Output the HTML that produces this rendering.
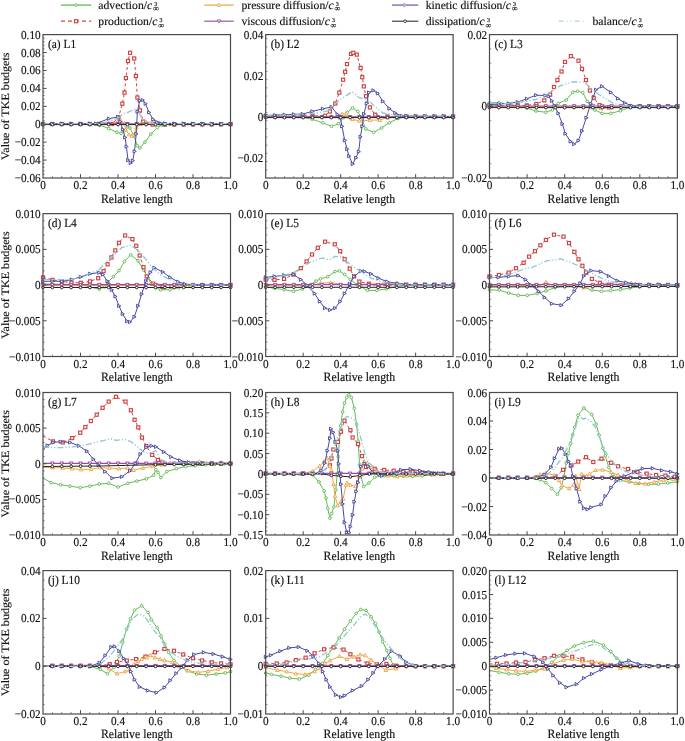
<!DOCTYPE html>
<html><head><meta charset="utf-8"><style>
html,body{margin:0;padding:0;background:#fff;overflow:hidden;width:685px;height:741px;}
svg{-webkit-font-smoothing:antialiased;text-rendering:geometricPrecision;will-change:transform;}
svg{display:block;}
text{font-family:"Liberation Serif", serif;fill:#111;stroke:#111;stroke-width:0.15px;}
</style></head><body>
<svg width="685" height="741" viewBox="0 0 685 741">
<path d="M61 5.1H91.2" stroke="#6cc060" stroke-width="1.4"/>
<circle cx="76.10" cy="5.10" r="1.35" fill="#fff" stroke="#6cc060" stroke-width="0.95"/>
<text transform="translate(98.30 8.80) scale(1 1.0)" font-size="11.7">advection/<tspan font-style="italic">c</tspan><tspan font-size="6" dx="2.1" dy="-2.8">3</tspan><tspan font-size="8.2" dx="-4.3" dy="5.4">∞</tspan></text>
<path d="M204.2 5.1H233.7" stroke="#f2b060" stroke-width="1.4"/>
<path d="M218.95 3.26L220.70 6.41H217.20Z" fill="#fff" stroke="#f2b060" stroke-width="0.95"/>
<text transform="translate(241.40 8.80) scale(1 1.0)" font-size="11.7">pressure diffusion/<tspan font-style="italic">c</tspan><tspan font-size="6" dx="2.1" dy="-2.8">3</tspan><tspan font-size="8.2" dx="-4.3" dy="5.4">∞</tspan></text>
<path d="M392 5.1H418.3" stroke="#8e8cc8" stroke-width="1.7"/>
<path d="M406.90 5.10L403.75 3.44V6.76Z" fill="#fff" stroke="#8e8cc8" stroke-width="0.95"/>
<text transform="translate(425.70 8.80) scale(1 1.0)" font-size="11.7">kinetic diffusion/<tspan font-style="italic">c</tspan><tspan font-size="6" dx="2.1" dy="-2.8">3</tspan><tspan font-size="8.2" dx="-4.3" dy="5.4">∞</tspan></text>
<path d="M61 21.2H91.2" stroke="#d04848" stroke-width="1.2" stroke-dasharray="4 3"/>
<rect x="74.55" y="19.65" width="3.1" height="3.1" fill="#fff" stroke="#d04848" stroke-width="1.15"/>
<text transform="translate(98.30 24.90) scale(1 1.0)" font-size="11.7">production/<tspan font-style="italic">c</tspan><tspan font-size="6" dx="2.1" dy="-2.8">3</tspan><tspan font-size="8.2" dx="-4.3" dy="5.4">∞</tspan></text>
<path d="M204.2 21.2H233.7" stroke="#a060a8" stroke-width="1.3"/>
<path d="M218.95 23.04L220.70 19.89H217.20Z" fill="#fff" stroke="#a060a8" stroke-width="0.95"/>
<text transform="translate(241.40 24.90) scale(1 1.0)" font-size="11.7">viscous diffusion/<tspan font-style="italic">c</tspan><tspan font-size="6" dx="2.1" dy="-2.8">3</tspan><tspan font-size="8.2" dx="-4.3" dy="5.4">∞</tspan></text>
<path d="M392 21.2H418.3" stroke="#333" stroke-width="1.1"/>
<circle cx="405.15" cy="21.20" r="1.35" fill="#fff" stroke="#333" stroke-width="0.95"/>
<text transform="translate(425.70 24.90) scale(1 1.0)" font-size="11.7">dissipation/<tspan font-style="italic">c</tspan><tspan font-size="6" dx="2.1" dy="-2.8">3</tspan><tspan font-size="8.2" dx="-4.3" dy="5.4">∞</tspan></text>
<path d="M558.6 21.2H584.7" stroke="#a8d8dc" stroke-width="1.3" stroke-dasharray="5 3 1 3 1 3"/>
<text transform="translate(592.50 24.90) scale(1 1.0)" font-size="11.7">balance/<tspan font-style="italic">c</tspan><tspan font-size="6" dx="2.1" dy="-2.8">3</tspan><tspan font-size="8.2" dx="-4.3" dy="5.4">∞</tspan></text>
<path d="M43.0 124.2 L96.0 124.2 L100.0 125.1 L108.8 128.6 L116.9 132.3 L121.0 133.4 L124.0 131.0 L127.2 126.8 L130.0 128.0 L134.1 136.3 L137.4 145.8 L139.9 148.0 L145.0 142.1 L150.9 134.1 L157.4 127.5 L162.0 125.0 L170.0 124.4 L230.5 124.2" stroke="#62bb55" stroke-width="1.0" fill="none" stroke-linejoin="round"/>
<circle cx="96.00" cy="124.20" r="1.35" fill="#fff" stroke="#62bb55" stroke-width="0.95"/>
<circle cx="100.00" cy="125.10" r="1.35" fill="#fff" stroke="#62bb55" stroke-width="0.95"/>
<circle cx="108.80" cy="128.60" r="1.35" fill="#fff" stroke="#62bb55" stroke-width="0.95"/>
<circle cx="116.90" cy="132.30" r="1.35" fill="#fff" stroke="#62bb55" stroke-width="0.95"/>
<circle cx="121.00" cy="133.40" r="1.35" fill="#fff" stroke="#62bb55" stroke-width="0.95"/>
<circle cx="124.00" cy="131.00" r="1.35" fill="#fff" stroke="#62bb55" stroke-width="0.95"/>
<circle cx="127.20" cy="126.80" r="1.35" fill="#fff" stroke="#62bb55" stroke-width="0.95"/>
<circle cx="130.00" cy="128.00" r="1.35" fill="#fff" stroke="#62bb55" stroke-width="0.95"/>
<circle cx="134.10" cy="136.30" r="1.35" fill="#fff" stroke="#62bb55" stroke-width="0.95"/>
<circle cx="137.40" cy="145.80" r="1.35" fill="#fff" stroke="#62bb55" stroke-width="0.95"/>
<circle cx="139.90" cy="148.00" r="1.35" fill="#fff" stroke="#62bb55" stroke-width="0.95"/>
<circle cx="145.00" cy="142.10" r="1.35" fill="#fff" stroke="#62bb55" stroke-width="0.95"/>
<circle cx="150.90" cy="134.10" r="1.35" fill="#fff" stroke="#62bb55" stroke-width="0.95"/>
<circle cx="157.40" cy="127.50" r="1.35" fill="#fff" stroke="#62bb55" stroke-width="0.95"/>
<circle cx="162.00" cy="125.00" r="1.35" fill="#fff" stroke="#62bb55" stroke-width="0.95"/>
<circle cx="170.00" cy="124.40" r="1.35" fill="#fff" stroke="#62bb55" stroke-width="0.95"/>
<circle cx="43.00" cy="124.20" r="1.35" fill="#fff" stroke="#62bb55" stroke-width="0.95"/>
<circle cx="52.38" cy="124.20" r="1.35" fill="#fff" stroke="#62bb55" stroke-width="0.95"/>
<circle cx="61.75" cy="124.20" r="1.35" fill="#fff" stroke="#62bb55" stroke-width="0.95"/>
<circle cx="71.12" cy="124.20" r="1.35" fill="#fff" stroke="#62bb55" stroke-width="0.95"/>
<circle cx="80.50" cy="124.20" r="1.35" fill="#fff" stroke="#62bb55" stroke-width="0.95"/>
<circle cx="89.88" cy="124.20" r="1.35" fill="#fff" stroke="#62bb55" stroke-width="0.95"/>
<circle cx="174.25" cy="124.39" r="1.35" fill="#fff" stroke="#62bb55" stroke-width="0.95"/>
<circle cx="183.62" cy="124.35" r="1.35" fill="#fff" stroke="#62bb55" stroke-width="0.95"/>
<circle cx="193.00" cy="124.32" r="1.35" fill="#fff" stroke="#62bb55" stroke-width="0.95"/>
<circle cx="202.38" cy="124.29" r="1.35" fill="#fff" stroke="#62bb55" stroke-width="0.95"/>
<circle cx="211.75" cy="124.26" r="1.35" fill="#fff" stroke="#62bb55" stroke-width="0.95"/>
<circle cx="221.12" cy="124.23" r="1.35" fill="#fff" stroke="#62bb55" stroke-width="0.95"/>
<circle cx="230.50" cy="124.20" r="1.35" fill="#fff" stroke="#62bb55" stroke-width="0.95"/>
<path d="M43.0 124.0 L112.0 124.0 L118.5 117.3 L122.4 103.7 L124.5 92.6 L125.9 78.0 L128.0 61.0 L130.1 52.8 L134.2 58.5 L135.9 76.0 L137.4 97.5 L140.0 110.4 L143.2 121.6 L152.6 124.6 L230.5 124.2" stroke="#cf4242" stroke-width="1.0" fill="none" stroke-linejoin="round" stroke-dasharray="3 2.5"/>
<rect x="110.45" y="122.45" width="3.1" height="3.1" fill="#fff" stroke="#cf4242" stroke-width="1.15"/>
<rect x="116.95" y="115.75" width="3.1" height="3.1" fill="#fff" stroke="#cf4242" stroke-width="1.15"/>
<rect x="120.85" y="102.15" width="3.1" height="3.1" fill="#fff" stroke="#cf4242" stroke-width="1.15"/>
<rect x="122.95" y="91.05" width="3.1" height="3.1" fill="#fff" stroke="#cf4242" stroke-width="1.15"/>
<rect x="124.35" y="76.45" width="3.1" height="3.1" fill="#fff" stroke="#cf4242" stroke-width="1.15"/>
<rect x="126.45" y="59.45" width="3.1" height="3.1" fill="#fff" stroke="#cf4242" stroke-width="1.15"/>
<rect x="128.55" y="51.25" width="3.1" height="3.1" fill="#fff" stroke="#cf4242" stroke-width="1.15"/>
<rect x="132.65" y="56.95" width="3.1" height="3.1" fill="#fff" stroke="#cf4242" stroke-width="1.15"/>
<rect x="134.35" y="74.45" width="3.1" height="3.1" fill="#fff" stroke="#cf4242" stroke-width="1.15"/>
<rect x="135.85" y="95.95" width="3.1" height="3.1" fill="#fff" stroke="#cf4242" stroke-width="1.15"/>
<rect x="138.45" y="108.85" width="3.1" height="3.1" fill="#fff" stroke="#cf4242" stroke-width="1.15"/>
<rect x="141.65" y="120.05" width="3.1" height="3.1" fill="#fff" stroke="#cf4242" stroke-width="1.15"/>
<rect x="151.05" y="123.05" width="3.1" height="3.1" fill="#fff" stroke="#cf4242" stroke-width="1.15"/>
<rect x="41.45" y="122.45" width="3.1" height="3.1" fill="#fff" stroke="#cf4242" stroke-width="1.15"/>
<rect x="50.83" y="122.45" width="3.1" height="3.1" fill="#fff" stroke="#cf4242" stroke-width="1.15"/>
<rect x="60.20" y="122.45" width="3.1" height="3.1" fill="#fff" stroke="#cf4242" stroke-width="1.15"/>
<rect x="69.58" y="122.45" width="3.1" height="3.1" fill="#fff" stroke="#cf4242" stroke-width="1.15"/>
<rect x="78.95" y="122.45" width="3.1" height="3.1" fill="#fff" stroke="#cf4242" stroke-width="1.15"/>
<rect x="88.33" y="122.45" width="3.1" height="3.1" fill="#fff" stroke="#cf4242" stroke-width="1.15"/>
<rect x="97.70" y="122.45" width="3.1" height="3.1" fill="#fff" stroke="#cf4242" stroke-width="1.15"/>
<rect x="163.32" y="122.99" width="3.1" height="3.1" fill="#fff" stroke="#cf4242" stroke-width="1.15"/>
<rect x="172.70" y="122.94" width="3.1" height="3.1" fill="#fff" stroke="#cf4242" stroke-width="1.15"/>
<rect x="182.07" y="122.89" width="3.1" height="3.1" fill="#fff" stroke="#cf4242" stroke-width="1.15"/>
<rect x="191.45" y="122.84" width="3.1" height="3.1" fill="#fff" stroke="#cf4242" stroke-width="1.15"/>
<rect x="200.83" y="122.79" width="3.1" height="3.1" fill="#fff" stroke="#cf4242" stroke-width="1.15"/>
<rect x="210.20" y="122.75" width="3.1" height="3.1" fill="#fff" stroke="#cf4242" stroke-width="1.15"/>
<rect x="219.57" y="122.70" width="3.1" height="3.1" fill="#fff" stroke="#cf4242" stroke-width="1.15"/>
<rect x="228.95" y="122.65" width="3.1" height="3.1" fill="#fff" stroke="#cf4242" stroke-width="1.15"/>
<path d="M43.0 124.0 L100.0 124.0 L110.0 123.9 L117.3 122.0 L121.0 121.0 L124.6 123.1 L125.7 129.7 L129.0 134.5 L131.9 135.9 L134.1 134.8 L136.3 127.5 L140.7 124.2 L146.5 122.4 L153.8 121.7 L157.4 122.8 L165.0 124.0 L230.5 124.0" stroke="#f0a445" stroke-width="1.0" fill="none" stroke-linejoin="round"/>
<path d="M100.00 122.16L101.75 125.31H98.25Z" fill="#fff" stroke="#f0a445" stroke-width="0.95"/>
<path d="M110.00 122.06L111.75 125.21H108.25Z" fill="#fff" stroke="#f0a445" stroke-width="0.95"/>
<path d="M117.30 120.16L119.05 123.31H115.55Z" fill="#fff" stroke="#f0a445" stroke-width="0.95"/>
<path d="M121.00 119.16L122.75 122.31H119.25Z" fill="#fff" stroke="#f0a445" stroke-width="0.95"/>
<path d="M124.60 121.26L126.35 124.41H122.85Z" fill="#fff" stroke="#f0a445" stroke-width="0.95"/>
<path d="M125.70 127.86L127.45 131.01H123.95Z" fill="#fff" stroke="#f0a445" stroke-width="0.95"/>
<path d="M129.00 132.66L130.75 135.81H127.25Z" fill="#fff" stroke="#f0a445" stroke-width="0.95"/>
<path d="M131.90 134.06L133.65 137.21H130.15Z" fill="#fff" stroke="#f0a445" stroke-width="0.95"/>
<path d="M134.10 132.96L135.85 136.11H132.35Z" fill="#fff" stroke="#f0a445" stroke-width="0.95"/>
<path d="M136.30 125.66L138.05 128.81H134.55Z" fill="#fff" stroke="#f0a445" stroke-width="0.95"/>
<path d="M140.70 122.36L142.45 125.51H138.95Z" fill="#fff" stroke="#f0a445" stroke-width="0.95"/>
<path d="M146.50 120.56L148.25 123.71H144.75Z" fill="#fff" stroke="#f0a445" stroke-width="0.95"/>
<path d="M153.80 119.86L155.55 123.01H152.05Z" fill="#fff" stroke="#f0a445" stroke-width="0.95"/>
<path d="M157.40 120.96L159.15 124.11H155.65Z" fill="#fff" stroke="#f0a445" stroke-width="0.95"/>
<path d="M165.00 122.16L166.75 125.31H163.25Z" fill="#fff" stroke="#f0a445" stroke-width="0.95"/>
<path d="M43.00 122.16L44.75 125.31H41.25Z" fill="#fff" stroke="#f0a445" stroke-width="0.95"/>
<path d="M52.38 122.16L54.12 125.31H50.62Z" fill="#fff" stroke="#f0a445" stroke-width="0.95"/>
<path d="M61.75 122.16L63.50 125.31H60.00Z" fill="#fff" stroke="#f0a445" stroke-width="0.95"/>
<path d="M71.12 122.16L72.88 125.31H69.38Z" fill="#fff" stroke="#f0a445" stroke-width="0.95"/>
<path d="M80.50 122.16L82.25 125.31H78.75Z" fill="#fff" stroke="#f0a445" stroke-width="0.95"/>
<path d="M89.88 122.16L91.62 125.31H88.12Z" fill="#fff" stroke="#f0a445" stroke-width="0.95"/>
<path d="M174.25 122.16L176.00 125.31H172.50Z" fill="#fff" stroke="#f0a445" stroke-width="0.95"/>
<path d="M183.62 122.16L185.38 125.31H181.88Z" fill="#fff" stroke="#f0a445" stroke-width="0.95"/>
<path d="M193.00 122.16L194.75 125.31H191.25Z" fill="#fff" stroke="#f0a445" stroke-width="0.95"/>
<path d="M202.38 122.16L204.13 125.31H200.63Z" fill="#fff" stroke="#f0a445" stroke-width="0.95"/>
<path d="M211.75 122.16L213.50 125.31H210.00Z" fill="#fff" stroke="#f0a445" stroke-width="0.95"/>
<path d="M221.12 122.16L222.88 125.31H219.38Z" fill="#fff" stroke="#f0a445" stroke-width="0.95"/>
<path d="M230.50 122.16L232.25 125.31H228.75Z" fill="#fff" stroke="#f0a445" stroke-width="0.95"/>
<path d="M43.0 123.8 L230.5 123.8" stroke="#9a4aa5" stroke-width="1.2" fill="none" stroke-linejoin="round"/>
<path d="M43.00 125.64L44.75 122.49H41.25Z" fill="#fff" stroke="#9a4aa5" stroke-width="0.95"/>
<path d="M52.38 125.64L54.12 122.49H50.62Z" fill="#fff" stroke="#9a4aa5" stroke-width="0.95"/>
<path d="M61.75 125.64L63.50 122.49H60.00Z" fill="#fff" stroke="#9a4aa5" stroke-width="0.95"/>
<path d="M71.12 125.64L72.88 122.49H69.38Z" fill="#fff" stroke="#9a4aa5" stroke-width="0.95"/>
<path d="M80.50 125.64L82.25 122.49H78.75Z" fill="#fff" stroke="#9a4aa5" stroke-width="0.95"/>
<path d="M89.88 125.64L91.62 122.49H88.12Z" fill="#fff" stroke="#9a4aa5" stroke-width="0.95"/>
<path d="M99.25 125.64L101.00 122.49H97.50Z" fill="#fff" stroke="#9a4aa5" stroke-width="0.95"/>
<path d="M108.62 125.64L110.38 122.49H106.88Z" fill="#fff" stroke="#9a4aa5" stroke-width="0.95"/>
<path d="M118.00 125.64L119.75 122.49H116.25Z" fill="#fff" stroke="#9a4aa5" stroke-width="0.95"/>
<path d="M127.38 125.64L129.12 122.49H125.62Z" fill="#fff" stroke="#9a4aa5" stroke-width="0.95"/>
<path d="M136.75 125.64L138.50 122.49H135.00Z" fill="#fff" stroke="#9a4aa5" stroke-width="0.95"/>
<path d="M146.12 125.64L147.88 122.49H144.38Z" fill="#fff" stroke="#9a4aa5" stroke-width="0.95"/>
<path d="M155.50 125.64L157.25 122.49H153.75Z" fill="#fff" stroke="#9a4aa5" stroke-width="0.95"/>
<path d="M164.88 125.64L166.62 122.49H163.12Z" fill="#fff" stroke="#9a4aa5" stroke-width="0.95"/>
<path d="M174.25 125.64L176.00 122.49H172.50Z" fill="#fff" stroke="#9a4aa5" stroke-width="0.95"/>
<path d="M183.62 125.64L185.38 122.49H181.88Z" fill="#fff" stroke="#9a4aa5" stroke-width="0.95"/>
<path d="M193.00 125.64L194.75 122.49H191.25Z" fill="#fff" stroke="#9a4aa5" stroke-width="0.95"/>
<path d="M202.38 125.64L204.13 122.49H200.63Z" fill="#fff" stroke="#9a4aa5" stroke-width="0.95"/>
<path d="M211.75 125.64L213.50 122.49H210.00Z" fill="#fff" stroke="#9a4aa5" stroke-width="0.95"/>
<path d="M221.12 125.64L222.88 122.49H219.38Z" fill="#fff" stroke="#9a4aa5" stroke-width="0.95"/>
<path d="M230.50 125.64L232.25 122.49H228.75Z" fill="#fff" stroke="#9a4aa5" stroke-width="0.95"/>
<path d="M43.0 123.9 L96.0 123.6 L108.8 118.7 L118.0 116.9 L120.2 121.7 L122.8 129.3 L125.0 137.4 L126.4 146.5 L128.0 160.1 L130.6 163.0 L132.7 160.7 L134.5 151.4 L136.2 133.9 L137.4 111.7 L139.7 100.7 L142.6 100.1 L145.5 103.7 L149.0 112.4 L153.1 119.4 L157.2 122.2 L160.7 123.4 L230.5 124.0" stroke="#4848a2" stroke-width="1.0" fill="none" stroke-linejoin="round"/>
<path d="M97.75 123.60L94.60 121.94V125.26Z" fill="#fff" stroke="#4848a2" stroke-width="0.95"/>
<path d="M110.55 118.70L107.40 117.04V120.36Z" fill="#fff" stroke="#4848a2" stroke-width="0.95"/>
<path d="M119.75 116.90L116.60 115.24V118.56Z" fill="#fff" stroke="#4848a2" stroke-width="0.95"/>
<path d="M121.95 121.70L118.80 120.04V123.36Z" fill="#fff" stroke="#4848a2" stroke-width="0.95"/>
<path d="M124.55 129.30L121.40 127.64V130.96Z" fill="#fff" stroke="#4848a2" stroke-width="0.95"/>
<path d="M126.75 137.40L123.60 135.74V139.06Z" fill="#fff" stroke="#4848a2" stroke-width="0.95"/>
<path d="M128.15 146.50L125.00 144.84V148.16Z" fill="#fff" stroke="#4848a2" stroke-width="0.95"/>
<path d="M129.75 160.10L126.60 158.44V161.76Z" fill="#fff" stroke="#4848a2" stroke-width="0.95"/>
<path d="M132.35 163.00L129.20 161.34V164.66Z" fill="#fff" stroke="#4848a2" stroke-width="0.95"/>
<path d="M134.45 160.70L131.30 159.04V162.36Z" fill="#fff" stroke="#4848a2" stroke-width="0.95"/>
<path d="M136.25 151.40L133.10 149.74V153.06Z" fill="#fff" stroke="#4848a2" stroke-width="0.95"/>
<path d="M137.95 133.90L134.80 132.24V135.56Z" fill="#fff" stroke="#4848a2" stroke-width="0.95"/>
<path d="M139.15 111.70L136.00 110.04V113.36Z" fill="#fff" stroke="#4848a2" stroke-width="0.95"/>
<path d="M141.45 100.70L138.30 99.04V102.36Z" fill="#fff" stroke="#4848a2" stroke-width="0.95"/>
<path d="M144.35 100.10L141.20 98.44V101.76Z" fill="#fff" stroke="#4848a2" stroke-width="0.95"/>
<path d="M147.25 103.70L144.10 102.04V105.36Z" fill="#fff" stroke="#4848a2" stroke-width="0.95"/>
<path d="M150.75 112.40L147.60 110.74V114.06Z" fill="#fff" stroke="#4848a2" stroke-width="0.95"/>
<path d="M154.85 119.40L151.70 117.74V121.06Z" fill="#fff" stroke="#4848a2" stroke-width="0.95"/>
<path d="M158.95 122.20L155.80 120.54V123.86Z" fill="#fff" stroke="#4848a2" stroke-width="0.95"/>
<path d="M162.45 123.40L159.30 121.74V125.06Z" fill="#fff" stroke="#4848a2" stroke-width="0.95"/>
<path d="M44.75 123.90L41.60 122.24V125.56Z" fill="#fff" stroke="#4848a2" stroke-width="0.95"/>
<path d="M54.12 123.85L50.98 122.18V125.51Z" fill="#fff" stroke="#4848a2" stroke-width="0.95"/>
<path d="M63.50 123.79L60.35 122.13V125.46Z" fill="#fff" stroke="#4848a2" stroke-width="0.95"/>
<path d="M72.88 123.74L69.72 122.08V125.40Z" fill="#fff" stroke="#4848a2" stroke-width="0.95"/>
<path d="M82.25 123.69L79.10 122.03V125.35Z" fill="#fff" stroke="#4848a2" stroke-width="0.95"/>
<path d="M91.62 123.63L88.47 121.97V125.30Z" fill="#fff" stroke="#4848a2" stroke-width="0.95"/>
<path d="M166.62 123.44L163.47 121.77V125.10Z" fill="#fff" stroke="#4848a2" stroke-width="0.95"/>
<path d="M176.00 123.52L172.85 121.85V125.18Z" fill="#fff" stroke="#4848a2" stroke-width="0.95"/>
<path d="M185.38 123.60L182.22 121.93V125.26Z" fill="#fff" stroke="#4848a2" stroke-width="0.95"/>
<path d="M194.75 123.68L191.60 122.02V125.34Z" fill="#fff" stroke="#4848a2" stroke-width="0.95"/>
<path d="M204.13 123.76L200.98 122.10V125.42Z" fill="#fff" stroke="#4848a2" stroke-width="0.95"/>
<path d="M213.50 123.84L210.35 122.18V125.50Z" fill="#fff" stroke="#4848a2" stroke-width="0.95"/>
<path d="M222.88 123.92L219.72 122.26V125.58Z" fill="#fff" stroke="#4848a2" stroke-width="0.95"/>
<path d="M232.25 124.00L229.10 122.34V125.66Z" fill="#fff" stroke="#4848a2" stroke-width="0.95"/>
<path d="M43.0 124.6 L230.5 124.6" stroke="#222" stroke-width="1.0" fill="none" stroke-linejoin="round"/>
<circle cx="43.00" cy="124.60" r="1.35" fill="#fff" stroke="#222" stroke-width="0.95"/>
<circle cx="52.38" cy="124.60" r="1.35" fill="#fff" stroke="#222" stroke-width="0.95"/>
<circle cx="61.75" cy="124.60" r="1.35" fill="#fff" stroke="#222" stroke-width="0.95"/>
<circle cx="71.12" cy="124.60" r="1.35" fill="#fff" stroke="#222" stroke-width="0.95"/>
<circle cx="80.50" cy="124.60" r="1.35" fill="#fff" stroke="#222" stroke-width="0.95"/>
<circle cx="89.88" cy="124.60" r="1.35" fill="#fff" stroke="#222" stroke-width="0.95"/>
<circle cx="99.25" cy="124.60" r="1.35" fill="#fff" stroke="#222" stroke-width="0.95"/>
<circle cx="108.62" cy="124.60" r="1.35" fill="#fff" stroke="#222" stroke-width="0.95"/>
<circle cx="118.00" cy="124.60" r="1.35" fill="#fff" stroke="#222" stroke-width="0.95"/>
<circle cx="127.38" cy="124.60" r="1.35" fill="#fff" stroke="#222" stroke-width="0.95"/>
<circle cx="136.75" cy="124.60" r="1.35" fill="#fff" stroke="#222" stroke-width="0.95"/>
<circle cx="146.12" cy="124.60" r="1.35" fill="#fff" stroke="#222" stroke-width="0.95"/>
<circle cx="155.50" cy="124.60" r="1.35" fill="#fff" stroke="#222" stroke-width="0.95"/>
<circle cx="164.88" cy="124.60" r="1.35" fill="#fff" stroke="#222" stroke-width="0.95"/>
<circle cx="174.25" cy="124.60" r="1.35" fill="#fff" stroke="#222" stroke-width="0.95"/>
<circle cx="183.62" cy="124.60" r="1.35" fill="#fff" stroke="#222" stroke-width="0.95"/>
<circle cx="193.00" cy="124.60" r="1.35" fill="#fff" stroke="#222" stroke-width="0.95"/>
<circle cx="202.38" cy="124.60" r="1.35" fill="#fff" stroke="#222" stroke-width="0.95"/>
<circle cx="211.75" cy="124.60" r="1.35" fill="#fff" stroke="#222" stroke-width="0.95"/>
<circle cx="221.12" cy="124.60" r="1.35" fill="#fff" stroke="#222" stroke-width="0.95"/>
<circle cx="230.50" cy="124.60" r="1.35" fill="#fff" stroke="#222" stroke-width="0.95"/>
<path d="M43.0 123.6 L100.0 123.6 L110.0 121.0 L119.5 117.3 L123.4 113.6 L128.0 112.4 L132.7 110.0 L135.0 109.5 L138.5 112.4 L142.0 118.2 L145.8 122.4 L150.0 123.6 L230.5 123.6" stroke="#8cc8cf" stroke-width="1.3" fill="none" stroke-linejoin="round" stroke-dasharray="6 2 1.2 2 1.2 2"/>
<path d="M43.00 160.07h3.6M43.00 142.15h3.6M43.00 124.22h3.6M43.00 106.30h3.6M43.00 88.38h3.6M43.00 70.45h3.6M43.00 52.52h3.6M80.50 178.00v-3.8M118.00 178.00v-3.8M155.50 178.00v-3.8M193.00 178.00v-3.8" stroke="#4a4a4a" stroke-width="1" fill="none"/>
<path d="M43.00 174.41h1.8M43.00 170.83h1.8M43.00 167.25h1.8M43.00 163.66h1.8M43.00 156.49h1.8M43.00 152.91h1.8M43.00 149.32h1.8M43.00 145.73h1.8M43.00 138.56h1.8M43.00 134.98h1.8M43.00 131.39h1.8M43.00 127.81h1.8M43.00 120.64h1.8M43.00 117.05h1.8M43.00 113.47h1.8M43.00 109.89h1.8M43.00 102.71h1.8M43.00 99.13h1.8M43.00 95.55h1.8M43.00 91.96h1.8M43.00 84.79h1.8M43.00 81.21h1.8M43.00 77.62h1.8M43.00 74.03h1.8M43.00 66.86h1.8M43.00 63.28h1.8M43.00 59.69h1.8M43.00 56.11h1.8M43.00 48.94h1.8M43.00 45.36h1.8M43.00 41.77h1.8M43.00 38.19h1.8M52.38 178.00v-2.0M61.75 178.00v-2.0M71.12 178.00v-2.0M89.88 178.00v-2.0M99.25 178.00v-2.0M108.62 178.00v-2.0M127.38 178.00v-2.0M136.75 178.00v-2.0M146.12 178.00v-2.0M164.88 178.00v-2.0M174.25 178.00v-2.0M183.62 178.00v-2.0M202.38 178.00v-2.0M211.75 178.00v-2.0M221.12 178.00v-2.0" stroke="#7a7a7a" stroke-width="0.8" fill="none"/>
<rect x="43.00" y="34.60" width="187.50" height="143.40" stroke="#4a4a4a" stroke-width="1.2" fill="none"/>
<text transform="translate(40.60 182.00) scale(1 1.08)" text-anchor="end" font-size="11.2">−0.06</text>
<text transform="translate(40.60 164.07) scale(1 1.08)" text-anchor="end" font-size="11.2">−0.04</text>
<text transform="translate(40.60 146.15) scale(1 1.08)" text-anchor="end" font-size="11.2">−0.02</text>
<text transform="translate(40.60 128.22) scale(1 1.08)" text-anchor="end" font-size="11.2">0</text>
<text transform="translate(40.60 110.30) scale(1 1.08)" text-anchor="end" font-size="11.2">0.02</text>
<text transform="translate(40.60 92.38) scale(1 1.08)" text-anchor="end" font-size="11.2">0.04</text>
<text transform="translate(40.60 74.45) scale(1 1.08)" text-anchor="end" font-size="11.2">0.06</text>
<text transform="translate(40.60 56.52) scale(1 1.08)" text-anchor="end" font-size="11.2">0.08</text>
<text transform="translate(40.60 38.60) scale(1 1.08)" text-anchor="end" font-size="11.2">0.10</text>
<text transform="translate(43.00 189.00) scale(1 1.08)" text-anchor="middle" font-size="11.2">0</text>
<text transform="translate(80.50 189.00) scale(1 1.08)" text-anchor="middle" font-size="11.2">0.2</text>
<text transform="translate(118.00 189.00) scale(1 1.08)" text-anchor="middle" font-size="11.2">0.4</text>
<text transform="translate(155.50 189.00) scale(1 1.08)" text-anchor="middle" font-size="11.2">0.6</text>
<text transform="translate(193.00 189.00) scale(1 1.08)" text-anchor="middle" font-size="11.2">0.8</text>
<text transform="translate(230.50 189.00) scale(1 1.08)" text-anchor="middle" font-size="11.2">1.0</text>
<text transform="translate(136.75 202.80) scale(1 1.08)" text-anchor="middle" font-size="11.8">Relative length</text>
<text transform="translate(8.5 106.30) rotate(-90) scale(1.08 1)" text-anchor="middle" font-size="11.2">Value of TKE budgets</text>
<text transform="translate(48.00 48.00) scale(1 1.08)" font-size="11.4">(a) L1</text>
<path d="M265.7 116.5 L300.0 116.6 L312.3 119.3 L322.8 122.8 L331.5 126.3 L338.5 123.7 L343.8 117.5 L347.3 112.3 L352.6 107.9 L357.8 111.4 L361.3 117.5 L365.7 128.9 L373.6 132.4 L381.5 128.0 L389.3 122.8 L398.1 118.4 L405.0 116.8 L453.1 116.6" stroke="#62bb55" stroke-width="1.0" fill="none" stroke-linejoin="round"/>
<circle cx="300.00" cy="116.60" r="1.35" fill="#fff" stroke="#62bb55" stroke-width="0.95"/>
<circle cx="312.30" cy="119.30" r="1.35" fill="#fff" stroke="#62bb55" stroke-width="0.95"/>
<circle cx="322.80" cy="122.80" r="1.35" fill="#fff" stroke="#62bb55" stroke-width="0.95"/>
<circle cx="331.50" cy="126.30" r="1.35" fill="#fff" stroke="#62bb55" stroke-width="0.95"/>
<circle cx="338.50" cy="123.70" r="1.35" fill="#fff" stroke="#62bb55" stroke-width="0.95"/>
<circle cx="343.80" cy="117.50" r="1.35" fill="#fff" stroke="#62bb55" stroke-width="0.95"/>
<circle cx="347.30" cy="112.30" r="1.35" fill="#fff" stroke="#62bb55" stroke-width="0.95"/>
<circle cx="352.60" cy="107.90" r="1.35" fill="#fff" stroke="#62bb55" stroke-width="0.95"/>
<circle cx="357.80" cy="111.40" r="1.35" fill="#fff" stroke="#62bb55" stroke-width="0.95"/>
<circle cx="361.30" cy="117.50" r="1.35" fill="#fff" stroke="#62bb55" stroke-width="0.95"/>
<circle cx="365.70" cy="128.90" r="1.35" fill="#fff" stroke="#62bb55" stroke-width="0.95"/>
<circle cx="373.60" cy="132.40" r="1.35" fill="#fff" stroke="#62bb55" stroke-width="0.95"/>
<circle cx="381.50" cy="128.00" r="1.35" fill="#fff" stroke="#62bb55" stroke-width="0.95"/>
<circle cx="389.30" cy="122.80" r="1.35" fill="#fff" stroke="#62bb55" stroke-width="0.95"/>
<circle cx="398.10" cy="118.40" r="1.35" fill="#fff" stroke="#62bb55" stroke-width="0.95"/>
<circle cx="265.70" cy="116.50" r="1.35" fill="#fff" stroke="#62bb55" stroke-width="0.95"/>
<circle cx="275.07" cy="116.53" r="1.35" fill="#fff" stroke="#62bb55" stroke-width="0.95"/>
<circle cx="284.44" cy="116.55" r="1.35" fill="#fff" stroke="#62bb55" stroke-width="0.95"/>
<circle cx="293.81" cy="116.58" r="1.35" fill="#fff" stroke="#62bb55" stroke-width="0.95"/>
<circle cx="415.62" cy="116.76" r="1.35" fill="#fff" stroke="#62bb55" stroke-width="0.95"/>
<circle cx="424.99" cy="116.72" r="1.35" fill="#fff" stroke="#62bb55" stroke-width="0.95"/>
<circle cx="434.36" cy="116.68" r="1.35" fill="#fff" stroke="#62bb55" stroke-width="0.95"/>
<circle cx="443.73" cy="116.64" r="1.35" fill="#fff" stroke="#62bb55" stroke-width="0.95"/>
<circle cx="453.10" cy="116.60" r="1.35" fill="#fff" stroke="#62bb55" stroke-width="0.95"/>
<path d="M265.7 116.2 L325.0 115.8 L329.9 111.5 L335.3 103.5 L339.3 92.6 L343.1 79.7 L345.1 71.8 L347.0 64.1 L351.0 53.9 L353.3 52.8 L356.8 54.6 L360.6 68.0 L362.3 77.2 L363.8 86.4 L366.0 96.2 L369.9 107.4 L375.2 114.7 L382.0 116.5 L453.1 116.5" stroke="#cf4242" stroke-width="1.0" fill="none" stroke-linejoin="round" stroke-dasharray="3 2.5"/>
<rect x="323.45" y="114.25" width="3.1" height="3.1" fill="#fff" stroke="#cf4242" stroke-width="1.15"/>
<rect x="328.35" y="109.95" width="3.1" height="3.1" fill="#fff" stroke="#cf4242" stroke-width="1.15"/>
<rect x="333.75" y="101.95" width="3.1" height="3.1" fill="#fff" stroke="#cf4242" stroke-width="1.15"/>
<rect x="337.75" y="91.05" width="3.1" height="3.1" fill="#fff" stroke="#cf4242" stroke-width="1.15"/>
<rect x="341.55" y="78.15" width="3.1" height="3.1" fill="#fff" stroke="#cf4242" stroke-width="1.15"/>
<rect x="343.55" y="70.25" width="3.1" height="3.1" fill="#fff" stroke="#cf4242" stroke-width="1.15"/>
<rect x="345.45" y="62.55" width="3.1" height="3.1" fill="#fff" stroke="#cf4242" stroke-width="1.15"/>
<rect x="349.45" y="52.35" width="3.1" height="3.1" fill="#fff" stroke="#cf4242" stroke-width="1.15"/>
<rect x="351.75" y="51.25" width="3.1" height="3.1" fill="#fff" stroke="#cf4242" stroke-width="1.15"/>
<rect x="355.25" y="53.05" width="3.1" height="3.1" fill="#fff" stroke="#cf4242" stroke-width="1.15"/>
<rect x="359.05" y="66.45" width="3.1" height="3.1" fill="#fff" stroke="#cf4242" stroke-width="1.15"/>
<rect x="360.75" y="75.65" width="3.1" height="3.1" fill="#fff" stroke="#cf4242" stroke-width="1.15"/>
<rect x="362.25" y="84.85" width="3.1" height="3.1" fill="#fff" stroke="#cf4242" stroke-width="1.15"/>
<rect x="364.45" y="94.65" width="3.1" height="3.1" fill="#fff" stroke="#cf4242" stroke-width="1.15"/>
<rect x="368.35" y="105.85" width="3.1" height="3.1" fill="#fff" stroke="#cf4242" stroke-width="1.15"/>
<rect x="373.65" y="113.15" width="3.1" height="3.1" fill="#fff" stroke="#cf4242" stroke-width="1.15"/>
<rect x="264.15" y="114.65" width="3.1" height="3.1" fill="#fff" stroke="#cf4242" stroke-width="1.15"/>
<rect x="273.52" y="114.59" width="3.1" height="3.1" fill="#fff" stroke="#cf4242" stroke-width="1.15"/>
<rect x="282.89" y="114.52" width="3.1" height="3.1" fill="#fff" stroke="#cf4242" stroke-width="1.15"/>
<rect x="292.26" y="114.46" width="3.1" height="3.1" fill="#fff" stroke="#cf4242" stroke-width="1.15"/>
<rect x="301.63" y="114.40" width="3.1" height="3.1" fill="#fff" stroke="#cf4242" stroke-width="1.15"/>
<rect x="311.00" y="114.33" width="3.1" height="3.1" fill="#fff" stroke="#cf4242" stroke-width="1.15"/>
<rect x="385.96" y="114.95" width="3.1" height="3.1" fill="#fff" stroke="#cf4242" stroke-width="1.15"/>
<rect x="395.33" y="114.95" width="3.1" height="3.1" fill="#fff" stroke="#cf4242" stroke-width="1.15"/>
<rect x="404.70" y="114.95" width="3.1" height="3.1" fill="#fff" stroke="#cf4242" stroke-width="1.15"/>
<rect x="414.07" y="114.95" width="3.1" height="3.1" fill="#fff" stroke="#cf4242" stroke-width="1.15"/>
<rect x="423.44" y="114.95" width="3.1" height="3.1" fill="#fff" stroke="#cf4242" stroke-width="1.15"/>
<rect x="432.81" y="114.95" width="3.1" height="3.1" fill="#fff" stroke="#cf4242" stroke-width="1.15"/>
<rect x="442.18" y="114.95" width="3.1" height="3.1" fill="#fff" stroke="#cf4242" stroke-width="1.15"/>
<rect x="451.55" y="114.95" width="3.1" height="3.1" fill="#fff" stroke="#cf4242" stroke-width="1.15"/>
<path d="M265.7 116.6 L336.0 116.6 L342.0 114.0 L346.4 114.0 L352.6 119.3 L359.6 121.0 L370.0 120.1 L379.7 120.1 L387.6 117.5 L395.0 116.7 L453.1 116.6" stroke="#f0a445" stroke-width="1.0" fill="none" stroke-linejoin="round"/>
<path d="M342.00 112.16L343.75 115.31H340.25Z" fill="#fff" stroke="#f0a445" stroke-width="0.95"/>
<path d="M346.40 112.16L348.15 115.31H344.65Z" fill="#fff" stroke="#f0a445" stroke-width="0.95"/>
<path d="M352.60 117.46L354.35 120.61H350.85Z" fill="#fff" stroke="#f0a445" stroke-width="0.95"/>
<path d="M359.60 119.16L361.35 122.31H357.85Z" fill="#fff" stroke="#f0a445" stroke-width="0.95"/>
<path d="M370.00 118.26L371.75 121.41H368.25Z" fill="#fff" stroke="#f0a445" stroke-width="0.95"/>
<path d="M379.70 118.26L381.45 121.41H377.95Z" fill="#fff" stroke="#f0a445" stroke-width="0.95"/>
<path d="M387.60 115.66L389.35 118.81H385.85Z" fill="#fff" stroke="#f0a445" stroke-width="0.95"/>
<path d="M265.70 114.76L267.45 117.91H263.95Z" fill="#fff" stroke="#f0a445" stroke-width="0.95"/>
<path d="M275.07 114.76L276.82 117.91H273.32Z" fill="#fff" stroke="#f0a445" stroke-width="0.95"/>
<path d="M284.44 114.76L286.19 117.91H282.69Z" fill="#fff" stroke="#f0a445" stroke-width="0.95"/>
<path d="M293.81 114.76L295.56 117.91H292.06Z" fill="#fff" stroke="#f0a445" stroke-width="0.95"/>
<path d="M303.18 114.76L304.93 117.91H301.43Z" fill="#fff" stroke="#f0a445" stroke-width="0.95"/>
<path d="M312.55 114.76L314.30 117.91H310.80Z" fill="#fff" stroke="#f0a445" stroke-width="0.95"/>
<path d="M321.92 114.76L323.67 117.91H320.17Z" fill="#fff" stroke="#f0a445" stroke-width="0.95"/>
<path d="M331.29 114.76L333.04 117.91H329.54Z" fill="#fff" stroke="#f0a445" stroke-width="0.95"/>
<path d="M406.25 114.84L408.00 117.99H404.50Z" fill="#fff" stroke="#f0a445" stroke-width="0.95"/>
<path d="M415.62 114.83L417.37 117.98H413.87Z" fill="#fff" stroke="#f0a445" stroke-width="0.95"/>
<path d="M424.99 114.81L426.74 117.96H423.24Z" fill="#fff" stroke="#f0a445" stroke-width="0.95"/>
<path d="M434.36 114.79L436.11 117.94H432.61Z" fill="#fff" stroke="#f0a445" stroke-width="0.95"/>
<path d="M443.73 114.78L445.48 117.93H441.98Z" fill="#fff" stroke="#f0a445" stroke-width="0.95"/>
<path d="M453.10 114.76L454.85 117.91H451.35Z" fill="#fff" stroke="#f0a445" stroke-width="0.95"/>
<path d="M265.7 116.9 L453.1 116.9" stroke="#9a4aa5" stroke-width="1.2" fill="none" stroke-linejoin="round"/>
<path d="M265.70 118.74L267.45 115.59H263.95Z" fill="#fff" stroke="#9a4aa5" stroke-width="0.95"/>
<path d="M275.07 118.74L276.82 115.59H273.32Z" fill="#fff" stroke="#9a4aa5" stroke-width="0.95"/>
<path d="M284.44 118.74L286.19 115.59H282.69Z" fill="#fff" stroke="#9a4aa5" stroke-width="0.95"/>
<path d="M293.81 118.74L295.56 115.59H292.06Z" fill="#fff" stroke="#9a4aa5" stroke-width="0.95"/>
<path d="M303.18 118.74L304.93 115.59H301.43Z" fill="#fff" stroke="#9a4aa5" stroke-width="0.95"/>
<path d="M312.55 118.74L314.30 115.59H310.80Z" fill="#fff" stroke="#9a4aa5" stroke-width="0.95"/>
<path d="M321.92 118.74L323.67 115.59H320.17Z" fill="#fff" stroke="#9a4aa5" stroke-width="0.95"/>
<path d="M331.29 118.74L333.04 115.59H329.54Z" fill="#fff" stroke="#9a4aa5" stroke-width="0.95"/>
<path d="M340.66 118.74L342.41 115.59H338.91Z" fill="#fff" stroke="#9a4aa5" stroke-width="0.95"/>
<path d="M350.03 118.74L351.78 115.59H348.28Z" fill="#fff" stroke="#9a4aa5" stroke-width="0.95"/>
<path d="M359.40 118.74L361.15 115.59H357.65Z" fill="#fff" stroke="#9a4aa5" stroke-width="0.95"/>
<path d="M368.77 118.74L370.52 115.59H367.02Z" fill="#fff" stroke="#9a4aa5" stroke-width="0.95"/>
<path d="M378.14 118.74L379.89 115.59H376.39Z" fill="#fff" stroke="#9a4aa5" stroke-width="0.95"/>
<path d="M387.51 118.74L389.26 115.59H385.76Z" fill="#fff" stroke="#9a4aa5" stroke-width="0.95"/>
<path d="M396.88 118.74L398.63 115.59H395.13Z" fill="#fff" stroke="#9a4aa5" stroke-width="0.95"/>
<path d="M406.25 118.74L408.00 115.59H404.50Z" fill="#fff" stroke="#9a4aa5" stroke-width="0.95"/>
<path d="M415.62 118.74L417.37 115.59H413.87Z" fill="#fff" stroke="#9a4aa5" stroke-width="0.95"/>
<path d="M424.99 118.74L426.74 115.59H423.24Z" fill="#fff" stroke="#9a4aa5" stroke-width="0.95"/>
<path d="M434.36 118.74L436.11 115.59H432.61Z" fill="#fff" stroke="#9a4aa5" stroke-width="0.95"/>
<path d="M443.73 118.74L445.48 115.59H441.98Z" fill="#fff" stroke="#9a4aa5" stroke-width="0.95"/>
<path d="M453.10 118.74L454.85 115.59H451.35Z" fill="#fff" stroke="#9a4aa5" stroke-width="0.95"/>
<path d="M265.7 115.5 L302.6 114.0 L312.3 111.4 L322.8 108.8 L331.5 107.0 L337.5 114.5 L340.3 117.5 L342.0 126.3 L344.7 140.3 L347.0 149.0 L349.0 156.0 L352.6 164.0 L356.0 157.8 L358.7 151.7 L360.4 136.8 L362.2 126.3 L363.9 114.0 L366.6 103.5 L368.9 92.6 L373.3 90.4 L377.7 93.3 L382.8 101.3 L389.3 108.6 L395.2 113.0 L401.8 115.9 L453.1 116.5" stroke="#4848a2" stroke-width="1.0" fill="none" stroke-linejoin="round"/>
<path d="M304.35 114.00L301.20 112.34V115.66Z" fill="#fff" stroke="#4848a2" stroke-width="0.95"/>
<path d="M314.05 111.40L310.90 109.74V113.06Z" fill="#fff" stroke="#4848a2" stroke-width="0.95"/>
<path d="M324.55 108.80L321.40 107.14V110.46Z" fill="#fff" stroke="#4848a2" stroke-width="0.95"/>
<path d="M333.25 107.00L330.10 105.34V108.66Z" fill="#fff" stroke="#4848a2" stroke-width="0.95"/>
<path d="M339.25 114.50L336.10 112.84V116.16Z" fill="#fff" stroke="#4848a2" stroke-width="0.95"/>
<path d="M342.05 117.50L338.90 115.84V119.16Z" fill="#fff" stroke="#4848a2" stroke-width="0.95"/>
<path d="M343.75 126.30L340.60 124.64V127.96Z" fill="#fff" stroke="#4848a2" stroke-width="0.95"/>
<path d="M346.45 140.30L343.30 138.64V141.96Z" fill="#fff" stroke="#4848a2" stroke-width="0.95"/>
<path d="M348.75 149.00L345.60 147.34V150.66Z" fill="#fff" stroke="#4848a2" stroke-width="0.95"/>
<path d="M350.75 156.00L347.60 154.34V157.66Z" fill="#fff" stroke="#4848a2" stroke-width="0.95"/>
<path d="M354.35 164.00L351.20 162.34V165.66Z" fill="#fff" stroke="#4848a2" stroke-width="0.95"/>
<path d="M357.75 157.80L354.60 156.14V159.46Z" fill="#fff" stroke="#4848a2" stroke-width="0.95"/>
<path d="M360.45 151.70L357.30 150.04V153.36Z" fill="#fff" stroke="#4848a2" stroke-width="0.95"/>
<path d="M362.15 136.80L359.00 135.14V138.46Z" fill="#fff" stroke="#4848a2" stroke-width="0.95"/>
<path d="M363.95 126.30L360.80 124.64V127.96Z" fill="#fff" stroke="#4848a2" stroke-width="0.95"/>
<path d="M365.65 114.00L362.50 112.34V115.66Z" fill="#fff" stroke="#4848a2" stroke-width="0.95"/>
<path d="M368.35 103.50L365.20 101.84V105.16Z" fill="#fff" stroke="#4848a2" stroke-width="0.95"/>
<path d="M370.65 92.60L367.50 90.94V94.26Z" fill="#fff" stroke="#4848a2" stroke-width="0.95"/>
<path d="M375.05 90.40L371.90 88.74V92.06Z" fill="#fff" stroke="#4848a2" stroke-width="0.95"/>
<path d="M379.45 93.30L376.30 91.64V94.96Z" fill="#fff" stroke="#4848a2" stroke-width="0.95"/>
<path d="M384.55 101.30L381.40 99.64V102.96Z" fill="#fff" stroke="#4848a2" stroke-width="0.95"/>
<path d="M391.05 108.60L387.90 106.94V110.26Z" fill="#fff" stroke="#4848a2" stroke-width="0.95"/>
<path d="M396.95 113.00L393.80 111.34V114.66Z" fill="#fff" stroke="#4848a2" stroke-width="0.95"/>
<path d="M403.55 115.90L400.40 114.24V117.56Z" fill="#fff" stroke="#4848a2" stroke-width="0.95"/>
<path d="M267.45 115.50L264.30 113.84V117.16Z" fill="#fff" stroke="#4848a2" stroke-width="0.95"/>
<path d="M276.82 115.12L273.67 113.46V116.78Z" fill="#fff" stroke="#4848a2" stroke-width="0.95"/>
<path d="M286.19 114.74L283.04 113.08V116.40Z" fill="#fff" stroke="#4848a2" stroke-width="0.95"/>
<path d="M295.56 114.36L292.41 112.69V116.02Z" fill="#fff" stroke="#4848a2" stroke-width="0.95"/>
<path d="M408.00 115.95L404.85 114.29V117.61Z" fill="#fff" stroke="#4848a2" stroke-width="0.95"/>
<path d="M417.37 116.06L414.22 114.40V117.72Z" fill="#fff" stroke="#4848a2" stroke-width="0.95"/>
<path d="M426.74 116.17L423.59 114.51V117.83Z" fill="#fff" stroke="#4848a2" stroke-width="0.95"/>
<path d="M436.11 116.28L432.96 114.62V117.94Z" fill="#fff" stroke="#4848a2" stroke-width="0.95"/>
<path d="M445.48 116.39L442.33 114.73V118.05Z" fill="#fff" stroke="#4848a2" stroke-width="0.95"/>
<path d="M454.85 116.50L451.70 114.84V118.16Z" fill="#fff" stroke="#4848a2" stroke-width="0.95"/>
<path d="M265.7 117.6 L453.1 117.6" stroke="#222" stroke-width="1.0" fill="none" stroke-linejoin="round"/>
<circle cx="265.70" cy="117.60" r="1.35" fill="#fff" stroke="#222" stroke-width="0.95"/>
<circle cx="275.07" cy="117.60" r="1.35" fill="#fff" stroke="#222" stroke-width="0.95"/>
<circle cx="284.44" cy="117.60" r="1.35" fill="#fff" stroke="#222" stroke-width="0.95"/>
<circle cx="293.81" cy="117.60" r="1.35" fill="#fff" stroke="#222" stroke-width="0.95"/>
<circle cx="303.18" cy="117.60" r="1.35" fill="#fff" stroke="#222" stroke-width="0.95"/>
<circle cx="312.55" cy="117.60" r="1.35" fill="#fff" stroke="#222" stroke-width="0.95"/>
<circle cx="321.92" cy="117.60" r="1.35" fill="#fff" stroke="#222" stroke-width="0.95"/>
<circle cx="331.29" cy="117.60" r="1.35" fill="#fff" stroke="#222" stroke-width="0.95"/>
<circle cx="340.66" cy="117.60" r="1.35" fill="#fff" stroke="#222" stroke-width="0.95"/>
<circle cx="350.03" cy="117.60" r="1.35" fill="#fff" stroke="#222" stroke-width="0.95"/>
<circle cx="359.40" cy="117.60" r="1.35" fill="#fff" stroke="#222" stroke-width="0.95"/>
<circle cx="368.77" cy="117.60" r="1.35" fill="#fff" stroke="#222" stroke-width="0.95"/>
<circle cx="378.14" cy="117.60" r="1.35" fill="#fff" stroke="#222" stroke-width="0.95"/>
<circle cx="387.51" cy="117.60" r="1.35" fill="#fff" stroke="#222" stroke-width="0.95"/>
<circle cx="396.88" cy="117.60" r="1.35" fill="#fff" stroke="#222" stroke-width="0.95"/>
<circle cx="406.25" cy="117.60" r="1.35" fill="#fff" stroke="#222" stroke-width="0.95"/>
<circle cx="415.62" cy="117.60" r="1.35" fill="#fff" stroke="#222" stroke-width="0.95"/>
<circle cx="424.99" cy="117.60" r="1.35" fill="#fff" stroke="#222" stroke-width="0.95"/>
<circle cx="434.36" cy="117.60" r="1.35" fill="#fff" stroke="#222" stroke-width="0.95"/>
<circle cx="443.73" cy="117.60" r="1.35" fill="#fff" stroke="#222" stroke-width="0.95"/>
<circle cx="453.10" cy="117.60" r="1.35" fill="#fff" stroke="#222" stroke-width="0.95"/>
<path d="M265.7 115.5 L300.0 114.9 L321.0 112.3 L329.8 110.5 L335.0 103.5 L341.9 98.4 L352.1 91.8 L359.4 97.7 L368.2 99.9 L375.5 107.2 L382.8 113.0 L398.0 115.8 L453.1 116.2" stroke="#8cc8cf" stroke-width="1.3" fill="none" stroke-linejoin="round" stroke-dasharray="6 2 1.2 2 1.2 2"/>
<path d="M303.18 178.00v-3.8M340.66 178.00v-3.8M378.14 178.00v-3.8M415.62 178.00v-3.8" stroke="#4a4a4a" stroke-width="1" fill="none"/>
<path d="M265.70 169.81h1.8M265.70 161.61h1.8M265.70 153.42h1.8M265.70 145.22h1.8M265.70 137.03h1.8M265.70 128.83h1.8M265.70 120.64h1.8M265.70 112.45h1.8M265.70 104.25h1.8M265.70 96.06h1.8M265.70 87.86h1.8M265.70 79.67h1.8M265.70 71.47h1.8M265.70 63.28h1.8M265.70 55.09h1.8M265.70 46.89h1.8M265.70 38.70h1.8M275.07 178.00v-2.0M284.44 178.00v-2.0M293.81 178.00v-2.0M312.55 178.00v-2.0M321.92 178.00v-2.0M331.29 178.00v-2.0M350.03 178.00v-2.0M359.40 178.00v-2.0M368.77 178.00v-2.0M387.51 178.00v-2.0M396.88 178.00v-2.0M406.25 178.00v-2.0M424.99 178.00v-2.0M434.36 178.00v-2.0M443.73 178.00v-2.0" stroke="#7a7a7a" stroke-width="0.8" fill="none"/>
<rect x="265.70" y="34.60" width="187.40" height="143.40" stroke="#4a4a4a" stroke-width="1.2" fill="none"/>
<text transform="translate(263.30 161.51) scale(1 1.08)" text-anchor="end" font-size="11.2">−0.02</text>
<text transform="translate(263.30 120.54) scale(1 1.08)" text-anchor="end" font-size="11.2">0</text>
<text transform="translate(263.30 79.57) scale(1 1.08)" text-anchor="end" font-size="11.2">0.02</text>
<text transform="translate(263.30 38.60) scale(1 1.08)" text-anchor="end" font-size="11.2">0.04</text>
<text transform="translate(265.70 189.00) scale(1 1.08)" text-anchor="middle" font-size="11.2">0</text>
<text transform="translate(303.18 189.00) scale(1 1.08)" text-anchor="middle" font-size="11.2">0.2</text>
<text transform="translate(340.66 189.00) scale(1 1.08)" text-anchor="middle" font-size="11.2">0.4</text>
<text transform="translate(378.14 189.00) scale(1 1.08)" text-anchor="middle" font-size="11.2">0.6</text>
<text transform="translate(415.62 189.00) scale(1 1.08)" text-anchor="middle" font-size="11.2">0.8</text>
<text transform="translate(453.10 189.00) scale(1 1.08)" text-anchor="middle" font-size="11.2">1.0</text>
<text transform="translate(359.40 202.80) scale(1 1.08)" text-anchor="middle" font-size="11.8">Relative length</text>
<text transform="translate(270.70 48.00) scale(1 1.08)" font-size="11.4">(b) L2</text>
<path d="M489.5 102.7 L499.2 102.7 L508.4 104.0 L517.6 106.0 L526.8 108.0 L536.0 111.0 L545.8 112.3 L552.4 110.0 L558.3 103.4 L566.2 100.1 L572.8 92.2 L577.6 91.2 L582.8 92.6 L587.2 101.3 L591.6 107.4 L595.0 110.0 L602.0 113.4 L610.8 113.4 L620.4 110.8 L630.1 107.3 L637.0 106.4 L677.4 106.3" stroke="#62bb55" stroke-width="1.0" fill="none" stroke-linejoin="round"/>
<circle cx="499.20" cy="102.70" r="1.35" fill="#fff" stroke="#62bb55" stroke-width="0.95"/>
<circle cx="508.40" cy="104.00" r="1.35" fill="#fff" stroke="#62bb55" stroke-width="0.95"/>
<circle cx="517.60" cy="106.00" r="1.35" fill="#fff" stroke="#62bb55" stroke-width="0.95"/>
<circle cx="526.80" cy="108.00" r="1.35" fill="#fff" stroke="#62bb55" stroke-width="0.95"/>
<circle cx="536.00" cy="111.00" r="1.35" fill="#fff" stroke="#62bb55" stroke-width="0.95"/>
<circle cx="545.80" cy="112.30" r="1.35" fill="#fff" stroke="#62bb55" stroke-width="0.95"/>
<circle cx="552.40" cy="110.00" r="1.35" fill="#fff" stroke="#62bb55" stroke-width="0.95"/>
<circle cx="558.30" cy="103.40" r="1.35" fill="#fff" stroke="#62bb55" stroke-width="0.95"/>
<circle cx="566.20" cy="100.10" r="1.35" fill="#fff" stroke="#62bb55" stroke-width="0.95"/>
<circle cx="572.80" cy="92.20" r="1.35" fill="#fff" stroke="#62bb55" stroke-width="0.95"/>
<circle cx="577.60" cy="91.20" r="1.35" fill="#fff" stroke="#62bb55" stroke-width="0.95"/>
<circle cx="582.80" cy="92.60" r="1.35" fill="#fff" stroke="#62bb55" stroke-width="0.95"/>
<circle cx="587.20" cy="101.30" r="1.35" fill="#fff" stroke="#62bb55" stroke-width="0.95"/>
<circle cx="591.60" cy="107.40" r="1.35" fill="#fff" stroke="#62bb55" stroke-width="0.95"/>
<circle cx="595.00" cy="110.00" r="1.35" fill="#fff" stroke="#62bb55" stroke-width="0.95"/>
<circle cx="602.00" cy="113.40" r="1.35" fill="#fff" stroke="#62bb55" stroke-width="0.95"/>
<circle cx="610.80" cy="113.40" r="1.35" fill="#fff" stroke="#62bb55" stroke-width="0.95"/>
<circle cx="620.40" cy="110.80" r="1.35" fill="#fff" stroke="#62bb55" stroke-width="0.95"/>
<circle cx="630.10" cy="107.30" r="1.35" fill="#fff" stroke="#62bb55" stroke-width="0.95"/>
<circle cx="637.00" cy="106.40" r="1.35" fill="#fff" stroke="#62bb55" stroke-width="0.95"/>
<circle cx="489.50" cy="102.70" r="1.35" fill="#fff" stroke="#62bb55" stroke-width="0.95"/>
<circle cx="649.22" cy="106.37" r="1.35" fill="#fff" stroke="#62bb55" stroke-width="0.95"/>
<circle cx="658.61" cy="106.35" r="1.35" fill="#fff" stroke="#62bb55" stroke-width="0.95"/>
<circle cx="668.00" cy="106.32" r="1.35" fill="#fff" stroke="#62bb55" stroke-width="0.95"/>
<circle cx="677.40" cy="106.30" r="1.35" fill="#fff" stroke="#62bb55" stroke-width="0.95"/>
<path d="M489.5 105.4 L526.8 105.4 L536.4 104.0 L544.3 100.4 L550.1 94.7 L554.0 87.0 L557.4 80.0 L561.5 71.5 L565.0 61.9 L570.9 56.1 L578.5 60.7 L582.0 68.9 L586.0 80.0 L589.9 90.5 L593.7 97.8 L599.5 105.2 L609.0 107.4 L630.0 106.4 L677.4 106.3" stroke="#cf4242" stroke-width="1.0" fill="none" stroke-linejoin="round" stroke-dasharray="3 2.5"/>
<rect x="525.25" y="103.85" width="3.1" height="3.1" fill="#fff" stroke="#cf4242" stroke-width="1.15"/>
<rect x="534.85" y="102.45" width="3.1" height="3.1" fill="#fff" stroke="#cf4242" stroke-width="1.15"/>
<rect x="542.75" y="98.85" width="3.1" height="3.1" fill="#fff" stroke="#cf4242" stroke-width="1.15"/>
<rect x="548.55" y="93.15" width="3.1" height="3.1" fill="#fff" stroke="#cf4242" stroke-width="1.15"/>
<rect x="552.45" y="85.45" width="3.1" height="3.1" fill="#fff" stroke="#cf4242" stroke-width="1.15"/>
<rect x="555.85" y="78.45" width="3.1" height="3.1" fill="#fff" stroke="#cf4242" stroke-width="1.15"/>
<rect x="559.95" y="69.95" width="3.1" height="3.1" fill="#fff" stroke="#cf4242" stroke-width="1.15"/>
<rect x="563.45" y="60.35" width="3.1" height="3.1" fill="#fff" stroke="#cf4242" stroke-width="1.15"/>
<rect x="569.35" y="54.55" width="3.1" height="3.1" fill="#fff" stroke="#cf4242" stroke-width="1.15"/>
<rect x="576.95" y="59.15" width="3.1" height="3.1" fill="#fff" stroke="#cf4242" stroke-width="1.15"/>
<rect x="580.45" y="67.35" width="3.1" height="3.1" fill="#fff" stroke="#cf4242" stroke-width="1.15"/>
<rect x="584.45" y="78.45" width="3.1" height="3.1" fill="#fff" stroke="#cf4242" stroke-width="1.15"/>
<rect x="588.35" y="88.95" width="3.1" height="3.1" fill="#fff" stroke="#cf4242" stroke-width="1.15"/>
<rect x="592.15" y="96.25" width="3.1" height="3.1" fill="#fff" stroke="#cf4242" stroke-width="1.15"/>
<rect x="597.95" y="103.65" width="3.1" height="3.1" fill="#fff" stroke="#cf4242" stroke-width="1.15"/>
<rect x="607.45" y="105.85" width="3.1" height="3.1" fill="#fff" stroke="#cf4242" stroke-width="1.15"/>
<rect x="487.95" y="103.85" width="3.1" height="3.1" fill="#fff" stroke="#cf4242" stroke-width="1.15"/>
<rect x="497.34" y="103.85" width="3.1" height="3.1" fill="#fff" stroke="#cf4242" stroke-width="1.15"/>
<rect x="506.74" y="103.85" width="3.1" height="3.1" fill="#fff" stroke="#cf4242" stroke-width="1.15"/>
<rect x="516.13" y="103.85" width="3.1" height="3.1" fill="#fff" stroke="#cf4242" stroke-width="1.15"/>
<rect x="638.27" y="104.83" width="3.1" height="3.1" fill="#fff" stroke="#cf4242" stroke-width="1.15"/>
<rect x="647.67" y="104.81" width="3.1" height="3.1" fill="#fff" stroke="#cf4242" stroke-width="1.15"/>
<rect x="657.06" y="104.79" width="3.1" height="3.1" fill="#fff" stroke="#cf4242" stroke-width="1.15"/>
<rect x="666.46" y="104.77" width="3.1" height="3.1" fill="#fff" stroke="#cf4242" stroke-width="1.15"/>
<rect x="675.85" y="104.75" width="3.1" height="3.1" fill="#fff" stroke="#cf4242" stroke-width="1.15"/>
<path d="M489.5 106.6 L590.0 106.6 L601.0 108.4 L612.0 107.4 L625.0 106.6 L677.4 106.5" stroke="#f0a445" stroke-width="1.0" fill="none" stroke-linejoin="round"/>
<path d="M601.00 106.56L602.75 109.71H599.25Z" fill="#fff" stroke="#f0a445" stroke-width="0.95"/>
<path d="M612.00 105.56L613.75 108.71H610.25Z" fill="#fff" stroke="#f0a445" stroke-width="0.95"/>
<path d="M489.50 104.76L491.25 107.91H487.75Z" fill="#fff" stroke="#f0a445" stroke-width="0.95"/>
<path d="M498.89 104.76L500.64 107.91H497.14Z" fill="#fff" stroke="#f0a445" stroke-width="0.95"/>
<path d="M508.29 104.76L510.04 107.91H506.54Z" fill="#fff" stroke="#f0a445" stroke-width="0.95"/>
<path d="M517.68 104.76L519.43 107.91H515.93Z" fill="#fff" stroke="#f0a445" stroke-width="0.95"/>
<path d="M527.08 104.76L528.83 107.91H525.33Z" fill="#fff" stroke="#f0a445" stroke-width="0.95"/>
<path d="M536.48 104.76L538.23 107.91H534.73Z" fill="#fff" stroke="#f0a445" stroke-width="0.95"/>
<path d="M545.87 104.76L547.62 107.91H544.12Z" fill="#fff" stroke="#f0a445" stroke-width="0.95"/>
<path d="M555.26 104.76L557.01 107.91H553.51Z" fill="#fff" stroke="#f0a445" stroke-width="0.95"/>
<path d="M564.66 104.76L566.41 107.91H562.91Z" fill="#fff" stroke="#f0a445" stroke-width="0.95"/>
<path d="M574.05 104.76L575.80 107.91H572.30Z" fill="#fff" stroke="#f0a445" stroke-width="0.95"/>
<path d="M583.45 104.76L585.20 107.91H581.70Z" fill="#fff" stroke="#f0a445" stroke-width="0.95"/>
<path d="M630.42 104.75L632.17 107.90H628.67Z" fill="#fff" stroke="#f0a445" stroke-width="0.95"/>
<path d="M639.82 104.73L641.57 107.88H638.07Z" fill="#fff" stroke="#f0a445" stroke-width="0.95"/>
<path d="M649.22 104.72L650.97 107.87H647.47Z" fill="#fff" stroke="#f0a445" stroke-width="0.95"/>
<path d="M658.61 104.70L660.36 107.85H656.86Z" fill="#fff" stroke="#f0a445" stroke-width="0.95"/>
<path d="M668.00 104.68L669.75 107.83H666.25Z" fill="#fff" stroke="#f0a445" stroke-width="0.95"/>
<path d="M677.40 104.66L679.15 107.81H675.65Z" fill="#fff" stroke="#f0a445" stroke-width="0.95"/>
<path d="M489.5 106.0 L677.4 106.0" stroke="#9a4aa5" stroke-width="1.2" fill="none" stroke-linejoin="round"/>
<path d="M489.50 107.84L491.25 104.69H487.75Z" fill="#fff" stroke="#9a4aa5" stroke-width="0.95"/>
<path d="M498.89 107.84L500.64 104.69H497.14Z" fill="#fff" stroke="#9a4aa5" stroke-width="0.95"/>
<path d="M508.29 107.84L510.04 104.69H506.54Z" fill="#fff" stroke="#9a4aa5" stroke-width="0.95"/>
<path d="M517.68 107.84L519.43 104.69H515.93Z" fill="#fff" stroke="#9a4aa5" stroke-width="0.95"/>
<path d="M527.08 107.84L528.83 104.69H525.33Z" fill="#fff" stroke="#9a4aa5" stroke-width="0.95"/>
<path d="M536.48 107.84L538.23 104.69H534.73Z" fill="#fff" stroke="#9a4aa5" stroke-width="0.95"/>
<path d="M545.87 107.84L547.62 104.69H544.12Z" fill="#fff" stroke="#9a4aa5" stroke-width="0.95"/>
<path d="M555.26 107.84L557.01 104.69H553.51Z" fill="#fff" stroke="#9a4aa5" stroke-width="0.95"/>
<path d="M564.66 107.84L566.41 104.69H562.91Z" fill="#fff" stroke="#9a4aa5" stroke-width="0.95"/>
<path d="M574.05 107.84L575.80 104.69H572.30Z" fill="#fff" stroke="#9a4aa5" stroke-width="0.95"/>
<path d="M583.45 107.84L585.20 104.69H581.70Z" fill="#fff" stroke="#9a4aa5" stroke-width="0.95"/>
<path d="M592.85 107.84L594.60 104.69H591.10Z" fill="#fff" stroke="#9a4aa5" stroke-width="0.95"/>
<path d="M602.24 107.84L603.99 104.69H600.49Z" fill="#fff" stroke="#9a4aa5" stroke-width="0.95"/>
<path d="M611.63 107.84L613.38 104.69H609.88Z" fill="#fff" stroke="#9a4aa5" stroke-width="0.95"/>
<path d="M621.03 107.84L622.78 104.69H619.28Z" fill="#fff" stroke="#9a4aa5" stroke-width="0.95"/>
<path d="M630.42 107.84L632.17 104.69H628.67Z" fill="#fff" stroke="#9a4aa5" stroke-width="0.95"/>
<path d="M639.82 107.84L641.57 104.69H638.07Z" fill="#fff" stroke="#9a4aa5" stroke-width="0.95"/>
<path d="M649.22 107.84L650.97 104.69H647.47Z" fill="#fff" stroke="#9a4aa5" stroke-width="0.95"/>
<path d="M658.61 107.84L660.36 104.69H656.86Z" fill="#fff" stroke="#9a4aa5" stroke-width="0.95"/>
<path d="M668.00 107.84L669.75 104.69H666.25Z" fill="#fff" stroke="#9a4aa5" stroke-width="0.95"/>
<path d="M677.40 107.84L679.15 104.69H675.65Z" fill="#fff" stroke="#9a4aa5" stroke-width="0.95"/>
<path d="M489.5 104.7 L508.4 103.4 L517.6 102.1 L526.8 98.8 L536.0 95.2 L545.2 95.5 L548.5 96.2 L551.8 100.8 L554.4 106.0 L558.3 113.3 L562.3 123.8 L565.3 133.6 L570.5 141.5 L574.0 144.1 L578.4 140.6 L581.9 131.0 L586.3 117.8 L590.7 103.8 L595.9 89.8 L602.0 86.3 L610.8 92.4 L617.8 98.5 L624.8 102.9 L631.8 105.9 L640.6 106.4 L677.4 106.4" stroke="#4848a2" stroke-width="1.0" fill="none" stroke-linejoin="round"/>
<path d="M510.15 103.40L507.00 101.74V105.06Z" fill="#fff" stroke="#4848a2" stroke-width="0.95"/>
<path d="M519.35 102.10L516.20 100.44V103.76Z" fill="#fff" stroke="#4848a2" stroke-width="0.95"/>
<path d="M528.55 98.80L525.40 97.14V100.46Z" fill="#fff" stroke="#4848a2" stroke-width="0.95"/>
<path d="M537.75 95.20L534.60 93.54V96.86Z" fill="#fff" stroke="#4848a2" stroke-width="0.95"/>
<path d="M546.95 95.50L543.80 93.84V97.16Z" fill="#fff" stroke="#4848a2" stroke-width="0.95"/>
<path d="M550.25 96.20L547.10 94.54V97.86Z" fill="#fff" stroke="#4848a2" stroke-width="0.95"/>
<path d="M553.55 100.80L550.40 99.14V102.46Z" fill="#fff" stroke="#4848a2" stroke-width="0.95"/>
<path d="M556.15 106.00L553.00 104.34V107.66Z" fill="#fff" stroke="#4848a2" stroke-width="0.95"/>
<path d="M560.05 113.30L556.90 111.64V114.96Z" fill="#fff" stroke="#4848a2" stroke-width="0.95"/>
<path d="M564.05 123.80L560.90 122.14V125.46Z" fill="#fff" stroke="#4848a2" stroke-width="0.95"/>
<path d="M567.05 133.60L563.90 131.94V135.26Z" fill="#fff" stroke="#4848a2" stroke-width="0.95"/>
<path d="M572.25 141.50L569.10 139.84V143.16Z" fill="#fff" stroke="#4848a2" stroke-width="0.95"/>
<path d="M575.75 144.10L572.60 142.44V145.76Z" fill="#fff" stroke="#4848a2" stroke-width="0.95"/>
<path d="M580.15 140.60L577.00 138.94V142.26Z" fill="#fff" stroke="#4848a2" stroke-width="0.95"/>
<path d="M583.65 131.00L580.50 129.34V132.66Z" fill="#fff" stroke="#4848a2" stroke-width="0.95"/>
<path d="M588.05 117.80L584.90 116.14V119.46Z" fill="#fff" stroke="#4848a2" stroke-width="0.95"/>
<path d="M592.45 103.80L589.30 102.14V105.46Z" fill="#fff" stroke="#4848a2" stroke-width="0.95"/>
<path d="M597.65 89.80L594.50 88.14V91.46Z" fill="#fff" stroke="#4848a2" stroke-width="0.95"/>
<path d="M603.75 86.30L600.60 84.64V87.96Z" fill="#fff" stroke="#4848a2" stroke-width="0.95"/>
<path d="M612.55 92.40L609.40 90.74V94.06Z" fill="#fff" stroke="#4848a2" stroke-width="0.95"/>
<path d="M619.55 98.50L616.40 96.84V100.16Z" fill="#fff" stroke="#4848a2" stroke-width="0.95"/>
<path d="M626.55 102.90L623.40 101.24V104.56Z" fill="#fff" stroke="#4848a2" stroke-width="0.95"/>
<path d="M633.55 105.90L630.40 104.24V107.56Z" fill="#fff" stroke="#4848a2" stroke-width="0.95"/>
<path d="M642.35 106.40L639.20 104.74V108.06Z" fill="#fff" stroke="#4848a2" stroke-width="0.95"/>
<path d="M491.25 104.70L488.10 103.04V106.36Z" fill="#fff" stroke="#4848a2" stroke-width="0.95"/>
<path d="M500.64 104.05L497.50 102.39V105.72Z" fill="#fff" stroke="#4848a2" stroke-width="0.95"/>
<path d="M650.97 106.40L647.82 104.74V108.06Z" fill="#fff" stroke="#4848a2" stroke-width="0.95"/>
<path d="M660.36 106.40L657.21 104.74V108.06Z" fill="#fff" stroke="#4848a2" stroke-width="0.95"/>
<path d="M669.75 106.40L666.61 104.74V108.06Z" fill="#fff" stroke="#4848a2" stroke-width="0.95"/>
<path d="M679.15 106.40L676.00 104.74V108.06Z" fill="#fff" stroke="#4848a2" stroke-width="0.95"/>
<path d="M489.5 107.6 L677.4 107.6" stroke="#222" stroke-width="1.0" fill="none" stroke-linejoin="round"/>
<circle cx="489.50" cy="107.60" r="1.35" fill="#fff" stroke="#222" stroke-width="0.95"/>
<circle cx="498.89" cy="107.60" r="1.35" fill="#fff" stroke="#222" stroke-width="0.95"/>
<circle cx="508.29" cy="107.60" r="1.35" fill="#fff" stroke="#222" stroke-width="0.95"/>
<circle cx="517.68" cy="107.60" r="1.35" fill="#fff" stroke="#222" stroke-width="0.95"/>
<circle cx="527.08" cy="107.60" r="1.35" fill="#fff" stroke="#222" stroke-width="0.95"/>
<circle cx="536.48" cy="107.60" r="1.35" fill="#fff" stroke="#222" stroke-width="0.95"/>
<circle cx="545.87" cy="107.60" r="1.35" fill="#fff" stroke="#222" stroke-width="0.95"/>
<circle cx="555.26" cy="107.60" r="1.35" fill="#fff" stroke="#222" stroke-width="0.95"/>
<circle cx="564.66" cy="107.60" r="1.35" fill="#fff" stroke="#222" stroke-width="0.95"/>
<circle cx="574.05" cy="107.60" r="1.35" fill="#fff" stroke="#222" stroke-width="0.95"/>
<circle cx="583.45" cy="107.60" r="1.35" fill="#fff" stroke="#222" stroke-width="0.95"/>
<circle cx="592.85" cy="107.60" r="1.35" fill="#fff" stroke="#222" stroke-width="0.95"/>
<circle cx="602.24" cy="107.60" r="1.35" fill="#fff" stroke="#222" stroke-width="0.95"/>
<circle cx="611.63" cy="107.60" r="1.35" fill="#fff" stroke="#222" stroke-width="0.95"/>
<circle cx="621.03" cy="107.60" r="1.35" fill="#fff" stroke="#222" stroke-width="0.95"/>
<circle cx="630.42" cy="107.60" r="1.35" fill="#fff" stroke="#222" stroke-width="0.95"/>
<circle cx="639.82" cy="107.60" r="1.35" fill="#fff" stroke="#222" stroke-width="0.95"/>
<circle cx="649.22" cy="107.60" r="1.35" fill="#fff" stroke="#222" stroke-width="0.95"/>
<circle cx="658.61" cy="107.60" r="1.35" fill="#fff" stroke="#222" stroke-width="0.95"/>
<circle cx="668.00" cy="107.60" r="1.35" fill="#fff" stroke="#222" stroke-width="0.95"/>
<circle cx="677.40" cy="107.60" r="1.35" fill="#fff" stroke="#222" stroke-width="0.95"/>
<path d="M489.5 103.4 L507.5 103.6 L526.8 101.4 L536.0 99.5 L545.2 95.5 L560.0 85.9 L572.3 81.9 L584.6 82.2 L590.7 88.0 L598.5 94.2 L605.5 98.5 L612.6 102.9 L621.3 105.5 L630.0 106.4 L677.4 106.4" stroke="#8cc8cf" stroke-width="1.3" fill="none" stroke-linejoin="round" stroke-dasharray="6 2 1.2 2 1.2 2"/>
<path d="M489.50 106.30h3.6M527.08 178.00v-3.8M564.66 178.00v-3.8M602.24 178.00v-3.8M639.82 178.00v-3.8" stroke="#4a4a4a" stroke-width="1" fill="none"/>
<path d="M489.50 163.66h1.8M489.50 149.32h1.8M489.50 134.98h1.8M489.50 120.64h1.8M489.50 91.96h1.8M489.50 77.62h1.8M489.50 63.28h1.8M489.50 48.94h1.8M498.89 178.00v-2.0M508.29 178.00v-2.0M517.68 178.00v-2.0M536.48 178.00v-2.0M545.87 178.00v-2.0M555.26 178.00v-2.0M574.05 178.00v-2.0M583.45 178.00v-2.0M592.85 178.00v-2.0M611.63 178.00v-2.0M621.03 178.00v-2.0M630.42 178.00v-2.0M649.22 178.00v-2.0M658.61 178.00v-2.0M668.00 178.00v-2.0" stroke="#7a7a7a" stroke-width="0.8" fill="none"/>
<rect x="489.50" y="34.60" width="187.90" height="143.40" stroke="#4a4a4a" stroke-width="1.2" fill="none"/>
<text transform="translate(487.10 182.00) scale(1 1.08)" text-anchor="end" font-size="11.2">−0.02</text>
<text transform="translate(487.10 110.30) scale(1 1.08)" text-anchor="end" font-size="11.2">0</text>
<text transform="translate(487.10 38.60) scale(1 1.08)" text-anchor="end" font-size="11.2">0.02</text>
<text transform="translate(489.50 189.00) scale(1 1.08)" text-anchor="middle" font-size="11.2">0</text>
<text transform="translate(527.08 189.00) scale(1 1.08)" text-anchor="middle" font-size="11.2">0.2</text>
<text transform="translate(564.66 189.00) scale(1 1.08)" text-anchor="middle" font-size="11.2">0.4</text>
<text transform="translate(602.24 189.00) scale(1 1.08)" text-anchor="middle" font-size="11.2">0.6</text>
<text transform="translate(639.82 189.00) scale(1 1.08)" text-anchor="middle" font-size="11.2">0.8</text>
<text transform="translate(677.40 189.00) scale(1 1.08)" text-anchor="middle" font-size="11.2">1.0</text>
<text transform="translate(583.45 202.80) scale(1 1.08)" text-anchor="middle" font-size="11.8">Relative length</text>
<text transform="translate(494.50 48.00) scale(1 1.08)" font-size="11.4">(c) L3</text>
<path d="M43.0 284.0 L81.0 284.7 L90.4 287.2 L99.2 289.1 L104.3 286.9 L108.0 281.8 L113.4 276.7 L119.0 270.6 L124.5 261.4 L130.7 254.8 L138.0 260.7 L143.8 270.1 L148.2 278.2 L151.1 284.0 L156.2 287.7 L160.6 289.9 L170.0 289.6 L178.8 287.7 L187.6 286.2 L195.0 285.3 L230.5 285.2" stroke="#62bb55" stroke-width="1.0" fill="none" stroke-linejoin="round"/>
<circle cx="81.00" cy="284.70" r="1.35" fill="#fff" stroke="#62bb55" stroke-width="0.95"/>
<circle cx="90.40" cy="287.20" r="1.35" fill="#fff" stroke="#62bb55" stroke-width="0.95"/>
<circle cx="99.20" cy="289.10" r="1.35" fill="#fff" stroke="#62bb55" stroke-width="0.95"/>
<circle cx="104.30" cy="286.90" r="1.35" fill="#fff" stroke="#62bb55" stroke-width="0.95"/>
<circle cx="108.00" cy="281.80" r="1.35" fill="#fff" stroke="#62bb55" stroke-width="0.95"/>
<circle cx="113.40" cy="276.70" r="1.35" fill="#fff" stroke="#62bb55" stroke-width="0.95"/>
<circle cx="119.00" cy="270.60" r="1.35" fill="#fff" stroke="#62bb55" stroke-width="0.95"/>
<circle cx="124.50" cy="261.40" r="1.35" fill="#fff" stroke="#62bb55" stroke-width="0.95"/>
<circle cx="130.70" cy="254.80" r="1.35" fill="#fff" stroke="#62bb55" stroke-width="0.95"/>
<circle cx="138.00" cy="260.70" r="1.35" fill="#fff" stroke="#62bb55" stroke-width="0.95"/>
<circle cx="143.80" cy="270.10" r="1.35" fill="#fff" stroke="#62bb55" stroke-width="0.95"/>
<circle cx="148.20" cy="278.20" r="1.35" fill="#fff" stroke="#62bb55" stroke-width="0.95"/>
<circle cx="151.10" cy="284.00" r="1.35" fill="#fff" stroke="#62bb55" stroke-width="0.95"/>
<circle cx="156.20" cy="287.70" r="1.35" fill="#fff" stroke="#62bb55" stroke-width="0.95"/>
<circle cx="160.60" cy="289.90" r="1.35" fill="#fff" stroke="#62bb55" stroke-width="0.95"/>
<circle cx="170.00" cy="289.60" r="1.35" fill="#fff" stroke="#62bb55" stroke-width="0.95"/>
<circle cx="178.80" cy="287.70" r="1.35" fill="#fff" stroke="#62bb55" stroke-width="0.95"/>
<circle cx="187.60" cy="286.20" r="1.35" fill="#fff" stroke="#62bb55" stroke-width="0.95"/>
<circle cx="43.00" cy="284.00" r="1.35" fill="#fff" stroke="#62bb55" stroke-width="0.95"/>
<circle cx="52.38" cy="284.17" r="1.35" fill="#fff" stroke="#62bb55" stroke-width="0.95"/>
<circle cx="61.75" cy="284.35" r="1.35" fill="#fff" stroke="#62bb55" stroke-width="0.95"/>
<circle cx="71.12" cy="284.52" r="1.35" fill="#fff" stroke="#62bb55" stroke-width="0.95"/>
<circle cx="202.38" cy="285.28" r="1.35" fill="#fff" stroke="#62bb55" stroke-width="0.95"/>
<circle cx="211.75" cy="285.25" r="1.35" fill="#fff" stroke="#62bb55" stroke-width="0.95"/>
<circle cx="221.12" cy="285.23" r="1.35" fill="#fff" stroke="#62bb55" stroke-width="0.95"/>
<circle cx="230.50" cy="285.20" r="1.35" fill="#fff" stroke="#62bb55" stroke-width="0.95"/>
<path d="M43.0 277.4 L52.5 279.9 L62.0 281.4 L71.5 282.6 L80.7 282.8 L90.0 281.4 L98.2 278.2 L103.6 271.2 L107.6 264.3 L111.4 257.4 L115.3 250.4 L119.0 242.8 L125.1 235.5 L132.4 239.1 L136.2 245.8 L139.7 255.5 L143.5 267.2 L146.7 276.4 L153.3 283.7 L162.5 286.9 L171.5 286.2 L185.0 285.4 L230.5 285.2" stroke="#cf4242" stroke-width="1.0" fill="none" stroke-linejoin="round" stroke-dasharray="3 2.5"/>
<rect x="50.95" y="278.35" width="3.1" height="3.1" fill="#fff" stroke="#cf4242" stroke-width="1.15"/>
<rect x="60.45" y="279.85" width="3.1" height="3.1" fill="#fff" stroke="#cf4242" stroke-width="1.15"/>
<rect x="69.95" y="281.05" width="3.1" height="3.1" fill="#fff" stroke="#cf4242" stroke-width="1.15"/>
<rect x="79.15" y="281.25" width="3.1" height="3.1" fill="#fff" stroke="#cf4242" stroke-width="1.15"/>
<rect x="88.45" y="279.85" width="3.1" height="3.1" fill="#fff" stroke="#cf4242" stroke-width="1.15"/>
<rect x="96.65" y="276.65" width="3.1" height="3.1" fill="#fff" stroke="#cf4242" stroke-width="1.15"/>
<rect x="102.05" y="269.65" width="3.1" height="3.1" fill="#fff" stroke="#cf4242" stroke-width="1.15"/>
<rect x="106.05" y="262.75" width="3.1" height="3.1" fill="#fff" stroke="#cf4242" stroke-width="1.15"/>
<rect x="109.85" y="255.85" width="3.1" height="3.1" fill="#fff" stroke="#cf4242" stroke-width="1.15"/>
<rect x="113.75" y="248.85" width="3.1" height="3.1" fill="#fff" stroke="#cf4242" stroke-width="1.15"/>
<rect x="117.45" y="241.25" width="3.1" height="3.1" fill="#fff" stroke="#cf4242" stroke-width="1.15"/>
<rect x="123.55" y="233.95" width="3.1" height="3.1" fill="#fff" stroke="#cf4242" stroke-width="1.15"/>
<rect x="130.85" y="237.55" width="3.1" height="3.1" fill="#fff" stroke="#cf4242" stroke-width="1.15"/>
<rect x="134.65" y="244.25" width="3.1" height="3.1" fill="#fff" stroke="#cf4242" stroke-width="1.15"/>
<rect x="138.15" y="253.95" width="3.1" height="3.1" fill="#fff" stroke="#cf4242" stroke-width="1.15"/>
<rect x="141.95" y="265.65" width="3.1" height="3.1" fill="#fff" stroke="#cf4242" stroke-width="1.15"/>
<rect x="145.15" y="274.85" width="3.1" height="3.1" fill="#fff" stroke="#cf4242" stroke-width="1.15"/>
<rect x="151.75" y="282.15" width="3.1" height="3.1" fill="#fff" stroke="#cf4242" stroke-width="1.15"/>
<rect x="160.95" y="285.35" width="3.1" height="3.1" fill="#fff" stroke="#cf4242" stroke-width="1.15"/>
<rect x="169.95" y="284.65" width="3.1" height="3.1" fill="#fff" stroke="#cf4242" stroke-width="1.15"/>
<rect x="41.45" y="275.85" width="3.1" height="3.1" fill="#fff" stroke="#cf4242" stroke-width="1.15"/>
<rect x="191.45" y="283.81" width="3.1" height="3.1" fill="#fff" stroke="#cf4242" stroke-width="1.15"/>
<rect x="200.83" y="283.77" width="3.1" height="3.1" fill="#fff" stroke="#cf4242" stroke-width="1.15"/>
<rect x="210.20" y="283.73" width="3.1" height="3.1" fill="#fff" stroke="#cf4242" stroke-width="1.15"/>
<rect x="219.57" y="283.69" width="3.1" height="3.1" fill="#fff" stroke="#cf4242" stroke-width="1.15"/>
<rect x="228.95" y="283.65" width="3.1" height="3.1" fill="#fff" stroke="#cf4242" stroke-width="1.15"/>
<path d="M43.0 285.6 L140.0 285.6 L153.3 283.6 L165.0 285.0 L230.5 285.2" stroke="#f0a445" stroke-width="1.0" fill="none" stroke-linejoin="round"/>
<path d="M153.30 281.76L155.05 284.91H151.55Z" fill="#fff" stroke="#f0a445" stroke-width="0.95"/>
<path d="M43.00 283.76L44.75 286.91H41.25Z" fill="#fff" stroke="#f0a445" stroke-width="0.95"/>
<path d="M52.38 283.76L54.12 286.91H50.62Z" fill="#fff" stroke="#f0a445" stroke-width="0.95"/>
<path d="M61.75 283.76L63.50 286.91H60.00Z" fill="#fff" stroke="#f0a445" stroke-width="0.95"/>
<path d="M71.12 283.76L72.88 286.91H69.38Z" fill="#fff" stroke="#f0a445" stroke-width="0.95"/>
<path d="M80.50 283.76L82.25 286.91H78.75Z" fill="#fff" stroke="#f0a445" stroke-width="0.95"/>
<path d="M89.88 283.76L91.62 286.91H88.12Z" fill="#fff" stroke="#f0a445" stroke-width="0.95"/>
<path d="M99.25 283.76L101.00 286.91H97.50Z" fill="#fff" stroke="#f0a445" stroke-width="0.95"/>
<path d="M108.62 283.76L110.38 286.91H106.88Z" fill="#fff" stroke="#f0a445" stroke-width="0.95"/>
<path d="M118.00 283.76L119.75 286.91H116.25Z" fill="#fff" stroke="#f0a445" stroke-width="0.95"/>
<path d="M127.38 283.76L129.12 286.91H125.62Z" fill="#fff" stroke="#f0a445" stroke-width="0.95"/>
<path d="M174.25 283.19L176.00 286.34H172.50Z" fill="#fff" stroke="#f0a445" stroke-width="0.95"/>
<path d="M183.62 283.22L185.38 286.37H181.88Z" fill="#fff" stroke="#f0a445" stroke-width="0.95"/>
<path d="M193.00 283.25L194.75 286.40H191.25Z" fill="#fff" stroke="#f0a445" stroke-width="0.95"/>
<path d="M202.38 283.28L204.13 286.43H200.63Z" fill="#fff" stroke="#f0a445" stroke-width="0.95"/>
<path d="M211.75 283.31L213.50 286.46H210.00Z" fill="#fff" stroke="#f0a445" stroke-width="0.95"/>
<path d="M221.12 283.33L222.88 286.48H219.38Z" fill="#fff" stroke="#f0a445" stroke-width="0.95"/>
<path d="M230.50 283.36L232.25 286.51H228.75Z" fill="#fff" stroke="#f0a445" stroke-width="0.95"/>
<path d="M43.0 284.7 L230.5 284.7" stroke="#9a4aa5" stroke-width="1.2" fill="none" stroke-linejoin="round"/>
<path d="M43.00 286.54L44.75 283.39H41.25Z" fill="#fff" stroke="#9a4aa5" stroke-width="0.95"/>
<path d="M52.38 286.54L54.12 283.39H50.62Z" fill="#fff" stroke="#9a4aa5" stroke-width="0.95"/>
<path d="M61.75 286.54L63.50 283.39H60.00Z" fill="#fff" stroke="#9a4aa5" stroke-width="0.95"/>
<path d="M71.12 286.54L72.88 283.39H69.38Z" fill="#fff" stroke="#9a4aa5" stroke-width="0.95"/>
<path d="M80.50 286.54L82.25 283.39H78.75Z" fill="#fff" stroke="#9a4aa5" stroke-width="0.95"/>
<path d="M89.88 286.54L91.62 283.39H88.12Z" fill="#fff" stroke="#9a4aa5" stroke-width="0.95"/>
<path d="M99.25 286.54L101.00 283.39H97.50Z" fill="#fff" stroke="#9a4aa5" stroke-width="0.95"/>
<path d="M108.62 286.54L110.38 283.39H106.88Z" fill="#fff" stroke="#9a4aa5" stroke-width="0.95"/>
<path d="M118.00 286.54L119.75 283.39H116.25Z" fill="#fff" stroke="#9a4aa5" stroke-width="0.95"/>
<path d="M127.38 286.54L129.12 283.39H125.62Z" fill="#fff" stroke="#9a4aa5" stroke-width="0.95"/>
<path d="M136.75 286.54L138.50 283.39H135.00Z" fill="#fff" stroke="#9a4aa5" stroke-width="0.95"/>
<path d="M146.12 286.54L147.88 283.39H144.38Z" fill="#fff" stroke="#9a4aa5" stroke-width="0.95"/>
<path d="M155.50 286.54L157.25 283.39H153.75Z" fill="#fff" stroke="#9a4aa5" stroke-width="0.95"/>
<path d="M164.88 286.54L166.62 283.39H163.12Z" fill="#fff" stroke="#9a4aa5" stroke-width="0.95"/>
<path d="M174.25 286.54L176.00 283.39H172.50Z" fill="#fff" stroke="#9a4aa5" stroke-width="0.95"/>
<path d="M183.62 286.54L185.38 283.39H181.88Z" fill="#fff" stroke="#9a4aa5" stroke-width="0.95"/>
<path d="M193.00 286.54L194.75 283.39H191.25Z" fill="#fff" stroke="#9a4aa5" stroke-width="0.95"/>
<path d="M202.38 286.54L204.13 283.39H200.63Z" fill="#fff" stroke="#9a4aa5" stroke-width="0.95"/>
<path d="M211.75 286.54L213.50 283.39H210.00Z" fill="#fff" stroke="#9a4aa5" stroke-width="0.95"/>
<path d="M221.12 286.54L222.88 283.39H219.38Z" fill="#fff" stroke="#9a4aa5" stroke-width="0.95"/>
<path d="M230.50 286.54L232.25 283.39H228.75Z" fill="#fff" stroke="#9a4aa5" stroke-width="0.95"/>
<path d="M43.0 281.4 L52.5 281.1 L62.0 281.4 L71.5 279.6 L80.7 277.0 L90.0 273.8 L99.2 272.6 L102.9 274.5 L107.3 281.1 L111.7 289.9 L115.3 296.4 L119.0 305.9 L122.6 313.9 L127.0 321.2 L129.9 322.0 L134.3 316.9 L138.0 305.9 L141.6 294.2 L146.0 281.1 L150.4 272.3 L154.3 267.7 L162.8 272.0 L170.1 277.4 L178.1 281.8 L184.7 284.0 L195.0 285.0 L230.5 285.2" stroke="#4848a2" stroke-width="1.0" fill="none" stroke-linejoin="round"/>
<path d="M54.25 281.10L51.10 279.44V282.76Z" fill="#fff" stroke="#4848a2" stroke-width="0.95"/>
<path d="M63.75 281.40L60.60 279.74V283.06Z" fill="#fff" stroke="#4848a2" stroke-width="0.95"/>
<path d="M73.25 279.60L70.10 277.94V281.26Z" fill="#fff" stroke="#4848a2" stroke-width="0.95"/>
<path d="M82.45 277.00L79.30 275.34V278.66Z" fill="#fff" stroke="#4848a2" stroke-width="0.95"/>
<path d="M91.75 273.80L88.60 272.14V275.46Z" fill="#fff" stroke="#4848a2" stroke-width="0.95"/>
<path d="M100.95 272.60L97.80 270.94V274.26Z" fill="#fff" stroke="#4848a2" stroke-width="0.95"/>
<path d="M104.65 274.50L101.50 272.84V276.16Z" fill="#fff" stroke="#4848a2" stroke-width="0.95"/>
<path d="M109.05 281.10L105.90 279.44V282.76Z" fill="#fff" stroke="#4848a2" stroke-width="0.95"/>
<path d="M113.45 289.90L110.30 288.24V291.56Z" fill="#fff" stroke="#4848a2" stroke-width="0.95"/>
<path d="M117.05 296.40L113.90 294.74V298.06Z" fill="#fff" stroke="#4848a2" stroke-width="0.95"/>
<path d="M120.75 305.90L117.60 304.24V307.56Z" fill="#fff" stroke="#4848a2" stroke-width="0.95"/>
<path d="M124.35 313.90L121.20 312.24V315.56Z" fill="#fff" stroke="#4848a2" stroke-width="0.95"/>
<path d="M128.75 321.20L125.60 319.54V322.86Z" fill="#fff" stroke="#4848a2" stroke-width="0.95"/>
<path d="M131.65 322.00L128.50 320.34V323.66Z" fill="#fff" stroke="#4848a2" stroke-width="0.95"/>
<path d="M136.05 316.90L132.90 315.24V318.56Z" fill="#fff" stroke="#4848a2" stroke-width="0.95"/>
<path d="M139.75 305.90L136.60 304.24V307.56Z" fill="#fff" stroke="#4848a2" stroke-width="0.95"/>
<path d="M143.35 294.20L140.20 292.54V295.86Z" fill="#fff" stroke="#4848a2" stroke-width="0.95"/>
<path d="M147.75 281.10L144.60 279.44V282.76Z" fill="#fff" stroke="#4848a2" stroke-width="0.95"/>
<path d="M152.15 272.30L149.00 270.64V273.96Z" fill="#fff" stroke="#4848a2" stroke-width="0.95"/>
<path d="M156.05 267.70L152.90 266.04V269.36Z" fill="#fff" stroke="#4848a2" stroke-width="0.95"/>
<path d="M164.55 272.00L161.40 270.34V273.66Z" fill="#fff" stroke="#4848a2" stroke-width="0.95"/>
<path d="M171.85 277.40L168.70 275.74V279.06Z" fill="#fff" stroke="#4848a2" stroke-width="0.95"/>
<path d="M179.85 281.80L176.70 280.14V283.46Z" fill="#fff" stroke="#4848a2" stroke-width="0.95"/>
<path d="M186.45 284.00L183.30 282.34V285.66Z" fill="#fff" stroke="#4848a2" stroke-width="0.95"/>
<path d="M44.75 281.40L41.60 279.74V283.06Z" fill="#fff" stroke="#4848a2" stroke-width="0.95"/>
<path d="M204.13 285.04L200.98 283.38V286.70Z" fill="#fff" stroke="#4848a2" stroke-width="0.95"/>
<path d="M213.50 285.09L210.35 283.43V286.76Z" fill="#fff" stroke="#4848a2" stroke-width="0.95"/>
<path d="M222.88 285.15L219.72 283.48V286.81Z" fill="#fff" stroke="#4848a2" stroke-width="0.95"/>
<path d="M232.25 285.20L229.10 283.54V286.86Z" fill="#fff" stroke="#4848a2" stroke-width="0.95"/>
<path d="M43.0 287.5 L230.5 287.5" stroke="#222" stroke-width="1.0" fill="none" stroke-linejoin="round"/>
<circle cx="43.00" cy="287.50" r="1.35" fill="#fff" stroke="#222" stroke-width="0.95"/>
<circle cx="52.38" cy="287.50" r="1.35" fill="#fff" stroke="#222" stroke-width="0.95"/>
<circle cx="61.75" cy="287.50" r="1.35" fill="#fff" stroke="#222" stroke-width="0.95"/>
<circle cx="71.12" cy="287.50" r="1.35" fill="#fff" stroke="#222" stroke-width="0.95"/>
<circle cx="80.50" cy="287.50" r="1.35" fill="#fff" stroke="#222" stroke-width="0.95"/>
<circle cx="89.88" cy="287.50" r="1.35" fill="#fff" stroke="#222" stroke-width="0.95"/>
<circle cx="99.25" cy="287.50" r="1.35" fill="#fff" stroke="#222" stroke-width="0.95"/>
<circle cx="108.62" cy="287.50" r="1.35" fill="#fff" stroke="#222" stroke-width="0.95"/>
<circle cx="118.00" cy="287.50" r="1.35" fill="#fff" stroke="#222" stroke-width="0.95"/>
<circle cx="127.38" cy="287.50" r="1.35" fill="#fff" stroke="#222" stroke-width="0.95"/>
<circle cx="136.75" cy="287.50" r="1.35" fill="#fff" stroke="#222" stroke-width="0.95"/>
<circle cx="146.12" cy="287.50" r="1.35" fill="#fff" stroke="#222" stroke-width="0.95"/>
<circle cx="155.50" cy="287.50" r="1.35" fill="#fff" stroke="#222" stroke-width="0.95"/>
<circle cx="164.88" cy="287.50" r="1.35" fill="#fff" stroke="#222" stroke-width="0.95"/>
<circle cx="174.25" cy="287.50" r="1.35" fill="#fff" stroke="#222" stroke-width="0.95"/>
<circle cx="183.62" cy="287.50" r="1.35" fill="#fff" stroke="#222" stroke-width="0.95"/>
<circle cx="193.00" cy="287.50" r="1.35" fill="#fff" stroke="#222" stroke-width="0.95"/>
<circle cx="202.38" cy="287.50" r="1.35" fill="#fff" stroke="#222" stroke-width="0.95"/>
<circle cx="211.75" cy="287.50" r="1.35" fill="#fff" stroke="#222" stroke-width="0.95"/>
<circle cx="221.12" cy="287.50" r="1.35" fill="#fff" stroke="#222" stroke-width="0.95"/>
<circle cx="230.50" cy="287.50" r="1.35" fill="#fff" stroke="#222" stroke-width="0.95"/>
<path d="M43.0 279.6 L71.5 279.6 L86.8 274.5 L98.5 270.1 L108.7 259.9 L116.0 253.4 L121.9 247.5 L130.7 245.3 L138.0 250.4 L145.3 258.5 L152.6 268.0 L161.3 275.3 L170.1 279.6 L178.8 283.3 L187.6 284.7 L230.5 285.2" stroke="#8cc8cf" stroke-width="1.3" fill="none" stroke-linejoin="round" stroke-dasharray="6 2 1.2 2 1.2 2"/>
<path d="M43.00 320.79h3.6M43.00 285.07h3.6M43.00 249.36h3.6M80.50 356.50v-3.8M118.00 356.50v-3.8M155.50 356.50v-3.8M193.00 356.50v-3.8" stroke="#4a4a4a" stroke-width="1" fill="none"/>
<path d="M43.00 349.36h1.8M43.00 342.21h1.8M43.00 335.07h1.8M43.00 327.93h1.8M43.00 313.64h1.8M43.00 306.50h1.8M43.00 299.36h1.8M43.00 292.22h1.8M43.00 277.93h1.8M43.00 270.79h1.8M43.00 263.65h1.8M43.00 256.50h1.8M43.00 242.22h1.8M43.00 235.08h1.8M43.00 227.93h1.8M43.00 220.79h1.8M52.38 356.50v-2.0M61.75 356.50v-2.0M71.12 356.50v-2.0M89.88 356.50v-2.0M99.25 356.50v-2.0M108.62 356.50v-2.0M127.38 356.50v-2.0M136.75 356.50v-2.0M146.12 356.50v-2.0M164.88 356.50v-2.0M174.25 356.50v-2.0M183.62 356.50v-2.0M202.38 356.50v-2.0M211.75 356.50v-2.0M221.12 356.50v-2.0" stroke="#7a7a7a" stroke-width="0.8" fill="none"/>
<rect x="43.00" y="213.65" width="187.50" height="142.85" stroke="#4a4a4a" stroke-width="1.2" fill="none"/>
<text transform="translate(40.60 360.50) scale(1 1.08)" text-anchor="end" font-size="11.2">−0.010</text>
<text transform="translate(40.60 324.79) scale(1 1.08)" text-anchor="end" font-size="11.2">−0.005</text>
<text transform="translate(40.60 289.07) scale(1 1.08)" text-anchor="end" font-size="11.2">0</text>
<text transform="translate(40.60 253.36) scale(1 1.08)" text-anchor="end" font-size="11.2">0.005</text>
<text transform="translate(40.60 217.65) scale(1 1.08)" text-anchor="end" font-size="11.2">0.010</text>
<text transform="translate(43.00 367.50) scale(1 1.08)" text-anchor="middle" font-size="11.2">0</text>
<text transform="translate(80.50 367.50) scale(1 1.08)" text-anchor="middle" font-size="11.2">0.2</text>
<text transform="translate(118.00 367.50) scale(1 1.08)" text-anchor="middle" font-size="11.2">0.4</text>
<text transform="translate(155.50 367.50) scale(1 1.08)" text-anchor="middle" font-size="11.2">0.6</text>
<text transform="translate(193.00 367.50) scale(1 1.08)" text-anchor="middle" font-size="11.2">0.8</text>
<text transform="translate(230.50 367.50) scale(1 1.08)" text-anchor="middle" font-size="11.2">1.0</text>
<text transform="translate(136.75 381.30) scale(1 1.08)" text-anchor="middle" font-size="11.8">Relative length</text>
<text transform="translate(8.5 285.07) rotate(-90) scale(1.08 1)" text-anchor="middle" font-size="11.2">Value of TKE budgets</text>
<text transform="translate(48.00 227.05) scale(1 1.08)" font-size="11.4">(d) L4</text>
<path d="M265.7 286.9 L274.5 288.4 L284.0 289.6 L293.5 291.3 L302.2 289.1 L310.3 284.7 L316.1 281.1 L320.5 278.9 L327.8 276.7 L335.0 271.6 L339.5 270.9 L344.6 274.5 L350.4 279.6 L357.0 284.7 L360.8 286.7 L367.4 290.4 L376.9 290.4 L386.4 288.9 L395.9 286.7 L406.0 285.3 L453.1 285.2" stroke="#62bb55" stroke-width="1.0" fill="none" stroke-linejoin="round"/>
<circle cx="274.50" cy="288.40" r="1.35" fill="#fff" stroke="#62bb55" stroke-width="0.95"/>
<circle cx="284.00" cy="289.60" r="1.35" fill="#fff" stroke="#62bb55" stroke-width="0.95"/>
<circle cx="293.50" cy="291.30" r="1.35" fill="#fff" stroke="#62bb55" stroke-width="0.95"/>
<circle cx="302.20" cy="289.10" r="1.35" fill="#fff" stroke="#62bb55" stroke-width="0.95"/>
<circle cx="310.30" cy="284.70" r="1.35" fill="#fff" stroke="#62bb55" stroke-width="0.95"/>
<circle cx="316.10" cy="281.10" r="1.35" fill="#fff" stroke="#62bb55" stroke-width="0.95"/>
<circle cx="320.50" cy="278.90" r="1.35" fill="#fff" stroke="#62bb55" stroke-width="0.95"/>
<circle cx="327.80" cy="276.70" r="1.35" fill="#fff" stroke="#62bb55" stroke-width="0.95"/>
<circle cx="335.00" cy="271.60" r="1.35" fill="#fff" stroke="#62bb55" stroke-width="0.95"/>
<circle cx="339.50" cy="270.90" r="1.35" fill="#fff" stroke="#62bb55" stroke-width="0.95"/>
<circle cx="344.60" cy="274.50" r="1.35" fill="#fff" stroke="#62bb55" stroke-width="0.95"/>
<circle cx="350.40" cy="279.60" r="1.35" fill="#fff" stroke="#62bb55" stroke-width="0.95"/>
<circle cx="357.00" cy="284.70" r="1.35" fill="#fff" stroke="#62bb55" stroke-width="0.95"/>
<circle cx="360.80" cy="286.70" r="1.35" fill="#fff" stroke="#62bb55" stroke-width="0.95"/>
<circle cx="367.40" cy="290.40" r="1.35" fill="#fff" stroke="#62bb55" stroke-width="0.95"/>
<circle cx="376.90" cy="290.40" r="1.35" fill="#fff" stroke="#62bb55" stroke-width="0.95"/>
<circle cx="386.40" cy="288.90" r="1.35" fill="#fff" stroke="#62bb55" stroke-width="0.95"/>
<circle cx="395.90" cy="286.70" r="1.35" fill="#fff" stroke="#62bb55" stroke-width="0.95"/>
<circle cx="406.00" cy="285.30" r="1.35" fill="#fff" stroke="#62bb55" stroke-width="0.95"/>
<circle cx="265.70" cy="286.90" r="1.35" fill="#fff" stroke="#62bb55" stroke-width="0.95"/>
<circle cx="415.62" cy="285.28" r="1.35" fill="#fff" stroke="#62bb55" stroke-width="0.95"/>
<circle cx="424.99" cy="285.26" r="1.35" fill="#fff" stroke="#62bb55" stroke-width="0.95"/>
<circle cx="434.36" cy="285.24" r="1.35" fill="#fff" stroke="#62bb55" stroke-width="0.95"/>
<circle cx="443.73" cy="285.22" r="1.35" fill="#fff" stroke="#62bb55" stroke-width="0.95"/>
<circle cx="453.10" cy="285.20" r="1.35" fill="#fff" stroke="#62bb55" stroke-width="0.95"/>
<path d="M265.7 279.6 L274.5 279.9 L284.0 278.9 L293.5 274.5 L300.8 268.2 L306.6 261.4 L312.0 254.5 L317.8 247.8 L325.1 241.7 L334.8 244.3 L340.2 251.2 L344.6 259.2 L349.7 268.7 L354.1 276.4 L359.4 281.6 L368.9 283.8 L378.4 286.0 L387.8 285.3 L400.0 284.8 L453.1 284.8" stroke="#cf4242" stroke-width="1.0" fill="none" stroke-linejoin="round" stroke-dasharray="3 2.5"/>
<rect x="272.95" y="278.35" width="3.1" height="3.1" fill="#fff" stroke="#cf4242" stroke-width="1.15"/>
<rect x="282.45" y="277.35" width="3.1" height="3.1" fill="#fff" stroke="#cf4242" stroke-width="1.15"/>
<rect x="291.95" y="272.95" width="3.1" height="3.1" fill="#fff" stroke="#cf4242" stroke-width="1.15"/>
<rect x="299.25" y="266.65" width="3.1" height="3.1" fill="#fff" stroke="#cf4242" stroke-width="1.15"/>
<rect x="305.05" y="259.85" width="3.1" height="3.1" fill="#fff" stroke="#cf4242" stroke-width="1.15"/>
<rect x="310.45" y="252.95" width="3.1" height="3.1" fill="#fff" stroke="#cf4242" stroke-width="1.15"/>
<rect x="316.25" y="246.25" width="3.1" height="3.1" fill="#fff" stroke="#cf4242" stroke-width="1.15"/>
<rect x="323.55" y="240.15" width="3.1" height="3.1" fill="#fff" stroke="#cf4242" stroke-width="1.15"/>
<rect x="333.25" y="242.75" width="3.1" height="3.1" fill="#fff" stroke="#cf4242" stroke-width="1.15"/>
<rect x="338.65" y="249.65" width="3.1" height="3.1" fill="#fff" stroke="#cf4242" stroke-width="1.15"/>
<rect x="343.05" y="257.65" width="3.1" height="3.1" fill="#fff" stroke="#cf4242" stroke-width="1.15"/>
<rect x="348.15" y="267.15" width="3.1" height="3.1" fill="#fff" stroke="#cf4242" stroke-width="1.15"/>
<rect x="352.55" y="274.85" width="3.1" height="3.1" fill="#fff" stroke="#cf4242" stroke-width="1.15"/>
<rect x="357.85" y="280.05" width="3.1" height="3.1" fill="#fff" stroke="#cf4242" stroke-width="1.15"/>
<rect x="367.35" y="282.25" width="3.1" height="3.1" fill="#fff" stroke="#cf4242" stroke-width="1.15"/>
<rect x="376.85" y="284.45" width="3.1" height="3.1" fill="#fff" stroke="#cf4242" stroke-width="1.15"/>
<rect x="386.25" y="283.75" width="3.1" height="3.1" fill="#fff" stroke="#cf4242" stroke-width="1.15"/>
<rect x="264.15" y="278.05" width="3.1" height="3.1" fill="#fff" stroke="#cf4242" stroke-width="1.15"/>
<rect x="404.70" y="283.25" width="3.1" height="3.1" fill="#fff" stroke="#cf4242" stroke-width="1.15"/>
<rect x="414.07" y="283.25" width="3.1" height="3.1" fill="#fff" stroke="#cf4242" stroke-width="1.15"/>
<rect x="423.44" y="283.25" width="3.1" height="3.1" fill="#fff" stroke="#cf4242" stroke-width="1.15"/>
<rect x="432.81" y="283.25" width="3.1" height="3.1" fill="#fff" stroke="#cf4242" stroke-width="1.15"/>
<rect x="442.18" y="283.25" width="3.1" height="3.1" fill="#fff" stroke="#cf4242" stroke-width="1.15"/>
<rect x="451.55" y="283.25" width="3.1" height="3.1" fill="#fff" stroke="#cf4242" stroke-width="1.15"/>
<path d="M265.7 285.8 L310.0 285.6 L320.5 283.3 L330.7 282.6 L345.0 284.8 L397.3 283.0 L410.0 284.5 L453.1 284.8" stroke="#f0a445" stroke-width="1.0" fill="none" stroke-linejoin="round"/>
<path d="M320.50 281.46L322.25 284.61H318.75Z" fill="#fff" stroke="#f0a445" stroke-width="0.95"/>
<path d="M330.70 280.76L332.45 283.91H328.95Z" fill="#fff" stroke="#f0a445" stroke-width="0.95"/>
<path d="M397.30 281.16L399.05 284.31H395.55Z" fill="#fff" stroke="#f0a445" stroke-width="0.95"/>
<path d="M265.70 283.96L267.45 287.11H263.95Z" fill="#fff" stroke="#f0a445" stroke-width="0.95"/>
<path d="M275.07 283.92L276.82 287.07H273.32Z" fill="#fff" stroke="#f0a445" stroke-width="0.95"/>
<path d="M284.44 283.88L286.19 287.03H282.69Z" fill="#fff" stroke="#f0a445" stroke-width="0.95"/>
<path d="M293.81 283.84L295.56 286.99H292.06Z" fill="#fff" stroke="#f0a445" stroke-width="0.95"/>
<path d="M303.18 283.79L304.93 286.94H301.43Z" fill="#fff" stroke="#f0a445" stroke-width="0.95"/>
<path d="M415.62 282.70L417.37 285.85H413.87Z" fill="#fff" stroke="#f0a445" stroke-width="0.95"/>
<path d="M424.99 282.77L426.74 285.92H423.24Z" fill="#fff" stroke="#f0a445" stroke-width="0.95"/>
<path d="M434.36 282.83L436.11 285.98H432.61Z" fill="#fff" stroke="#f0a445" stroke-width="0.95"/>
<path d="M443.73 282.90L445.48 286.05H441.98Z" fill="#fff" stroke="#f0a445" stroke-width="0.95"/>
<path d="M453.10 282.96L454.85 286.11H451.35Z" fill="#fff" stroke="#f0a445" stroke-width="0.95"/>
<path d="M265.7 284.7 L453.1 284.7" stroke="#9a4aa5" stroke-width="1.2" fill="none" stroke-linejoin="round"/>
<path d="M265.70 286.54L267.45 283.39H263.95Z" fill="#fff" stroke="#9a4aa5" stroke-width="0.95"/>
<path d="M275.07 286.54L276.82 283.39H273.32Z" fill="#fff" stroke="#9a4aa5" stroke-width="0.95"/>
<path d="M284.44 286.54L286.19 283.39H282.69Z" fill="#fff" stroke="#9a4aa5" stroke-width="0.95"/>
<path d="M293.81 286.54L295.56 283.39H292.06Z" fill="#fff" stroke="#9a4aa5" stroke-width="0.95"/>
<path d="M303.18 286.54L304.93 283.39H301.43Z" fill="#fff" stroke="#9a4aa5" stroke-width="0.95"/>
<path d="M312.55 286.54L314.30 283.39H310.80Z" fill="#fff" stroke="#9a4aa5" stroke-width="0.95"/>
<path d="M321.92 286.54L323.67 283.39H320.17Z" fill="#fff" stroke="#9a4aa5" stroke-width="0.95"/>
<path d="M331.29 286.54L333.04 283.39H329.54Z" fill="#fff" stroke="#9a4aa5" stroke-width="0.95"/>
<path d="M340.66 286.54L342.41 283.39H338.91Z" fill="#fff" stroke="#9a4aa5" stroke-width="0.95"/>
<path d="M350.03 286.54L351.78 283.39H348.28Z" fill="#fff" stroke="#9a4aa5" stroke-width="0.95"/>
<path d="M359.40 286.54L361.15 283.39H357.65Z" fill="#fff" stroke="#9a4aa5" stroke-width="0.95"/>
<path d="M368.77 286.54L370.52 283.39H367.02Z" fill="#fff" stroke="#9a4aa5" stroke-width="0.95"/>
<path d="M378.14 286.54L379.89 283.39H376.39Z" fill="#fff" stroke="#9a4aa5" stroke-width="0.95"/>
<path d="M387.51 286.54L389.26 283.39H385.76Z" fill="#fff" stroke="#9a4aa5" stroke-width="0.95"/>
<path d="M396.88 286.54L398.63 283.39H395.13Z" fill="#fff" stroke="#9a4aa5" stroke-width="0.95"/>
<path d="M406.25 286.54L408.00 283.39H404.50Z" fill="#fff" stroke="#9a4aa5" stroke-width="0.95"/>
<path d="M415.62 286.54L417.37 283.39H413.87Z" fill="#fff" stroke="#9a4aa5" stroke-width="0.95"/>
<path d="M424.99 286.54L426.74 283.39H423.24Z" fill="#fff" stroke="#9a4aa5" stroke-width="0.95"/>
<path d="M434.36 286.54L436.11 283.39H432.61Z" fill="#fff" stroke="#9a4aa5" stroke-width="0.95"/>
<path d="M443.73 286.54L445.48 283.39H441.98Z" fill="#fff" stroke="#9a4aa5" stroke-width="0.95"/>
<path d="M453.10 286.54L454.85 283.39H451.35Z" fill="#fff" stroke="#9a4aa5" stroke-width="0.95"/>
<path d="M265.7 277.4 L274.5 276.4 L284.0 275.3 L293.5 274.5 L300.8 279.6 L307.3 285.5 L314.6 293.5 L319.7 301.5 L324.9 308.1 L330.0 310.0 L335.0 308.1 L340.2 301.5 L344.6 293.5 L349.7 284.0 L354.1 276.4 L360.8 271.0 L364.5 271.4 L371.0 273.9 L378.4 278.2 L387.1 281.6 L397.3 283.5 L406.0 284.5 L453.1 285.0" stroke="#4848a2" stroke-width="1.0" fill="none" stroke-linejoin="round"/>
<path d="M276.25 276.40L273.10 274.74V278.06Z" fill="#fff" stroke="#4848a2" stroke-width="0.95"/>
<path d="M285.75 275.30L282.60 273.64V276.96Z" fill="#fff" stroke="#4848a2" stroke-width="0.95"/>
<path d="M295.25 274.50L292.10 272.84V276.16Z" fill="#fff" stroke="#4848a2" stroke-width="0.95"/>
<path d="M302.55 279.60L299.40 277.94V281.26Z" fill="#fff" stroke="#4848a2" stroke-width="0.95"/>
<path d="M309.05 285.50L305.90 283.84V287.16Z" fill="#fff" stroke="#4848a2" stroke-width="0.95"/>
<path d="M316.35 293.50L313.20 291.84V295.16Z" fill="#fff" stroke="#4848a2" stroke-width="0.95"/>
<path d="M321.45 301.50L318.30 299.84V303.16Z" fill="#fff" stroke="#4848a2" stroke-width="0.95"/>
<path d="M326.65 308.10L323.50 306.44V309.76Z" fill="#fff" stroke="#4848a2" stroke-width="0.95"/>
<path d="M331.75 310.00L328.60 308.34V311.66Z" fill="#fff" stroke="#4848a2" stroke-width="0.95"/>
<path d="M336.75 308.10L333.60 306.44V309.76Z" fill="#fff" stroke="#4848a2" stroke-width="0.95"/>
<path d="M341.95 301.50L338.80 299.84V303.16Z" fill="#fff" stroke="#4848a2" stroke-width="0.95"/>
<path d="M346.35 293.50L343.20 291.84V295.16Z" fill="#fff" stroke="#4848a2" stroke-width="0.95"/>
<path d="M351.45 284.00L348.30 282.34V285.66Z" fill="#fff" stroke="#4848a2" stroke-width="0.95"/>
<path d="M355.85 276.40L352.70 274.74V278.06Z" fill="#fff" stroke="#4848a2" stroke-width="0.95"/>
<path d="M362.55 271.00L359.40 269.34V272.66Z" fill="#fff" stroke="#4848a2" stroke-width="0.95"/>
<path d="M366.25 271.40L363.10 269.74V273.06Z" fill="#fff" stroke="#4848a2" stroke-width="0.95"/>
<path d="M372.75 273.90L369.60 272.24V275.56Z" fill="#fff" stroke="#4848a2" stroke-width="0.95"/>
<path d="M380.15 278.20L377.00 276.54V279.86Z" fill="#fff" stroke="#4848a2" stroke-width="0.95"/>
<path d="M388.85 281.60L385.70 279.94V283.26Z" fill="#fff" stroke="#4848a2" stroke-width="0.95"/>
<path d="M399.05 283.50L395.90 281.84V285.16Z" fill="#fff" stroke="#4848a2" stroke-width="0.95"/>
<path d="M407.75 284.50L404.60 282.84V286.16Z" fill="#fff" stroke="#4848a2" stroke-width="0.95"/>
<path d="M267.45 277.40L264.30 275.74V279.06Z" fill="#fff" stroke="#4848a2" stroke-width="0.95"/>
<path d="M417.37 284.60L414.22 282.94V286.26Z" fill="#fff" stroke="#4848a2" stroke-width="0.95"/>
<path d="M426.74 284.70L423.59 283.04V286.36Z" fill="#fff" stroke="#4848a2" stroke-width="0.95"/>
<path d="M436.11 284.80L432.96 283.14V286.46Z" fill="#fff" stroke="#4848a2" stroke-width="0.95"/>
<path d="M445.48 284.90L442.33 283.24V286.56Z" fill="#fff" stroke="#4848a2" stroke-width="0.95"/>
<path d="M454.85 285.00L451.70 283.34V286.66Z" fill="#fff" stroke="#4848a2" stroke-width="0.95"/>
<path d="M265.7 287.3 L453.1 287.3" stroke="#222" stroke-width="1.0" fill="none" stroke-linejoin="round"/>
<circle cx="265.70" cy="287.30" r="1.35" fill="#fff" stroke="#222" stroke-width="0.95"/>
<circle cx="275.07" cy="287.30" r="1.35" fill="#fff" stroke="#222" stroke-width="0.95"/>
<circle cx="284.44" cy="287.30" r="1.35" fill="#fff" stroke="#222" stroke-width="0.95"/>
<circle cx="293.81" cy="287.30" r="1.35" fill="#fff" stroke="#222" stroke-width="0.95"/>
<circle cx="303.18" cy="287.30" r="1.35" fill="#fff" stroke="#222" stroke-width="0.95"/>
<circle cx="312.55" cy="287.30" r="1.35" fill="#fff" stroke="#222" stroke-width="0.95"/>
<circle cx="321.92" cy="287.30" r="1.35" fill="#fff" stroke="#222" stroke-width="0.95"/>
<circle cx="331.29" cy="287.30" r="1.35" fill="#fff" stroke="#222" stroke-width="0.95"/>
<circle cx="340.66" cy="287.30" r="1.35" fill="#fff" stroke="#222" stroke-width="0.95"/>
<circle cx="350.03" cy="287.30" r="1.35" fill="#fff" stroke="#222" stroke-width="0.95"/>
<circle cx="359.40" cy="287.30" r="1.35" fill="#fff" stroke="#222" stroke-width="0.95"/>
<circle cx="368.77" cy="287.30" r="1.35" fill="#fff" stroke="#222" stroke-width="0.95"/>
<circle cx="378.14" cy="287.30" r="1.35" fill="#fff" stroke="#222" stroke-width="0.95"/>
<circle cx="387.51" cy="287.30" r="1.35" fill="#fff" stroke="#222" stroke-width="0.95"/>
<circle cx="396.88" cy="287.30" r="1.35" fill="#fff" stroke="#222" stroke-width="0.95"/>
<circle cx="406.25" cy="287.30" r="1.35" fill="#fff" stroke="#222" stroke-width="0.95"/>
<circle cx="415.62" cy="287.30" r="1.35" fill="#fff" stroke="#222" stroke-width="0.95"/>
<circle cx="424.99" cy="287.30" r="1.35" fill="#fff" stroke="#222" stroke-width="0.95"/>
<circle cx="434.36" cy="287.30" r="1.35" fill="#fff" stroke="#222" stroke-width="0.95"/>
<circle cx="443.73" cy="287.30" r="1.35" fill="#fff" stroke="#222" stroke-width="0.95"/>
<circle cx="453.10" cy="287.30" r="1.35" fill="#fff" stroke="#222" stroke-width="0.95"/>
<path d="M265.7 278.9 L284.0 275.3 L294.2 272.3 L303.0 266.5 L311.7 261.4 L322.0 258.0 L329.2 259.9 L335.0 256.3 L340.9 257.0 L348.2 262.8 L355.0 267.7 L363.8 273.6 L372.5 278.7 L381.3 281.6 L391.5 283.8 L405.0 284.8 L453.1 285.0" stroke="#8cc8cf" stroke-width="1.3" fill="none" stroke-linejoin="round" stroke-dasharray="6 2 1.2 2 1.2 2"/>
<path d="M265.70 320.79h3.6M265.70 285.07h3.6M265.70 249.36h3.6M303.18 356.50v-3.8M340.66 356.50v-3.8M378.14 356.50v-3.8M415.62 356.50v-3.8" stroke="#4a4a4a" stroke-width="1" fill="none"/>
<path d="M265.70 349.36h1.8M265.70 342.21h1.8M265.70 335.07h1.8M265.70 327.93h1.8M265.70 313.64h1.8M265.70 306.50h1.8M265.70 299.36h1.8M265.70 292.22h1.8M265.70 277.93h1.8M265.70 270.79h1.8M265.70 263.65h1.8M265.70 256.50h1.8M265.70 242.22h1.8M265.70 235.08h1.8M265.70 227.93h1.8M265.70 220.79h1.8M275.07 356.50v-2.0M284.44 356.50v-2.0M293.81 356.50v-2.0M312.55 356.50v-2.0M321.92 356.50v-2.0M331.29 356.50v-2.0M350.03 356.50v-2.0M359.40 356.50v-2.0M368.77 356.50v-2.0M387.51 356.50v-2.0M396.88 356.50v-2.0M406.25 356.50v-2.0M424.99 356.50v-2.0M434.36 356.50v-2.0M443.73 356.50v-2.0" stroke="#7a7a7a" stroke-width="0.8" fill="none"/>
<rect x="265.70" y="213.65" width="187.40" height="142.85" stroke="#4a4a4a" stroke-width="1.2" fill="none"/>
<text transform="translate(263.30 360.50) scale(1 1.08)" text-anchor="end" font-size="11.2">−0.010</text>
<text transform="translate(263.30 324.79) scale(1 1.08)" text-anchor="end" font-size="11.2">−0.005</text>
<text transform="translate(263.30 289.07) scale(1 1.08)" text-anchor="end" font-size="11.2">0</text>
<text transform="translate(263.30 253.36) scale(1 1.08)" text-anchor="end" font-size="11.2">0.005</text>
<text transform="translate(263.30 217.65) scale(1 1.08)" text-anchor="end" font-size="11.2">0.010</text>
<text transform="translate(265.70 367.50) scale(1 1.08)" text-anchor="middle" font-size="11.2">0</text>
<text transform="translate(303.18 367.50) scale(1 1.08)" text-anchor="middle" font-size="11.2">0.2</text>
<text transform="translate(340.66 367.50) scale(1 1.08)" text-anchor="middle" font-size="11.2">0.4</text>
<text transform="translate(378.14 367.50) scale(1 1.08)" text-anchor="middle" font-size="11.2">0.6</text>
<text transform="translate(415.62 367.50) scale(1 1.08)" text-anchor="middle" font-size="11.2">0.8</text>
<text transform="translate(453.10 367.50) scale(1 1.08)" text-anchor="middle" font-size="11.2">1.0</text>
<text transform="translate(359.40 381.30) scale(1 1.08)" text-anchor="middle" font-size="11.8">Relative length</text>
<text transform="translate(270.70 227.05) scale(1 1.08)" font-size="11.4">(e) L5</text>
<path d="M489.5 289.9 L499.2 290.1 L508.7 293.1 L518.2 295.4 L527.2 295.4 L537.2 293.5 L545.9 291.0 L554.7 287.7 L564.9 286.2 L574.4 286.2 L583.8 287.2 L591.9 290.1 L601.4 291.3 L610.8 290.6 L620.3 289.6 L629.8 288.1 L639.3 286.9 L649.5 286.2 L660.0 285.6 L677.4 285.4" stroke="#62bb55" stroke-width="1.0" fill="none" stroke-linejoin="round"/>
<circle cx="499.20" cy="290.10" r="1.35" fill="#fff" stroke="#62bb55" stroke-width="0.95"/>
<circle cx="508.70" cy="293.10" r="1.35" fill="#fff" stroke="#62bb55" stroke-width="0.95"/>
<circle cx="518.20" cy="295.40" r="1.35" fill="#fff" stroke="#62bb55" stroke-width="0.95"/>
<circle cx="527.20" cy="295.40" r="1.35" fill="#fff" stroke="#62bb55" stroke-width="0.95"/>
<circle cx="537.20" cy="293.50" r="1.35" fill="#fff" stroke="#62bb55" stroke-width="0.95"/>
<circle cx="545.90" cy="291.00" r="1.35" fill="#fff" stroke="#62bb55" stroke-width="0.95"/>
<circle cx="554.70" cy="287.70" r="1.35" fill="#fff" stroke="#62bb55" stroke-width="0.95"/>
<circle cx="564.90" cy="286.20" r="1.35" fill="#fff" stroke="#62bb55" stroke-width="0.95"/>
<circle cx="574.40" cy="286.20" r="1.35" fill="#fff" stroke="#62bb55" stroke-width="0.95"/>
<circle cx="583.80" cy="287.20" r="1.35" fill="#fff" stroke="#62bb55" stroke-width="0.95"/>
<circle cx="591.90" cy="290.10" r="1.35" fill="#fff" stroke="#62bb55" stroke-width="0.95"/>
<circle cx="601.40" cy="291.30" r="1.35" fill="#fff" stroke="#62bb55" stroke-width="0.95"/>
<circle cx="610.80" cy="290.60" r="1.35" fill="#fff" stroke="#62bb55" stroke-width="0.95"/>
<circle cx="620.30" cy="289.60" r="1.35" fill="#fff" stroke="#62bb55" stroke-width="0.95"/>
<circle cx="629.80" cy="288.10" r="1.35" fill="#fff" stroke="#62bb55" stroke-width="0.95"/>
<circle cx="639.30" cy="286.90" r="1.35" fill="#fff" stroke="#62bb55" stroke-width="0.95"/>
<circle cx="649.50" cy="286.20" r="1.35" fill="#fff" stroke="#62bb55" stroke-width="0.95"/>
<circle cx="489.50" cy="289.90" r="1.35" fill="#fff" stroke="#62bb55" stroke-width="0.95"/>
<circle cx="668.00" cy="285.51" r="1.35" fill="#fff" stroke="#62bb55" stroke-width="0.95"/>
<circle cx="677.40" cy="285.40" r="1.35" fill="#fff" stroke="#62bb55" stroke-width="0.95"/>
<path d="M489.5 276.4 L498.9 275.0 L508.7 272.6 L516.0 268.2 L523.6 262.8 L529.1 256.6 L535.0 251.2 L540.4 245.3 L545.9 239.9 L554.0 234.7 L563.5 236.6 L569.0 243.1 L574.4 251.9 L578.5 259.3 L582.4 265.8 L586.0 272.4 L591.9 278.9 L599.9 282.8 L608.7 284.7 L620.0 285.2 L677.4 285.2" stroke="#cf4242" stroke-width="1.0" fill="none" stroke-linejoin="round" stroke-dasharray="3 2.5"/>
<rect x="497.35" y="273.45" width="3.1" height="3.1" fill="#fff" stroke="#cf4242" stroke-width="1.15"/>
<rect x="507.15" y="271.05" width="3.1" height="3.1" fill="#fff" stroke="#cf4242" stroke-width="1.15"/>
<rect x="514.45" y="266.65" width="3.1" height="3.1" fill="#fff" stroke="#cf4242" stroke-width="1.15"/>
<rect x="522.05" y="261.25" width="3.1" height="3.1" fill="#fff" stroke="#cf4242" stroke-width="1.15"/>
<rect x="527.55" y="255.05" width="3.1" height="3.1" fill="#fff" stroke="#cf4242" stroke-width="1.15"/>
<rect x="533.45" y="249.65" width="3.1" height="3.1" fill="#fff" stroke="#cf4242" stroke-width="1.15"/>
<rect x="538.85" y="243.75" width="3.1" height="3.1" fill="#fff" stroke="#cf4242" stroke-width="1.15"/>
<rect x="544.35" y="238.35" width="3.1" height="3.1" fill="#fff" stroke="#cf4242" stroke-width="1.15"/>
<rect x="552.45" y="233.15" width="3.1" height="3.1" fill="#fff" stroke="#cf4242" stroke-width="1.15"/>
<rect x="561.95" y="235.05" width="3.1" height="3.1" fill="#fff" stroke="#cf4242" stroke-width="1.15"/>
<rect x="567.45" y="241.55" width="3.1" height="3.1" fill="#fff" stroke="#cf4242" stroke-width="1.15"/>
<rect x="572.85" y="250.35" width="3.1" height="3.1" fill="#fff" stroke="#cf4242" stroke-width="1.15"/>
<rect x="576.95" y="257.75" width="3.1" height="3.1" fill="#fff" stroke="#cf4242" stroke-width="1.15"/>
<rect x="580.85" y="264.25" width="3.1" height="3.1" fill="#fff" stroke="#cf4242" stroke-width="1.15"/>
<rect x="584.45" y="270.85" width="3.1" height="3.1" fill="#fff" stroke="#cf4242" stroke-width="1.15"/>
<rect x="590.35" y="277.35" width="3.1" height="3.1" fill="#fff" stroke="#cf4242" stroke-width="1.15"/>
<rect x="598.35" y="281.25" width="3.1" height="3.1" fill="#fff" stroke="#cf4242" stroke-width="1.15"/>
<rect x="607.15" y="283.15" width="3.1" height="3.1" fill="#fff" stroke="#cf4242" stroke-width="1.15"/>
<rect x="487.95" y="274.85" width="3.1" height="3.1" fill="#fff" stroke="#cf4242" stroke-width="1.15"/>
<rect x="628.88" y="283.65" width="3.1" height="3.1" fill="#fff" stroke="#cf4242" stroke-width="1.15"/>
<rect x="638.27" y="283.65" width="3.1" height="3.1" fill="#fff" stroke="#cf4242" stroke-width="1.15"/>
<rect x="647.67" y="283.65" width="3.1" height="3.1" fill="#fff" stroke="#cf4242" stroke-width="1.15"/>
<rect x="657.06" y="283.65" width="3.1" height="3.1" fill="#fff" stroke="#cf4242" stroke-width="1.15"/>
<rect x="666.46" y="283.65" width="3.1" height="3.1" fill="#fff" stroke="#cf4242" stroke-width="1.15"/>
<rect x="675.85" y="283.65" width="3.1" height="3.1" fill="#fff" stroke="#cf4242" stroke-width="1.15"/>
<path d="M489.5 285.8 L540.0 285.4 L545.9 282.2 L552.0 285.0 L575.0 285.4 L583.8 287.6 L592.0 286.0 L631.3 283.0 L640.0 284.6 L677.4 284.8" stroke="#f0a445" stroke-width="1.0" fill="none" stroke-linejoin="round"/>
<path d="M545.90 280.36L547.65 283.51H544.15Z" fill="#fff" stroke="#f0a445" stroke-width="0.95"/>
<path d="M583.80 285.76L585.55 288.91H582.05Z" fill="#fff" stroke="#f0a445" stroke-width="0.95"/>
<path d="M631.30 281.16L633.05 284.31H629.55Z" fill="#fff" stroke="#f0a445" stroke-width="0.95"/>
<path d="M489.50 283.96L491.25 287.11H487.75Z" fill="#fff" stroke="#f0a445" stroke-width="0.95"/>
<path d="M498.89 283.89L500.64 287.04H497.14Z" fill="#fff" stroke="#f0a445" stroke-width="0.95"/>
<path d="M508.29 283.81L510.04 286.96H506.54Z" fill="#fff" stroke="#f0a445" stroke-width="0.95"/>
<path d="M517.68 283.74L519.43 286.89H515.93Z" fill="#fff" stroke="#f0a445" stroke-width="0.95"/>
<path d="M527.08 283.66L528.83 286.81H525.33Z" fill="#fff" stroke="#f0a445" stroke-width="0.95"/>
<path d="M649.22 282.81L650.97 285.96H647.47Z" fill="#fff" stroke="#f0a445" stroke-width="0.95"/>
<path d="M658.61 282.86L660.36 286.01H656.86Z" fill="#fff" stroke="#f0a445" stroke-width="0.95"/>
<path d="M668.00 282.91L669.75 286.06H666.25Z" fill="#fff" stroke="#f0a445" stroke-width="0.95"/>
<path d="M677.40 282.96L679.15 286.11H675.65Z" fill="#fff" stroke="#f0a445" stroke-width="0.95"/>
<path d="M489.5 284.7 L677.4 284.7" stroke="#9a4aa5" stroke-width="1.2" fill="none" stroke-linejoin="round"/>
<path d="M489.50 286.54L491.25 283.39H487.75Z" fill="#fff" stroke="#9a4aa5" stroke-width="0.95"/>
<path d="M498.89 286.54L500.64 283.39H497.14Z" fill="#fff" stroke="#9a4aa5" stroke-width="0.95"/>
<path d="M508.29 286.54L510.04 283.39H506.54Z" fill="#fff" stroke="#9a4aa5" stroke-width="0.95"/>
<path d="M517.68 286.54L519.43 283.39H515.93Z" fill="#fff" stroke="#9a4aa5" stroke-width="0.95"/>
<path d="M527.08 286.54L528.83 283.39H525.33Z" fill="#fff" stroke="#9a4aa5" stroke-width="0.95"/>
<path d="M536.48 286.54L538.23 283.39H534.73Z" fill="#fff" stroke="#9a4aa5" stroke-width="0.95"/>
<path d="M545.87 286.54L547.62 283.39H544.12Z" fill="#fff" stroke="#9a4aa5" stroke-width="0.95"/>
<path d="M555.26 286.54L557.01 283.39H553.51Z" fill="#fff" stroke="#9a4aa5" stroke-width="0.95"/>
<path d="M564.66 286.54L566.41 283.39H562.91Z" fill="#fff" stroke="#9a4aa5" stroke-width="0.95"/>
<path d="M574.05 286.54L575.80 283.39H572.30Z" fill="#fff" stroke="#9a4aa5" stroke-width="0.95"/>
<path d="M583.45 286.54L585.20 283.39H581.70Z" fill="#fff" stroke="#9a4aa5" stroke-width="0.95"/>
<path d="M592.85 286.54L594.60 283.39H591.10Z" fill="#fff" stroke="#9a4aa5" stroke-width="0.95"/>
<path d="M602.24 286.54L603.99 283.39H600.49Z" fill="#fff" stroke="#9a4aa5" stroke-width="0.95"/>
<path d="M611.63 286.54L613.38 283.39H609.88Z" fill="#fff" stroke="#9a4aa5" stroke-width="0.95"/>
<path d="M621.03 286.54L622.78 283.39H619.28Z" fill="#fff" stroke="#9a4aa5" stroke-width="0.95"/>
<path d="M630.42 286.54L632.17 283.39H628.67Z" fill="#fff" stroke="#9a4aa5" stroke-width="0.95"/>
<path d="M639.82 286.54L641.57 283.39H638.07Z" fill="#fff" stroke="#9a4aa5" stroke-width="0.95"/>
<path d="M649.22 286.54L650.97 283.39H647.47Z" fill="#fff" stroke="#9a4aa5" stroke-width="0.95"/>
<path d="M658.61 286.54L660.36 283.39H656.86Z" fill="#fff" stroke="#9a4aa5" stroke-width="0.95"/>
<path d="M668.00 286.54L669.75 283.39H666.25Z" fill="#fff" stroke="#9a4aa5" stroke-width="0.95"/>
<path d="M677.40 286.54L679.15 283.39H675.65Z" fill="#fff" stroke="#9a4aa5" stroke-width="0.95"/>
<path d="M489.5 277.4 L498.5 277.4 L508.7 276.4 L518.2 275.5 L525.5 279.6 L531.3 285.2 L538.6 291.3 L544.5 297.4 L551.8 303.7 L561.3 305.2 L568.6 298.6 L574.4 291.3 L580.2 283.3 L583.8 276.0 L591.1 270.6 L600.6 271.6 L608.7 276.0 L617.4 280.8 L626.2 282.6 L636.4 284.3 L677.4 285.0" stroke="#4848a2" stroke-width="1.0" fill="none" stroke-linejoin="round"/>
<path d="M500.25 277.40L497.10 275.74V279.06Z" fill="#fff" stroke="#4848a2" stroke-width="0.95"/>
<path d="M510.45 276.40L507.30 274.74V278.06Z" fill="#fff" stroke="#4848a2" stroke-width="0.95"/>
<path d="M519.95 275.50L516.80 273.84V277.16Z" fill="#fff" stroke="#4848a2" stroke-width="0.95"/>
<path d="M527.25 279.60L524.10 277.94V281.26Z" fill="#fff" stroke="#4848a2" stroke-width="0.95"/>
<path d="M533.05 285.20L529.90 283.54V286.86Z" fill="#fff" stroke="#4848a2" stroke-width="0.95"/>
<path d="M540.35 291.30L537.20 289.64V292.96Z" fill="#fff" stroke="#4848a2" stroke-width="0.95"/>
<path d="M546.25 297.40L543.10 295.74V299.06Z" fill="#fff" stroke="#4848a2" stroke-width="0.95"/>
<path d="M553.55 303.70L550.40 302.04V305.36Z" fill="#fff" stroke="#4848a2" stroke-width="0.95"/>
<path d="M563.05 305.20L559.90 303.54V306.86Z" fill="#fff" stroke="#4848a2" stroke-width="0.95"/>
<path d="M570.35 298.60L567.20 296.94V300.26Z" fill="#fff" stroke="#4848a2" stroke-width="0.95"/>
<path d="M576.15 291.30L573.00 289.64V292.96Z" fill="#fff" stroke="#4848a2" stroke-width="0.95"/>
<path d="M581.95 283.30L578.80 281.64V284.96Z" fill="#fff" stroke="#4848a2" stroke-width="0.95"/>
<path d="M585.55 276.00L582.40 274.34V277.66Z" fill="#fff" stroke="#4848a2" stroke-width="0.95"/>
<path d="M592.85 270.60L589.70 268.94V272.26Z" fill="#fff" stroke="#4848a2" stroke-width="0.95"/>
<path d="M602.35 271.60L599.20 269.94V273.26Z" fill="#fff" stroke="#4848a2" stroke-width="0.95"/>
<path d="M610.45 276.00L607.30 274.34V277.66Z" fill="#fff" stroke="#4848a2" stroke-width="0.95"/>
<path d="M619.15 280.80L616.00 279.14V282.46Z" fill="#fff" stroke="#4848a2" stroke-width="0.95"/>
<path d="M627.95 282.60L624.80 280.94V284.26Z" fill="#fff" stroke="#4848a2" stroke-width="0.95"/>
<path d="M638.15 284.30L635.00 282.64V285.96Z" fill="#fff" stroke="#4848a2" stroke-width="0.95"/>
<path d="M491.25 277.40L488.10 275.74V279.06Z" fill="#fff" stroke="#4848a2" stroke-width="0.95"/>
<path d="M650.97 284.52L647.82 282.86V286.18Z" fill="#fff" stroke="#4848a2" stroke-width="0.95"/>
<path d="M660.36 284.68L657.21 283.02V286.34Z" fill="#fff" stroke="#4848a2" stroke-width="0.95"/>
<path d="M669.75 284.84L666.61 283.18V286.50Z" fill="#fff" stroke="#4848a2" stroke-width="0.95"/>
<path d="M679.15 285.00L676.00 283.34V286.66Z" fill="#fff" stroke="#4848a2" stroke-width="0.95"/>
<path d="M489.5 286.9 L677.4 286.4" stroke="#222" stroke-width="1.0" fill="none" stroke-linejoin="round"/>
<circle cx="489.50" cy="286.90" r="1.35" fill="#fff" stroke="#222" stroke-width="0.95"/>
<circle cx="498.89" cy="286.88" r="1.35" fill="#fff" stroke="#222" stroke-width="0.95"/>
<circle cx="508.29" cy="286.85" r="1.35" fill="#fff" stroke="#222" stroke-width="0.95"/>
<circle cx="517.68" cy="286.82" r="1.35" fill="#fff" stroke="#222" stroke-width="0.95"/>
<circle cx="527.08" cy="286.80" r="1.35" fill="#fff" stroke="#222" stroke-width="0.95"/>
<circle cx="536.48" cy="286.77" r="1.35" fill="#fff" stroke="#222" stroke-width="0.95"/>
<circle cx="545.87" cy="286.75" r="1.35" fill="#fff" stroke="#222" stroke-width="0.95"/>
<circle cx="555.26" cy="286.72" r="1.35" fill="#fff" stroke="#222" stroke-width="0.95"/>
<circle cx="564.66" cy="286.70" r="1.35" fill="#fff" stroke="#222" stroke-width="0.95"/>
<circle cx="574.05" cy="286.67" r="1.35" fill="#fff" stroke="#222" stroke-width="0.95"/>
<circle cx="583.45" cy="286.65" r="1.35" fill="#fff" stroke="#222" stroke-width="0.95"/>
<circle cx="592.85" cy="286.62" r="1.35" fill="#fff" stroke="#222" stroke-width="0.95"/>
<circle cx="602.24" cy="286.60" r="1.35" fill="#fff" stroke="#222" stroke-width="0.95"/>
<circle cx="611.63" cy="286.57" r="1.35" fill="#fff" stroke="#222" stroke-width="0.95"/>
<circle cx="621.03" cy="286.55" r="1.35" fill="#fff" stroke="#222" stroke-width="0.95"/>
<circle cx="630.42" cy="286.52" r="1.35" fill="#fff" stroke="#222" stroke-width="0.95"/>
<circle cx="639.82" cy="286.50" r="1.35" fill="#fff" stroke="#222" stroke-width="0.95"/>
<circle cx="649.22" cy="286.47" r="1.35" fill="#fff" stroke="#222" stroke-width="0.95"/>
<circle cx="658.61" cy="286.45" r="1.35" fill="#fff" stroke="#222" stroke-width="0.95"/>
<circle cx="668.00" cy="286.42" r="1.35" fill="#fff" stroke="#222" stroke-width="0.95"/>
<circle cx="677.40" cy="286.40" r="1.35" fill="#fff" stroke="#222" stroke-width="0.95"/>
<path d="M489.5 278.2 L499.2 276.7 L508.7 274.5 L516.7 271.6 L525.5 268.7 L532.8 267.2 L540.1 263.6 L547.4 260.7 L554.7 259.9 L560.5 258.9 L567.8 261.4 L576.6 265.0 L583.8 268.7 L592.6 273.8 L601.4 278.2 L610.1 281.4 L620.3 283.3 L630.6 284.7 L677.4 285.0" stroke="#8cc8cf" stroke-width="1.3" fill="none" stroke-linejoin="round" stroke-dasharray="6 2 1.2 2 1.2 2"/>
<path d="M489.50 320.79h3.6M489.50 285.07h3.6M489.50 249.36h3.6M527.08 356.50v-3.8M564.66 356.50v-3.8M602.24 356.50v-3.8M639.82 356.50v-3.8" stroke="#4a4a4a" stroke-width="1" fill="none"/>
<path d="M489.50 349.36h1.8M489.50 342.21h1.8M489.50 335.07h1.8M489.50 327.93h1.8M489.50 313.64h1.8M489.50 306.50h1.8M489.50 299.36h1.8M489.50 292.22h1.8M489.50 277.93h1.8M489.50 270.79h1.8M489.50 263.65h1.8M489.50 256.50h1.8M489.50 242.22h1.8M489.50 235.08h1.8M489.50 227.93h1.8M489.50 220.79h1.8M498.89 356.50v-2.0M508.29 356.50v-2.0M517.68 356.50v-2.0M536.48 356.50v-2.0M545.87 356.50v-2.0M555.26 356.50v-2.0M574.05 356.50v-2.0M583.45 356.50v-2.0M592.85 356.50v-2.0M611.63 356.50v-2.0M621.03 356.50v-2.0M630.42 356.50v-2.0M649.22 356.50v-2.0M658.61 356.50v-2.0M668.00 356.50v-2.0" stroke="#7a7a7a" stroke-width="0.8" fill="none"/>
<rect x="489.50" y="213.65" width="187.90" height="142.85" stroke="#4a4a4a" stroke-width="1.2" fill="none"/>
<text transform="translate(487.10 360.50) scale(1 1.08)" text-anchor="end" font-size="11.2">−0.010</text>
<text transform="translate(487.10 324.79) scale(1 1.08)" text-anchor="end" font-size="11.2">−0.005</text>
<text transform="translate(487.10 289.07) scale(1 1.08)" text-anchor="end" font-size="11.2">0</text>
<text transform="translate(487.10 253.36) scale(1 1.08)" text-anchor="end" font-size="11.2">0.005</text>
<text transform="translate(487.10 217.65) scale(1 1.08)" text-anchor="end" font-size="11.2">0.010</text>
<text transform="translate(489.50 367.50) scale(1 1.08)" text-anchor="middle" font-size="11.2">0</text>
<text transform="translate(527.08 367.50) scale(1 1.08)" text-anchor="middle" font-size="11.2">0.2</text>
<text transform="translate(564.66 367.50) scale(1 1.08)" text-anchor="middle" font-size="11.2">0.4</text>
<text transform="translate(602.24 367.50) scale(1 1.08)" text-anchor="middle" font-size="11.2">0.6</text>
<text transform="translate(639.82 367.50) scale(1 1.08)" text-anchor="middle" font-size="11.2">0.8</text>
<text transform="translate(677.40 367.50) scale(1 1.08)" text-anchor="middle" font-size="11.2">1.0</text>
<text transform="translate(583.45 381.30) scale(1 1.08)" text-anchor="middle" font-size="11.8">Relative length</text>
<text transform="translate(494.50 227.05) scale(1 1.08)" font-size="11.4">(f) L6</text>
<path d="M43.0 478.2 L51.0 482.6 L60.5 484.8 L70.0 486.2 L80.2 487.7 L89.7 486.2 L99.2 484.1 L108.7 483.3 L118.2 487.0 L127.7 483.3 L136.8 481.1 L146.3 478.9 L153.6 475.3 L155.8 469.7 L158.0 472.4 L160.9 477.5 L166.8 471.6 L176.3 468.7 L185.7 466.5 L195.2 465.8 L205.5 464.8 L214.9 464.3 L224.4 463.9 L230.5 463.8" stroke="#62bb55" stroke-width="1.0" fill="none" stroke-linejoin="round"/>
<circle cx="51.00" cy="482.60" r="1.35" fill="#fff" stroke="#62bb55" stroke-width="0.95"/>
<circle cx="60.50" cy="484.80" r="1.35" fill="#fff" stroke="#62bb55" stroke-width="0.95"/>
<circle cx="70.00" cy="486.20" r="1.35" fill="#fff" stroke="#62bb55" stroke-width="0.95"/>
<circle cx="80.20" cy="487.70" r="1.35" fill="#fff" stroke="#62bb55" stroke-width="0.95"/>
<circle cx="89.70" cy="486.20" r="1.35" fill="#fff" stroke="#62bb55" stroke-width="0.95"/>
<circle cx="99.20" cy="484.10" r="1.35" fill="#fff" stroke="#62bb55" stroke-width="0.95"/>
<circle cx="108.70" cy="483.30" r="1.35" fill="#fff" stroke="#62bb55" stroke-width="0.95"/>
<circle cx="118.20" cy="487.00" r="1.35" fill="#fff" stroke="#62bb55" stroke-width="0.95"/>
<circle cx="127.70" cy="483.30" r="1.35" fill="#fff" stroke="#62bb55" stroke-width="0.95"/>
<circle cx="136.80" cy="481.10" r="1.35" fill="#fff" stroke="#62bb55" stroke-width="0.95"/>
<circle cx="146.30" cy="478.90" r="1.35" fill="#fff" stroke="#62bb55" stroke-width="0.95"/>
<circle cx="153.60" cy="475.30" r="1.35" fill="#fff" stroke="#62bb55" stroke-width="0.95"/>
<circle cx="155.80" cy="469.70" r="1.35" fill="#fff" stroke="#62bb55" stroke-width="0.95"/>
<circle cx="158.00" cy="472.40" r="1.35" fill="#fff" stroke="#62bb55" stroke-width="0.95"/>
<circle cx="160.90" cy="477.50" r="1.35" fill="#fff" stroke="#62bb55" stroke-width="0.95"/>
<circle cx="166.80" cy="471.60" r="1.35" fill="#fff" stroke="#62bb55" stroke-width="0.95"/>
<circle cx="176.30" cy="468.70" r="1.35" fill="#fff" stroke="#62bb55" stroke-width="0.95"/>
<circle cx="185.70" cy="466.50" r="1.35" fill="#fff" stroke="#62bb55" stroke-width="0.95"/>
<circle cx="195.20" cy="465.80" r="1.35" fill="#fff" stroke="#62bb55" stroke-width="0.95"/>
<circle cx="205.50" cy="464.80" r="1.35" fill="#fff" stroke="#62bb55" stroke-width="0.95"/>
<circle cx="214.90" cy="464.30" r="1.35" fill="#fff" stroke="#62bb55" stroke-width="0.95"/>
<circle cx="224.40" cy="463.90" r="1.35" fill="#fff" stroke="#62bb55" stroke-width="0.95"/>
<circle cx="230.50" cy="463.80" r="1.35" fill="#fff" stroke="#62bb55" stroke-width="0.95"/>
<path d="M43.0 436.0 L52.9 441.4 L62.7 442.4 L72.2 438.1 L80.2 432.7 L85.3 427.1 L90.9 421.0 L96.7 414.7 L102.6 407.8 L108.7 401.6 L116.0 396.8 L125.5 401.6 L130.9 410.3 L134.6 419.8 L138.3 427.4 L142.0 437.6 L146.3 446.1 L152.2 454.9 L158.0 460.0 L162.4 462.4 L172.0 463.6 L230.5 463.6" stroke="#cf4242" stroke-width="1.0" fill="none" stroke-linejoin="round" stroke-dasharray="3 2.5"/>
<rect x="51.35" y="439.85" width="3.1" height="3.1" fill="#fff" stroke="#cf4242" stroke-width="1.15"/>
<rect x="61.15" y="440.85" width="3.1" height="3.1" fill="#fff" stroke="#cf4242" stroke-width="1.15"/>
<rect x="70.65" y="436.55" width="3.1" height="3.1" fill="#fff" stroke="#cf4242" stroke-width="1.15"/>
<rect x="78.65" y="431.15" width="3.1" height="3.1" fill="#fff" stroke="#cf4242" stroke-width="1.15"/>
<rect x="83.75" y="425.55" width="3.1" height="3.1" fill="#fff" stroke="#cf4242" stroke-width="1.15"/>
<rect x="89.35" y="419.45" width="3.1" height="3.1" fill="#fff" stroke="#cf4242" stroke-width="1.15"/>
<rect x="95.15" y="413.15" width="3.1" height="3.1" fill="#fff" stroke="#cf4242" stroke-width="1.15"/>
<rect x="101.05" y="406.25" width="3.1" height="3.1" fill="#fff" stroke="#cf4242" stroke-width="1.15"/>
<rect x="107.15" y="400.05" width="3.1" height="3.1" fill="#fff" stroke="#cf4242" stroke-width="1.15"/>
<rect x="114.45" y="395.25" width="3.1" height="3.1" fill="#fff" stroke="#cf4242" stroke-width="1.15"/>
<rect x="123.95" y="400.05" width="3.1" height="3.1" fill="#fff" stroke="#cf4242" stroke-width="1.15"/>
<rect x="129.35" y="408.75" width="3.1" height="3.1" fill="#fff" stroke="#cf4242" stroke-width="1.15"/>
<rect x="133.05" y="418.25" width="3.1" height="3.1" fill="#fff" stroke="#cf4242" stroke-width="1.15"/>
<rect x="136.75" y="425.85" width="3.1" height="3.1" fill="#fff" stroke="#cf4242" stroke-width="1.15"/>
<rect x="140.45" y="436.05" width="3.1" height="3.1" fill="#fff" stroke="#cf4242" stroke-width="1.15"/>
<rect x="144.75" y="444.55" width="3.1" height="3.1" fill="#fff" stroke="#cf4242" stroke-width="1.15"/>
<rect x="150.65" y="453.35" width="3.1" height="3.1" fill="#fff" stroke="#cf4242" stroke-width="1.15"/>
<rect x="156.45" y="458.45" width="3.1" height="3.1" fill="#fff" stroke="#cf4242" stroke-width="1.15"/>
<rect x="160.85" y="460.85" width="3.1" height="3.1" fill="#fff" stroke="#cf4242" stroke-width="1.15"/>
<rect x="182.07" y="462.05" width="3.1" height="3.1" fill="#fff" stroke="#cf4242" stroke-width="1.15"/>
<rect x="191.45" y="462.05" width="3.1" height="3.1" fill="#fff" stroke="#cf4242" stroke-width="1.15"/>
<rect x="200.83" y="462.05" width="3.1" height="3.1" fill="#fff" stroke="#cf4242" stroke-width="1.15"/>
<rect x="210.20" y="462.05" width="3.1" height="3.1" fill="#fff" stroke="#cf4242" stroke-width="1.15"/>
<rect x="219.57" y="462.05" width="3.1" height="3.1" fill="#fff" stroke="#cf4242" stroke-width="1.15"/>
<rect x="228.95" y="462.05" width="3.1" height="3.1" fill="#fff" stroke="#cf4242" stroke-width="1.15"/>
<path d="M43.0 467.3 L52.5 467.6 L62.7 468.0 L72.2 468.7 L81.0 469.5 L91.2 469.2 L99.9 467.7 L109.4 468.0 L118.9 468.7 L127.7 468.0 L133.5 470.2 L142.7 468.0 L152.9 466.5 L161.7 464.8 L170.4 462.9 L189.4 462.4 L199.6 461.6 L210.0 462.4 L230.5 462.8" stroke="#f0a445" stroke-width="1.0" fill="none" stroke-linejoin="round"/>
<path d="M52.50 465.76L54.25 468.91H50.75Z" fill="#fff" stroke="#f0a445" stroke-width="0.95"/>
<path d="M62.70 466.16L64.45 469.31H60.95Z" fill="#fff" stroke="#f0a445" stroke-width="0.95"/>
<path d="M72.20 466.86L73.95 470.01H70.45Z" fill="#fff" stroke="#f0a445" stroke-width="0.95"/>
<path d="M81.00 467.66L82.75 470.81H79.25Z" fill="#fff" stroke="#f0a445" stroke-width="0.95"/>
<path d="M91.20 467.36L92.95 470.51H89.45Z" fill="#fff" stroke="#f0a445" stroke-width="0.95"/>
<path d="M99.90 465.86L101.65 469.01H98.15Z" fill="#fff" stroke="#f0a445" stroke-width="0.95"/>
<path d="M109.40 466.16L111.15 469.31H107.65Z" fill="#fff" stroke="#f0a445" stroke-width="0.95"/>
<path d="M118.90 466.86L120.65 470.01H117.15Z" fill="#fff" stroke="#f0a445" stroke-width="0.95"/>
<path d="M127.70 466.16L129.45 469.31H125.95Z" fill="#fff" stroke="#f0a445" stroke-width="0.95"/>
<path d="M133.50 468.36L135.25 471.51H131.75Z" fill="#fff" stroke="#f0a445" stroke-width="0.95"/>
<path d="M142.70 466.16L144.45 469.31H140.95Z" fill="#fff" stroke="#f0a445" stroke-width="0.95"/>
<path d="M152.90 464.66L154.65 467.81H151.15Z" fill="#fff" stroke="#f0a445" stroke-width="0.95"/>
<path d="M161.70 462.96L163.45 466.11H159.95Z" fill="#fff" stroke="#f0a445" stroke-width="0.95"/>
<path d="M170.40 461.06L172.15 464.21H168.65Z" fill="#fff" stroke="#f0a445" stroke-width="0.95"/>
<path d="M189.40 460.56L191.15 463.71H187.65Z" fill="#fff" stroke="#f0a445" stroke-width="0.95"/>
<path d="M199.60 459.76L201.35 462.91H197.85Z" fill="#fff" stroke="#f0a445" stroke-width="0.95"/>
<path d="M221.12 460.78L222.88 463.93H219.38Z" fill="#fff" stroke="#f0a445" stroke-width="0.95"/>
<path d="M230.50 460.96L232.25 464.11H228.75Z" fill="#fff" stroke="#f0a445" stroke-width="0.95"/>
<path d="M43.0 463.3 L230.5 463.3" stroke="#9a4aa5" stroke-width="1.2" fill="none" stroke-linejoin="round"/>
<path d="M52.38 465.14L54.12 461.99H50.62Z" fill="#fff" stroke="#9a4aa5" stroke-width="0.95"/>
<path d="M61.75 465.14L63.50 461.99H60.00Z" fill="#fff" stroke="#9a4aa5" stroke-width="0.95"/>
<path d="M71.12 465.14L72.88 461.99H69.38Z" fill="#fff" stroke="#9a4aa5" stroke-width="0.95"/>
<path d="M80.50 465.14L82.25 461.99H78.75Z" fill="#fff" stroke="#9a4aa5" stroke-width="0.95"/>
<path d="M89.88 465.14L91.62 461.99H88.12Z" fill="#fff" stroke="#9a4aa5" stroke-width="0.95"/>
<path d="M99.25 465.14L101.00 461.99H97.50Z" fill="#fff" stroke="#9a4aa5" stroke-width="0.95"/>
<path d="M108.62 465.14L110.38 461.99H106.88Z" fill="#fff" stroke="#9a4aa5" stroke-width="0.95"/>
<path d="M118.00 465.14L119.75 461.99H116.25Z" fill="#fff" stroke="#9a4aa5" stroke-width="0.95"/>
<path d="M127.38 465.14L129.12 461.99H125.62Z" fill="#fff" stroke="#9a4aa5" stroke-width="0.95"/>
<path d="M136.75 465.14L138.50 461.99H135.00Z" fill="#fff" stroke="#9a4aa5" stroke-width="0.95"/>
<path d="M146.12 465.14L147.88 461.99H144.38Z" fill="#fff" stroke="#9a4aa5" stroke-width="0.95"/>
<path d="M155.50 465.14L157.25 461.99H153.75Z" fill="#fff" stroke="#9a4aa5" stroke-width="0.95"/>
<path d="M164.88 465.14L166.62 461.99H163.12Z" fill="#fff" stroke="#9a4aa5" stroke-width="0.95"/>
<path d="M174.25 465.14L176.00 461.99H172.50Z" fill="#fff" stroke="#9a4aa5" stroke-width="0.95"/>
<path d="M183.62 465.14L185.38 461.99H181.88Z" fill="#fff" stroke="#9a4aa5" stroke-width="0.95"/>
<path d="M193.00 465.14L194.75 461.99H191.25Z" fill="#fff" stroke="#9a4aa5" stroke-width="0.95"/>
<path d="M202.38 465.14L204.13 461.99H200.63Z" fill="#fff" stroke="#9a4aa5" stroke-width="0.95"/>
<path d="M211.75 465.14L213.50 461.99H210.00Z" fill="#fff" stroke="#9a4aa5" stroke-width="0.95"/>
<path d="M221.12 465.14L222.88 461.99H219.38Z" fill="#fff" stroke="#9a4aa5" stroke-width="0.95"/>
<path d="M230.50 465.14L232.25 461.99H228.75Z" fill="#fff" stroke="#9a4aa5" stroke-width="0.95"/>
<path d="M43.0 449.7 L47.4 445.4 L53.2 442.4 L60.5 441.7 L70.0 442.4 L78.8 445.8 L86.8 451.2 L93.4 459.2 L98.5 465.1 L105.0 471.6 L112.3 478.2 L121.8 476.8 L129.9 470.9 L135.4 463.3 L140.3 454.1 L146.3 447.3 L151.4 445.8 L155.8 446.8 L163.8 451.9 L171.1 457.0 L179.9 460.4 L188.7 462.4 L198.2 463.3 L230.5 463.6" stroke="#4848a2" stroke-width="1.0" fill="none" stroke-linejoin="round"/>
<path d="M49.15 445.40L46.00 443.74V447.06Z" fill="#fff" stroke="#4848a2" stroke-width="0.95"/>
<path d="M54.95 442.40L51.80 440.74V444.06Z" fill="#fff" stroke="#4848a2" stroke-width="0.95"/>
<path d="M62.25 441.70L59.10 440.04V443.36Z" fill="#fff" stroke="#4848a2" stroke-width="0.95"/>
<path d="M71.75 442.40L68.60 440.74V444.06Z" fill="#fff" stroke="#4848a2" stroke-width="0.95"/>
<path d="M80.55 445.80L77.40 444.14V447.46Z" fill="#fff" stroke="#4848a2" stroke-width="0.95"/>
<path d="M88.55 451.20L85.40 449.54V452.86Z" fill="#fff" stroke="#4848a2" stroke-width="0.95"/>
<path d="M95.15 459.20L92.00 457.54V460.86Z" fill="#fff" stroke="#4848a2" stroke-width="0.95"/>
<path d="M100.25 465.10L97.10 463.44V466.76Z" fill="#fff" stroke="#4848a2" stroke-width="0.95"/>
<path d="M106.75 471.60L103.60 469.94V473.26Z" fill="#fff" stroke="#4848a2" stroke-width="0.95"/>
<path d="M114.05 478.20L110.90 476.54V479.86Z" fill="#fff" stroke="#4848a2" stroke-width="0.95"/>
<path d="M123.55 476.80L120.40 475.14V478.46Z" fill="#fff" stroke="#4848a2" stroke-width="0.95"/>
<path d="M131.65 470.90L128.50 469.24V472.56Z" fill="#fff" stroke="#4848a2" stroke-width="0.95"/>
<path d="M137.15 463.30L134.00 461.64V464.96Z" fill="#fff" stroke="#4848a2" stroke-width="0.95"/>
<path d="M142.05 454.10L138.90 452.44V455.76Z" fill="#fff" stroke="#4848a2" stroke-width="0.95"/>
<path d="M148.05 447.30L144.90 445.64V448.96Z" fill="#fff" stroke="#4848a2" stroke-width="0.95"/>
<path d="M153.15 445.80L150.00 444.14V447.46Z" fill="#fff" stroke="#4848a2" stroke-width="0.95"/>
<path d="M157.55 446.80L154.40 445.14V448.46Z" fill="#fff" stroke="#4848a2" stroke-width="0.95"/>
<path d="M165.55 451.90L162.40 450.24V453.56Z" fill="#fff" stroke="#4848a2" stroke-width="0.95"/>
<path d="M172.85 457.00L169.70 455.34V458.66Z" fill="#fff" stroke="#4848a2" stroke-width="0.95"/>
<path d="M181.65 460.40L178.50 458.74V462.06Z" fill="#fff" stroke="#4848a2" stroke-width="0.95"/>
<path d="M190.45 462.40L187.30 460.74V464.06Z" fill="#fff" stroke="#4848a2" stroke-width="0.95"/>
<path d="M199.95 463.30L196.80 461.64V464.96Z" fill="#fff" stroke="#4848a2" stroke-width="0.95"/>
<path d="M204.13 463.34L200.98 461.68V465.00Z" fill="#fff" stroke="#4848a2" stroke-width="0.95"/>
<path d="M213.50 463.43L210.35 461.76V465.09Z" fill="#fff" stroke="#4848a2" stroke-width="0.95"/>
<path d="M222.88 463.51L219.72 461.85V465.18Z" fill="#fff" stroke="#4848a2" stroke-width="0.95"/>
<path d="M232.25 463.60L229.10 461.94V465.26Z" fill="#fff" stroke="#4848a2" stroke-width="0.95"/>
<path d="M43.0 466.5 L100.0 466.0 L150.0 464.8 L230.5 463.8" stroke="#222" stroke-width="1.0" fill="none" stroke-linejoin="round"/>
<circle cx="52.38" cy="466.42" r="1.35" fill="#fff" stroke="#222" stroke-width="0.95"/>
<circle cx="61.75" cy="466.34" r="1.35" fill="#fff" stroke="#222" stroke-width="0.95"/>
<circle cx="71.12" cy="466.25" r="1.35" fill="#fff" stroke="#222" stroke-width="0.95"/>
<circle cx="80.50" cy="466.17" r="1.35" fill="#fff" stroke="#222" stroke-width="0.95"/>
<circle cx="89.88" cy="466.09" r="1.35" fill="#fff" stroke="#222" stroke-width="0.95"/>
<circle cx="155.50" cy="464.73" r="1.35" fill="#fff" stroke="#222" stroke-width="0.95"/>
<circle cx="164.88" cy="464.62" r="1.35" fill="#fff" stroke="#222" stroke-width="0.95"/>
<circle cx="174.25" cy="464.50" r="1.35" fill="#fff" stroke="#222" stroke-width="0.95"/>
<circle cx="183.62" cy="464.38" r="1.35" fill="#fff" stroke="#222" stroke-width="0.95"/>
<circle cx="193.00" cy="464.27" r="1.35" fill="#fff" stroke="#222" stroke-width="0.95"/>
<circle cx="202.38" cy="464.15" r="1.35" fill="#fff" stroke="#222" stroke-width="0.95"/>
<circle cx="211.75" cy="464.03" r="1.35" fill="#fff" stroke="#222" stroke-width="0.95"/>
<circle cx="221.12" cy="463.92" r="1.35" fill="#fff" stroke="#222" stroke-width="0.95"/>
<circle cx="230.50" cy="463.80" r="1.35" fill="#fff" stroke="#222" stroke-width="0.95"/>
<path d="M43.0 446.8 L51.8 447.6 L62.0 447.6 L72.2 446.8 L81.0 446.1 L86.8 444.6 L95.6 442.4 L104.3 440.3 L110.2 438.8 L116.0 440.3 L124.8 439.5 L131.0 441.7 L136.8 446.1 L142.7 451.2 L149.2 454.1 L155.8 450.5 L158.0 454.9 L160.2 459.2 L166.0 462.2 L174.8 462.9 L230.5 463.6" stroke="#8cc8cf" stroke-width="1.3" fill="none" stroke-linejoin="round" stroke-dasharray="6 2 1.2 2 1.2 2"/>
<path d="M43.00 499.38h3.6M43.00 463.75h3.6M43.00 428.12h3.6M80.50 535.00v-3.8M118.00 535.00v-3.8M155.50 535.00v-3.8M193.00 535.00v-3.8" stroke="#4a4a4a" stroke-width="1" fill="none"/>
<path d="M43.00 527.88h1.8M43.00 520.75h1.8M43.00 513.62h1.8M43.00 506.50h1.8M43.00 492.25h1.8M43.00 485.12h1.8M43.00 478.00h1.8M43.00 470.88h1.8M43.00 456.62h1.8M43.00 449.50h1.8M43.00 442.38h1.8M43.00 435.25h1.8M43.00 421.00h1.8M43.00 413.88h1.8M43.00 406.75h1.8M43.00 399.62h1.8M52.38 535.00v-2.0M61.75 535.00v-2.0M71.12 535.00v-2.0M89.88 535.00v-2.0M99.25 535.00v-2.0M108.62 535.00v-2.0M127.38 535.00v-2.0M136.75 535.00v-2.0M146.12 535.00v-2.0M164.88 535.00v-2.0M174.25 535.00v-2.0M183.62 535.00v-2.0M202.38 535.00v-2.0M211.75 535.00v-2.0M221.12 535.00v-2.0" stroke="#7a7a7a" stroke-width="0.8" fill="none"/>
<rect x="43.00" y="392.50" width="187.50" height="142.50" stroke="#4a4a4a" stroke-width="1.2" fill="none"/>
<text transform="translate(40.60 539.00) scale(1 1.08)" text-anchor="end" font-size="11.2">−0.010</text>
<text transform="translate(40.60 503.38) scale(1 1.08)" text-anchor="end" font-size="11.2">−0.005</text>
<text transform="translate(40.60 467.75) scale(1 1.08)" text-anchor="end" font-size="11.2">0</text>
<text transform="translate(40.60 432.12) scale(1 1.08)" text-anchor="end" font-size="11.2">0.005</text>
<text transform="translate(40.60 396.50) scale(1 1.08)" text-anchor="end" font-size="11.2">0.010</text>
<text transform="translate(43.00 546.00) scale(1 1.08)" text-anchor="middle" font-size="11.2">0</text>
<text transform="translate(80.50 546.00) scale(1 1.08)" text-anchor="middle" font-size="11.2">0.2</text>
<text transform="translate(118.00 546.00) scale(1 1.08)" text-anchor="middle" font-size="11.2">0.4</text>
<text transform="translate(155.50 546.00) scale(1 1.08)" text-anchor="middle" font-size="11.2">0.6</text>
<text transform="translate(193.00 546.00) scale(1 1.08)" text-anchor="middle" font-size="11.2">0.8</text>
<text transform="translate(230.50 546.00) scale(1 1.08)" text-anchor="middle" font-size="11.2">1.0</text>
<text transform="translate(136.75 559.80) scale(1 1.08)" text-anchor="middle" font-size="11.8">Relative length</text>
<text transform="translate(8.5 463.75) rotate(-90) scale(1.08 1)" text-anchor="middle" font-size="11.2">Value of TKE budgets</text>
<text transform="translate(48.00 405.90) scale(1 1.08)" font-size="11.4">(g) L7</text>
<path d="M265.7 473.9 L300.0 474.0 L312.4 474.7 L319.0 482.0 L324.1 490.8 L326.0 498.1 L327.7 508.3 L329.9 518.1 L331.8 513.4 L333.9 506.8 L335.8 490.0 L337.2 474.0 L338.2 456.5 L340.6 425.8 L342.6 412.0 L344.5 402.9 L346.7 397.4 L348.9 394.8 L351.4 397.4 L354.3 408.3 L356.6 424.4 L358.1 441.2 L359.6 464.5 L361.0 476.0 L363.6 486.5 L368.9 483.1 L374.7 477.2 L384.2 475.8 L393.7 475.9 L403.2 476.2 L412.7 476.5 L422.2 475.8 L431.6 475.0 L441.0 474.5 L453.1 474.2" stroke="#62bb55" stroke-width="1.0" fill="none" stroke-linejoin="round"/>
<circle cx="300.00" cy="474.00" r="1.35" fill="#fff" stroke="#62bb55" stroke-width="0.95"/>
<circle cx="312.40" cy="474.70" r="1.35" fill="#fff" stroke="#62bb55" stroke-width="0.95"/>
<circle cx="319.00" cy="482.00" r="1.35" fill="#fff" stroke="#62bb55" stroke-width="0.95"/>
<circle cx="324.10" cy="490.80" r="1.35" fill="#fff" stroke="#62bb55" stroke-width="0.95"/>
<circle cx="326.00" cy="498.10" r="1.35" fill="#fff" stroke="#62bb55" stroke-width="0.95"/>
<circle cx="327.70" cy="508.30" r="1.35" fill="#fff" stroke="#62bb55" stroke-width="0.95"/>
<circle cx="329.90" cy="518.10" r="1.35" fill="#fff" stroke="#62bb55" stroke-width="0.95"/>
<circle cx="331.80" cy="513.40" r="1.35" fill="#fff" stroke="#62bb55" stroke-width="0.95"/>
<circle cx="333.90" cy="506.80" r="1.35" fill="#fff" stroke="#62bb55" stroke-width="0.95"/>
<circle cx="335.80" cy="490.00" r="1.35" fill="#fff" stroke="#62bb55" stroke-width="0.95"/>
<circle cx="337.20" cy="474.00" r="1.35" fill="#fff" stroke="#62bb55" stroke-width="0.95"/>
<circle cx="338.20" cy="456.50" r="1.35" fill="#fff" stroke="#62bb55" stroke-width="0.95"/>
<circle cx="340.60" cy="425.80" r="1.35" fill="#fff" stroke="#62bb55" stroke-width="0.95"/>
<circle cx="342.60" cy="412.00" r="1.35" fill="#fff" stroke="#62bb55" stroke-width="0.95"/>
<circle cx="344.50" cy="402.90" r="1.35" fill="#fff" stroke="#62bb55" stroke-width="0.95"/>
<circle cx="346.70" cy="397.40" r="1.35" fill="#fff" stroke="#62bb55" stroke-width="0.95"/>
<circle cx="348.90" cy="394.80" r="1.35" fill="#fff" stroke="#62bb55" stroke-width="0.95"/>
<circle cx="351.40" cy="397.40" r="1.35" fill="#fff" stroke="#62bb55" stroke-width="0.95"/>
<circle cx="354.30" cy="408.30" r="1.35" fill="#fff" stroke="#62bb55" stroke-width="0.95"/>
<circle cx="356.60" cy="424.40" r="1.35" fill="#fff" stroke="#62bb55" stroke-width="0.95"/>
<circle cx="358.10" cy="441.20" r="1.35" fill="#fff" stroke="#62bb55" stroke-width="0.95"/>
<circle cx="359.60" cy="464.50" r="1.35" fill="#fff" stroke="#62bb55" stroke-width="0.95"/>
<circle cx="361.00" cy="476.00" r="1.35" fill="#fff" stroke="#62bb55" stroke-width="0.95"/>
<circle cx="363.60" cy="486.50" r="1.35" fill="#fff" stroke="#62bb55" stroke-width="0.95"/>
<circle cx="368.90" cy="483.10" r="1.35" fill="#fff" stroke="#62bb55" stroke-width="0.95"/>
<circle cx="374.70" cy="477.20" r="1.35" fill="#fff" stroke="#62bb55" stroke-width="0.95"/>
<circle cx="384.20" cy="475.80" r="1.35" fill="#fff" stroke="#62bb55" stroke-width="0.95"/>
<circle cx="393.70" cy="475.90" r="1.35" fill="#fff" stroke="#62bb55" stroke-width="0.95"/>
<circle cx="403.20" cy="476.20" r="1.35" fill="#fff" stroke="#62bb55" stroke-width="0.95"/>
<circle cx="412.70" cy="476.50" r="1.35" fill="#fff" stroke="#62bb55" stroke-width="0.95"/>
<circle cx="422.20" cy="475.80" r="1.35" fill="#fff" stroke="#62bb55" stroke-width="0.95"/>
<circle cx="431.60" cy="475.00" r="1.35" fill="#fff" stroke="#62bb55" stroke-width="0.95"/>
<circle cx="441.00" cy="474.50" r="1.35" fill="#fff" stroke="#62bb55" stroke-width="0.95"/>
<circle cx="265.70" cy="473.90" r="1.35" fill="#fff" stroke="#62bb55" stroke-width="0.95"/>
<circle cx="275.07" cy="473.93" r="1.35" fill="#fff" stroke="#62bb55" stroke-width="0.95"/>
<circle cx="284.44" cy="473.95" r="1.35" fill="#fff" stroke="#62bb55" stroke-width="0.95"/>
<circle cx="293.81" cy="473.98" r="1.35" fill="#fff" stroke="#62bb55" stroke-width="0.95"/>
<circle cx="453.10" cy="474.20" r="1.35" fill="#fff" stroke="#62bb55" stroke-width="0.95"/>
<path d="M265.7 473.5 L322.0 473.5 L329.9 465.3 L331.4 458.4 L333.3 449.6 L338.0 441.9 L340.9 431.7 L344.5 420.7 L350.4 430.2 L352.6 437.5 L358.1 444.1 L362.0 456.1 L366.0 467.0 L374.7 468.9 L384.2 469.9 L393.7 470.7 L403.2 471.4 L412.7 472.1 L422.2 472.8 L431.6 473.6 L441.1 473.9 L453.1 473.5" stroke="#cf4242" stroke-width="1.0" fill="none" stroke-linejoin="round" stroke-dasharray="3 2.5"/>
<rect x="328.35" y="463.75" width="3.1" height="3.1" fill="#fff" stroke="#cf4242" stroke-width="1.15"/>
<rect x="329.85" y="456.85" width="3.1" height="3.1" fill="#fff" stroke="#cf4242" stroke-width="1.15"/>
<rect x="331.75" y="448.05" width="3.1" height="3.1" fill="#fff" stroke="#cf4242" stroke-width="1.15"/>
<rect x="336.45" y="440.35" width="3.1" height="3.1" fill="#fff" stroke="#cf4242" stroke-width="1.15"/>
<rect x="339.35" y="430.15" width="3.1" height="3.1" fill="#fff" stroke="#cf4242" stroke-width="1.15"/>
<rect x="342.95" y="419.15" width="3.1" height="3.1" fill="#fff" stroke="#cf4242" stroke-width="1.15"/>
<rect x="348.85" y="428.65" width="3.1" height="3.1" fill="#fff" stroke="#cf4242" stroke-width="1.15"/>
<rect x="351.05" y="435.95" width="3.1" height="3.1" fill="#fff" stroke="#cf4242" stroke-width="1.15"/>
<rect x="356.55" y="442.55" width="3.1" height="3.1" fill="#fff" stroke="#cf4242" stroke-width="1.15"/>
<rect x="360.45" y="454.55" width="3.1" height="3.1" fill="#fff" stroke="#cf4242" stroke-width="1.15"/>
<rect x="364.45" y="465.45" width="3.1" height="3.1" fill="#fff" stroke="#cf4242" stroke-width="1.15"/>
<rect x="373.15" y="467.35" width="3.1" height="3.1" fill="#fff" stroke="#cf4242" stroke-width="1.15"/>
<rect x="382.65" y="468.35" width="3.1" height="3.1" fill="#fff" stroke="#cf4242" stroke-width="1.15"/>
<rect x="392.15" y="469.15" width="3.1" height="3.1" fill="#fff" stroke="#cf4242" stroke-width="1.15"/>
<rect x="401.65" y="469.85" width="3.1" height="3.1" fill="#fff" stroke="#cf4242" stroke-width="1.15"/>
<rect x="411.15" y="470.55" width="3.1" height="3.1" fill="#fff" stroke="#cf4242" stroke-width="1.15"/>
<rect x="420.65" y="471.25" width="3.1" height="3.1" fill="#fff" stroke="#cf4242" stroke-width="1.15"/>
<rect x="430.05" y="472.05" width="3.1" height="3.1" fill="#fff" stroke="#cf4242" stroke-width="1.15"/>
<rect x="439.55" y="472.35" width="3.1" height="3.1" fill="#fff" stroke="#cf4242" stroke-width="1.15"/>
<rect x="264.15" y="471.95" width="3.1" height="3.1" fill="#fff" stroke="#cf4242" stroke-width="1.15"/>
<rect x="273.52" y="471.95" width="3.1" height="3.1" fill="#fff" stroke="#cf4242" stroke-width="1.15"/>
<rect x="282.89" y="471.95" width="3.1" height="3.1" fill="#fff" stroke="#cf4242" stroke-width="1.15"/>
<rect x="292.26" y="471.95" width="3.1" height="3.1" fill="#fff" stroke="#cf4242" stroke-width="1.15"/>
<rect x="301.63" y="471.95" width="3.1" height="3.1" fill="#fff" stroke="#cf4242" stroke-width="1.15"/>
<rect x="311.00" y="471.95" width="3.1" height="3.1" fill="#fff" stroke="#cf4242" stroke-width="1.15"/>
<rect x="451.55" y="471.95" width="3.1" height="3.1" fill="#fff" stroke="#cf4242" stroke-width="1.15"/>
<path d="M265.7 473.9 L300.0 474.0 L312.4 471.4 L319.7 466.0 L324.1 461.6 L327.0 457.9 L329.9 466.0 L331.4 470.3 L333.6 484.2 L335.0 495.9 L337.7 505.4 L340.9 501.7 L343.1 498.8 L346.0 484.9 L347.0 482.7 L350.4 484.9 L355.5 486.4 L357.7 482.0 L359.1 476.9 L362.0 468.9 L364.2 461.6 L367.2 463.0 L371.3 467.5 L376.9 471.4 L387.8 475.8 L397.3 476.5 L406.8 475.8 L416.3 475.0 L430.0 474.5 L453.1 474.2" stroke="#f0a445" stroke-width="1.0" fill="none" stroke-linejoin="round"/>
<path d="M300.00 472.16L301.75 475.31H298.25Z" fill="#fff" stroke="#f0a445" stroke-width="0.95"/>
<path d="M312.40 469.56L314.15 472.71H310.65Z" fill="#fff" stroke="#f0a445" stroke-width="0.95"/>
<path d="M319.70 464.16L321.45 467.31H317.95Z" fill="#fff" stroke="#f0a445" stroke-width="0.95"/>
<path d="M324.10 459.76L325.85 462.91H322.35Z" fill="#fff" stroke="#f0a445" stroke-width="0.95"/>
<path d="M327.00 456.06L328.75 459.21H325.25Z" fill="#fff" stroke="#f0a445" stroke-width="0.95"/>
<path d="M329.90 464.16L331.65 467.31H328.15Z" fill="#fff" stroke="#f0a445" stroke-width="0.95"/>
<path d="M331.40 468.46L333.15 471.61H329.65Z" fill="#fff" stroke="#f0a445" stroke-width="0.95"/>
<path d="M333.60 482.36L335.35 485.51H331.85Z" fill="#fff" stroke="#f0a445" stroke-width="0.95"/>
<path d="M335.00 494.06L336.75 497.21H333.25Z" fill="#fff" stroke="#f0a445" stroke-width="0.95"/>
<path d="M337.70 503.56L339.45 506.71H335.95Z" fill="#fff" stroke="#f0a445" stroke-width="0.95"/>
<path d="M340.90 499.86L342.65 503.01H339.15Z" fill="#fff" stroke="#f0a445" stroke-width="0.95"/>
<path d="M343.10 496.96L344.85 500.11H341.35Z" fill="#fff" stroke="#f0a445" stroke-width="0.95"/>
<path d="M346.00 483.06L347.75 486.21H344.25Z" fill="#fff" stroke="#f0a445" stroke-width="0.95"/>
<path d="M347.00 480.86L348.75 484.01H345.25Z" fill="#fff" stroke="#f0a445" stroke-width="0.95"/>
<path d="M350.40 483.06L352.15 486.21H348.65Z" fill="#fff" stroke="#f0a445" stroke-width="0.95"/>
<path d="M355.50 484.56L357.25 487.71H353.75Z" fill="#fff" stroke="#f0a445" stroke-width="0.95"/>
<path d="M357.70 480.16L359.45 483.31H355.95Z" fill="#fff" stroke="#f0a445" stroke-width="0.95"/>
<path d="M359.10 475.06L360.85 478.21H357.35Z" fill="#fff" stroke="#f0a445" stroke-width="0.95"/>
<path d="M362.00 467.06L363.75 470.21H360.25Z" fill="#fff" stroke="#f0a445" stroke-width="0.95"/>
<path d="M364.20 459.76L365.95 462.91H362.45Z" fill="#fff" stroke="#f0a445" stroke-width="0.95"/>
<path d="M367.20 461.16L368.95 464.31H365.45Z" fill="#fff" stroke="#f0a445" stroke-width="0.95"/>
<path d="M371.30 465.66L373.05 468.81H369.55Z" fill="#fff" stroke="#f0a445" stroke-width="0.95"/>
<path d="M376.90 469.56L378.65 472.71H375.15Z" fill="#fff" stroke="#f0a445" stroke-width="0.95"/>
<path d="M387.80 473.96L389.55 477.11H386.05Z" fill="#fff" stroke="#f0a445" stroke-width="0.95"/>
<path d="M397.30 474.66L399.05 477.81H395.55Z" fill="#fff" stroke="#f0a445" stroke-width="0.95"/>
<path d="M406.80 473.96L408.55 477.11H405.05Z" fill="#fff" stroke="#f0a445" stroke-width="0.95"/>
<path d="M416.30 473.16L418.05 476.31H414.55Z" fill="#fff" stroke="#f0a445" stroke-width="0.95"/>
<path d="M265.70 472.06L267.45 475.21H263.95Z" fill="#fff" stroke="#f0a445" stroke-width="0.95"/>
<path d="M275.07 472.09L276.82 475.24H273.32Z" fill="#fff" stroke="#f0a445" stroke-width="0.95"/>
<path d="M284.44 472.12L286.19 475.27H282.69Z" fill="#fff" stroke="#f0a445" stroke-width="0.95"/>
<path d="M293.81 472.14L295.56 475.29H292.06Z" fill="#fff" stroke="#f0a445" stroke-width="0.95"/>
<path d="M434.36 472.61L436.11 475.76H432.61Z" fill="#fff" stroke="#f0a445" stroke-width="0.95"/>
<path d="M443.73 472.48L445.48 475.63H441.98Z" fill="#fff" stroke="#f0a445" stroke-width="0.95"/>
<path d="M453.10 472.36L454.85 475.51H451.35Z" fill="#fff" stroke="#f0a445" stroke-width="0.95"/>
<path d="M265.7 473.4 L453.1 473.4" stroke="#9a4aa5" stroke-width="1.2" fill="none" stroke-linejoin="round"/>
<path d="M265.70 475.24L267.45 472.09H263.95Z" fill="#fff" stroke="#9a4aa5" stroke-width="0.95"/>
<path d="M275.07 475.24L276.82 472.09H273.32Z" fill="#fff" stroke="#9a4aa5" stroke-width="0.95"/>
<path d="M284.44 475.24L286.19 472.09H282.69Z" fill="#fff" stroke="#9a4aa5" stroke-width="0.95"/>
<path d="M293.81 475.24L295.56 472.09H292.06Z" fill="#fff" stroke="#9a4aa5" stroke-width="0.95"/>
<path d="M303.18 475.24L304.93 472.09H301.43Z" fill="#fff" stroke="#9a4aa5" stroke-width="0.95"/>
<path d="M312.55 475.24L314.30 472.09H310.80Z" fill="#fff" stroke="#9a4aa5" stroke-width="0.95"/>
<path d="M321.92 475.24L323.67 472.09H320.17Z" fill="#fff" stroke="#9a4aa5" stroke-width="0.95"/>
<path d="M331.29 475.24L333.04 472.09H329.54Z" fill="#fff" stroke="#9a4aa5" stroke-width="0.95"/>
<path d="M340.66 475.24L342.41 472.09H338.91Z" fill="#fff" stroke="#9a4aa5" stroke-width="0.95"/>
<path d="M350.03 475.24L351.78 472.09H348.28Z" fill="#fff" stroke="#9a4aa5" stroke-width="0.95"/>
<path d="M359.40 475.24L361.15 472.09H357.65Z" fill="#fff" stroke="#9a4aa5" stroke-width="0.95"/>
<path d="M368.77 475.24L370.52 472.09H367.02Z" fill="#fff" stroke="#9a4aa5" stroke-width="0.95"/>
<path d="M378.14 475.24L379.89 472.09H376.39Z" fill="#fff" stroke="#9a4aa5" stroke-width="0.95"/>
<path d="M387.51 475.24L389.26 472.09H385.76Z" fill="#fff" stroke="#9a4aa5" stroke-width="0.95"/>
<path d="M396.88 475.24L398.63 472.09H395.13Z" fill="#fff" stroke="#9a4aa5" stroke-width="0.95"/>
<path d="M406.25 475.24L408.00 472.09H404.50Z" fill="#fff" stroke="#9a4aa5" stroke-width="0.95"/>
<path d="M415.62 475.24L417.37 472.09H413.87Z" fill="#fff" stroke="#9a4aa5" stroke-width="0.95"/>
<path d="M424.99 475.24L426.74 472.09H423.24Z" fill="#fff" stroke="#9a4aa5" stroke-width="0.95"/>
<path d="M434.36 475.24L436.11 472.09H432.61Z" fill="#fff" stroke="#9a4aa5" stroke-width="0.95"/>
<path d="M443.73 475.24L445.48 472.09H441.98Z" fill="#fff" stroke="#9a4aa5" stroke-width="0.95"/>
<path d="M453.10 475.24L454.85 472.09H451.35Z" fill="#fff" stroke="#9a4aa5" stroke-width="0.95"/>
<path d="M265.7 473.9 L315.0 473.9 L321.2 470.4 L324.8 463.1 L327.4 450.7 L329.9 438.3 L330.9 428.8 L333.3 432.4 L335.3 441.9 L337.7 450.7 L338.7 463.8 L339.7 473.2 L340.9 484.2 L342.6 503.9 L344.5 522.2 L346.7 532.4 L348.9 532.4 L350.4 526.5 L352.6 514.9 L354.3 501.7 L356.2 491.5 L357.9 482.3 L360.8 466.3 L364.5 463.4 L368.1 466.3 L372.5 472.1 L382.0 475.8 L391.5 473.5 L401.0 469.9 L410.5 469.2 L420.0 470.7 L429.5 472.1 L438.9 473.3 L453.1 473.9" stroke="#4848a2" stroke-width="1.0" fill="none" stroke-linejoin="round"/>
<path d="M322.95 470.40L319.80 468.74V472.06Z" fill="#fff" stroke="#4848a2" stroke-width="0.95"/>
<path d="M326.55 463.10L323.40 461.44V464.76Z" fill="#fff" stroke="#4848a2" stroke-width="0.95"/>
<path d="M329.15 450.70L326.00 449.04V452.36Z" fill="#fff" stroke="#4848a2" stroke-width="0.95"/>
<path d="M331.65 438.30L328.50 436.64V439.96Z" fill="#fff" stroke="#4848a2" stroke-width="0.95"/>
<path d="M332.65 428.80L329.50 427.14V430.46Z" fill="#fff" stroke="#4848a2" stroke-width="0.95"/>
<path d="M335.05 432.40L331.90 430.74V434.06Z" fill="#fff" stroke="#4848a2" stroke-width="0.95"/>
<path d="M337.05 441.90L333.90 440.24V443.56Z" fill="#fff" stroke="#4848a2" stroke-width="0.95"/>
<path d="M339.45 450.70L336.30 449.04V452.36Z" fill="#fff" stroke="#4848a2" stroke-width="0.95"/>
<path d="M340.45 463.80L337.30 462.14V465.46Z" fill="#fff" stroke="#4848a2" stroke-width="0.95"/>
<path d="M341.45 473.20L338.30 471.54V474.86Z" fill="#fff" stroke="#4848a2" stroke-width="0.95"/>
<path d="M342.65 484.20L339.50 482.54V485.86Z" fill="#fff" stroke="#4848a2" stroke-width="0.95"/>
<path d="M344.35 503.90L341.20 502.24V505.56Z" fill="#fff" stroke="#4848a2" stroke-width="0.95"/>
<path d="M346.25 522.20L343.10 520.54V523.86Z" fill="#fff" stroke="#4848a2" stroke-width="0.95"/>
<path d="M348.45 532.40L345.30 530.74V534.06Z" fill="#fff" stroke="#4848a2" stroke-width="0.95"/>
<path d="M350.65 532.40L347.50 530.74V534.06Z" fill="#fff" stroke="#4848a2" stroke-width="0.95"/>
<path d="M352.15 526.50L349.00 524.84V528.16Z" fill="#fff" stroke="#4848a2" stroke-width="0.95"/>
<path d="M354.35 514.90L351.20 513.24V516.56Z" fill="#fff" stroke="#4848a2" stroke-width="0.95"/>
<path d="M356.05 501.70L352.90 500.04V503.36Z" fill="#fff" stroke="#4848a2" stroke-width="0.95"/>
<path d="M357.95 491.50L354.80 489.84V493.16Z" fill="#fff" stroke="#4848a2" stroke-width="0.95"/>
<path d="M359.65 482.30L356.50 480.64V483.96Z" fill="#fff" stroke="#4848a2" stroke-width="0.95"/>
<path d="M362.55 466.30L359.40 464.64V467.96Z" fill="#fff" stroke="#4848a2" stroke-width="0.95"/>
<path d="M366.25 463.40L363.10 461.74V465.06Z" fill="#fff" stroke="#4848a2" stroke-width="0.95"/>
<path d="M369.85 466.30L366.70 464.64V467.96Z" fill="#fff" stroke="#4848a2" stroke-width="0.95"/>
<path d="M374.25 472.10L371.10 470.44V473.76Z" fill="#fff" stroke="#4848a2" stroke-width="0.95"/>
<path d="M383.75 475.80L380.60 474.14V477.46Z" fill="#fff" stroke="#4848a2" stroke-width="0.95"/>
<path d="M393.25 473.50L390.10 471.84V475.16Z" fill="#fff" stroke="#4848a2" stroke-width="0.95"/>
<path d="M402.75 469.90L399.60 468.24V471.56Z" fill="#fff" stroke="#4848a2" stroke-width="0.95"/>
<path d="M412.25 469.20L409.10 467.54V470.86Z" fill="#fff" stroke="#4848a2" stroke-width="0.95"/>
<path d="M421.75 470.70L418.60 469.04V472.36Z" fill="#fff" stroke="#4848a2" stroke-width="0.95"/>
<path d="M431.25 472.10L428.10 470.44V473.76Z" fill="#fff" stroke="#4848a2" stroke-width="0.95"/>
<path d="M440.65 473.30L437.50 471.64V474.96Z" fill="#fff" stroke="#4848a2" stroke-width="0.95"/>
<path d="M267.45 473.90L264.30 472.24V475.56Z" fill="#fff" stroke="#4848a2" stroke-width="0.95"/>
<path d="M276.82 473.90L273.67 472.24V475.56Z" fill="#fff" stroke="#4848a2" stroke-width="0.95"/>
<path d="M286.19 473.90L283.04 472.24V475.56Z" fill="#fff" stroke="#4848a2" stroke-width="0.95"/>
<path d="M295.56 473.90L292.41 472.24V475.56Z" fill="#fff" stroke="#4848a2" stroke-width="0.95"/>
<path d="M304.93 473.90L301.78 472.24V475.56Z" fill="#fff" stroke="#4848a2" stroke-width="0.95"/>
<path d="M445.48 473.50L442.33 471.84V475.17Z" fill="#fff" stroke="#4848a2" stroke-width="0.95"/>
<path d="M454.85 473.90L451.70 472.24V475.56Z" fill="#fff" stroke="#4848a2" stroke-width="0.95"/>
<path d="M265.7 474.0 L321.9 474.0 L331.4 475.4 L340.9 476.2 L350.4 476.9 L359.9 475.4 L369.3 474.0 L453.1 474.0" stroke="#222" stroke-width="1.0" fill="none" stroke-linejoin="round"/>
<circle cx="331.40" cy="475.40" r="1.35" fill="#fff" stroke="#222" stroke-width="0.95"/>
<circle cx="340.90" cy="476.20" r="1.35" fill="#fff" stroke="#222" stroke-width="0.95"/>
<circle cx="350.40" cy="476.90" r="1.35" fill="#fff" stroke="#222" stroke-width="0.95"/>
<circle cx="359.90" cy="475.40" r="1.35" fill="#fff" stroke="#222" stroke-width="0.95"/>
<circle cx="369.30" cy="474.00" r="1.35" fill="#fff" stroke="#222" stroke-width="0.95"/>
<circle cx="265.70" cy="474.00" r="1.35" fill="#fff" stroke="#222" stroke-width="0.95"/>
<circle cx="275.07" cy="474.00" r="1.35" fill="#fff" stroke="#222" stroke-width="0.95"/>
<circle cx="284.44" cy="474.00" r="1.35" fill="#fff" stroke="#222" stroke-width="0.95"/>
<circle cx="293.81" cy="474.00" r="1.35" fill="#fff" stroke="#222" stroke-width="0.95"/>
<circle cx="303.18" cy="474.00" r="1.35" fill="#fff" stroke="#222" stroke-width="0.95"/>
<circle cx="312.55" cy="474.00" r="1.35" fill="#fff" stroke="#222" stroke-width="0.95"/>
<circle cx="378.14" cy="474.00" r="1.35" fill="#fff" stroke="#222" stroke-width="0.95"/>
<circle cx="387.51" cy="474.00" r="1.35" fill="#fff" stroke="#222" stroke-width="0.95"/>
<circle cx="396.88" cy="474.00" r="1.35" fill="#fff" stroke="#222" stroke-width="0.95"/>
<circle cx="406.25" cy="474.00" r="1.35" fill="#fff" stroke="#222" stroke-width="0.95"/>
<circle cx="415.62" cy="474.00" r="1.35" fill="#fff" stroke="#222" stroke-width="0.95"/>
<circle cx="424.99" cy="474.00" r="1.35" fill="#fff" stroke="#222" stroke-width="0.95"/>
<circle cx="434.36" cy="474.00" r="1.35" fill="#fff" stroke="#222" stroke-width="0.95"/>
<circle cx="443.73" cy="474.00" r="1.35" fill="#fff" stroke="#222" stroke-width="0.95"/>
<circle cx="453.10" cy="474.00" r="1.35" fill="#fff" stroke="#222" stroke-width="0.95"/>
<path d="M265.7 473.9 L320.0 473.5 L327.0 467.5 L330.7 457.2 L335.0 447.0 L339.4 430.2 L343.8 419.3 L346.7 416.4 L351.1 417.8 L355.5 420.7 L358.4 429.5 L361.3 439.7 L365.0 454.3 L369.6 463.4 L378.4 471.4 L388.6 472.8 L400.0 473.6 L453.1 473.8" stroke="#8cc8cf" stroke-width="1.3" fill="none" stroke-linejoin="round" stroke-dasharray="6 2 1.2 2 1.2 2"/>
<path d="M265.70 514.64h3.6M265.70 494.29h3.6M265.70 473.93h3.6M265.70 453.57h3.6M265.70 433.21h3.6M265.70 412.86h3.6M303.18 535.00v-3.8M340.66 535.00v-3.8M378.14 535.00v-3.8M415.62 535.00v-3.8" stroke="#4a4a4a" stroke-width="1" fill="none"/>
<path d="M265.70 530.93h1.8M265.70 526.86h1.8M265.70 522.79h1.8M265.70 518.71h1.8M265.70 510.57h1.8M265.70 506.50h1.8M265.70 502.43h1.8M265.70 498.36h1.8M265.70 490.21h1.8M265.70 486.14h1.8M265.70 482.07h1.8M265.70 478.00h1.8M265.70 469.86h1.8M265.70 465.79h1.8M265.70 461.71h1.8M265.70 457.64h1.8M265.70 449.50h1.8M265.70 445.43h1.8M265.70 441.36h1.8M265.70 437.29h1.8M265.70 429.14h1.8M265.70 425.07h1.8M265.70 421.00h1.8M265.70 416.93h1.8M265.70 408.79h1.8M265.70 404.71h1.8M265.70 400.64h1.8M265.70 396.57h1.8M275.07 535.00v-2.0M284.44 535.00v-2.0M293.81 535.00v-2.0M312.55 535.00v-2.0M321.92 535.00v-2.0M331.29 535.00v-2.0M350.03 535.00v-2.0M359.40 535.00v-2.0M368.77 535.00v-2.0M387.51 535.00v-2.0M396.88 535.00v-2.0M406.25 535.00v-2.0M424.99 535.00v-2.0M434.36 535.00v-2.0M443.73 535.00v-2.0" stroke="#7a7a7a" stroke-width="0.8" fill="none"/>
<rect x="265.70" y="392.50" width="187.40" height="142.50" stroke="#4a4a4a" stroke-width="1.2" fill="none"/>
<text transform="translate(263.30 539.00) scale(1 1.08)" text-anchor="end" font-size="11.2">−0.15</text>
<text transform="translate(263.30 518.64) scale(1 1.08)" text-anchor="end" font-size="11.2">−0.10</text>
<text transform="translate(263.30 498.29) scale(1 1.08)" text-anchor="end" font-size="11.2">−0.05</text>
<text transform="translate(263.30 477.93) scale(1 1.08)" text-anchor="end" font-size="11.2">0</text>
<text transform="translate(263.30 457.57) scale(1 1.08)" text-anchor="end" font-size="11.2">0.05</text>
<text transform="translate(263.30 437.21) scale(1 1.08)" text-anchor="end" font-size="11.2">0.10</text>
<text transform="translate(263.30 416.86) scale(1 1.08)" text-anchor="end" font-size="11.2">0.15</text>
<text transform="translate(263.30 396.50) scale(1 1.08)" text-anchor="end" font-size="11.2">0.20</text>
<text transform="translate(265.70 546.00) scale(1 1.08)" text-anchor="middle" font-size="11.2">0</text>
<text transform="translate(303.18 546.00) scale(1 1.08)" text-anchor="middle" font-size="11.2">0.2</text>
<text transform="translate(340.66 546.00) scale(1 1.08)" text-anchor="middle" font-size="11.2">0.4</text>
<text transform="translate(378.14 546.00) scale(1 1.08)" text-anchor="middle" font-size="11.2">0.6</text>
<text transform="translate(415.62 546.00) scale(1 1.08)" text-anchor="middle" font-size="11.2">0.8</text>
<text transform="translate(453.10 546.00) scale(1 1.08)" text-anchor="middle" font-size="11.2">1.0</text>
<text transform="translate(359.40 559.80) scale(1 1.08)" text-anchor="middle" font-size="11.8">Relative length</text>
<text transform="translate(270.70 405.90) scale(1 1.08)" font-size="11.4">(h) L8</text>
<path d="M489.5 478.0 L530.0 478.3 L540.0 479.7 L545.8 482.6 L551.7 488.5 L557.5 494.3 L561.2 487.7 L564.1 476.1 L566.3 462.8 L568.5 453.3 L570.7 443.5 L572.8 434.7 L574.7 427.0 L578.0 415.3 L583.8 408.0 L591.8 414.6 L596.2 424.1 L599.1 435.0 L602.9 448.2 L605.3 455.8 L608.8 467.4 L612.8 474.5 L620.4 480.3 L629.2 482.0 L639.1 483.4 L648.5 484.4 L658.4 484.1 L667.7 483.0 L677.4 481.8" stroke="#62bb55" stroke-width="1.0" fill="none" stroke-linejoin="round"/>
<circle cx="540.00" cy="479.70" r="1.35" fill="#fff" stroke="#62bb55" stroke-width="0.95"/>
<circle cx="545.80" cy="482.60" r="1.35" fill="#fff" stroke="#62bb55" stroke-width="0.95"/>
<circle cx="551.70" cy="488.50" r="1.35" fill="#fff" stroke="#62bb55" stroke-width="0.95"/>
<circle cx="557.50" cy="494.30" r="1.35" fill="#fff" stroke="#62bb55" stroke-width="0.95"/>
<circle cx="561.20" cy="487.70" r="1.35" fill="#fff" stroke="#62bb55" stroke-width="0.95"/>
<circle cx="564.10" cy="476.10" r="1.35" fill="#fff" stroke="#62bb55" stroke-width="0.95"/>
<circle cx="566.30" cy="462.80" r="1.35" fill="#fff" stroke="#62bb55" stroke-width="0.95"/>
<circle cx="568.50" cy="453.30" r="1.35" fill="#fff" stroke="#62bb55" stroke-width="0.95"/>
<circle cx="570.70" cy="443.50" r="1.35" fill="#fff" stroke="#62bb55" stroke-width="0.95"/>
<circle cx="572.80" cy="434.70" r="1.35" fill="#fff" stroke="#62bb55" stroke-width="0.95"/>
<circle cx="574.70" cy="427.00" r="1.35" fill="#fff" stroke="#62bb55" stroke-width="0.95"/>
<circle cx="578.00" cy="415.30" r="1.35" fill="#fff" stroke="#62bb55" stroke-width="0.95"/>
<circle cx="583.80" cy="408.00" r="1.35" fill="#fff" stroke="#62bb55" stroke-width="0.95"/>
<circle cx="591.80" cy="414.60" r="1.35" fill="#fff" stroke="#62bb55" stroke-width="0.95"/>
<circle cx="596.20" cy="424.10" r="1.35" fill="#fff" stroke="#62bb55" stroke-width="0.95"/>
<circle cx="599.10" cy="435.00" r="1.35" fill="#fff" stroke="#62bb55" stroke-width="0.95"/>
<circle cx="602.90" cy="448.20" r="1.35" fill="#fff" stroke="#62bb55" stroke-width="0.95"/>
<circle cx="605.30" cy="455.80" r="1.35" fill="#fff" stroke="#62bb55" stroke-width="0.95"/>
<circle cx="608.80" cy="467.40" r="1.35" fill="#fff" stroke="#62bb55" stroke-width="0.95"/>
<circle cx="612.80" cy="474.50" r="1.35" fill="#fff" stroke="#62bb55" stroke-width="0.95"/>
<circle cx="620.40" cy="480.30" r="1.35" fill="#fff" stroke="#62bb55" stroke-width="0.95"/>
<circle cx="629.20" cy="482.00" r="1.35" fill="#fff" stroke="#62bb55" stroke-width="0.95"/>
<circle cx="639.10" cy="483.40" r="1.35" fill="#fff" stroke="#62bb55" stroke-width="0.95"/>
<circle cx="648.50" cy="484.40" r="1.35" fill="#fff" stroke="#62bb55" stroke-width="0.95"/>
<circle cx="658.40" cy="484.10" r="1.35" fill="#fff" stroke="#62bb55" stroke-width="0.95"/>
<circle cx="667.70" cy="483.00" r="1.35" fill="#fff" stroke="#62bb55" stroke-width="0.95"/>
<circle cx="498.89" cy="478.07" r="1.35" fill="#fff" stroke="#62bb55" stroke-width="0.95"/>
<circle cx="508.29" cy="478.14" r="1.35" fill="#fff" stroke="#62bb55" stroke-width="0.95"/>
<circle cx="517.68" cy="478.21" r="1.35" fill="#fff" stroke="#62bb55" stroke-width="0.95"/>
<circle cx="677.40" cy="481.80" r="1.35" fill="#fff" stroke="#62bb55" stroke-width="0.95"/>
<path d="M489.5 477.8 L545.0 477.8 L555.3 476.6 L563.1 469.8 L571.4 465.4 L578.2 461.6 L586.0 457.2 L593.3 462.0 L601.5 458.7 L611.1 462.8 L618.1 466.3 L628.0 469.0 L637.4 471.8 L646.7 473.6 L656.1 475.0 L665.4 475.6 L674.7 476.8 L677.4 477.0" stroke="#cf4242" stroke-width="1.0" fill="none" stroke-linejoin="round" stroke-dasharray="3 2.5"/>
<rect x="553.75" y="475.05" width="3.1" height="3.1" fill="#fff" stroke="#cf4242" stroke-width="1.15"/>
<rect x="561.55" y="468.25" width="3.1" height="3.1" fill="#fff" stroke="#cf4242" stroke-width="1.15"/>
<rect x="569.85" y="463.85" width="3.1" height="3.1" fill="#fff" stroke="#cf4242" stroke-width="1.15"/>
<rect x="576.65" y="460.05" width="3.1" height="3.1" fill="#fff" stroke="#cf4242" stroke-width="1.15"/>
<rect x="584.45" y="455.65" width="3.1" height="3.1" fill="#fff" stroke="#cf4242" stroke-width="1.15"/>
<rect x="591.75" y="460.45" width="3.1" height="3.1" fill="#fff" stroke="#cf4242" stroke-width="1.15"/>
<rect x="599.95" y="457.15" width="3.1" height="3.1" fill="#fff" stroke="#cf4242" stroke-width="1.15"/>
<rect x="609.55" y="461.25" width="3.1" height="3.1" fill="#fff" stroke="#cf4242" stroke-width="1.15"/>
<rect x="616.55" y="464.75" width="3.1" height="3.1" fill="#fff" stroke="#cf4242" stroke-width="1.15"/>
<rect x="626.45" y="467.45" width="3.1" height="3.1" fill="#fff" stroke="#cf4242" stroke-width="1.15"/>
<rect x="635.85" y="470.25" width="3.1" height="3.1" fill="#fff" stroke="#cf4242" stroke-width="1.15"/>
<rect x="645.15" y="472.05" width="3.1" height="3.1" fill="#fff" stroke="#cf4242" stroke-width="1.15"/>
<rect x="654.55" y="473.45" width="3.1" height="3.1" fill="#fff" stroke="#cf4242" stroke-width="1.15"/>
<rect x="663.85" y="474.05" width="3.1" height="3.1" fill="#fff" stroke="#cf4242" stroke-width="1.15"/>
<rect x="673.15" y="475.25" width="3.1" height="3.1" fill="#fff" stroke="#cf4242" stroke-width="1.15"/>
<rect x="497.34" y="476.25" width="3.1" height="3.1" fill="#fff" stroke="#cf4242" stroke-width="1.15"/>
<rect x="506.74" y="476.25" width="3.1" height="3.1" fill="#fff" stroke="#cf4242" stroke-width="1.15"/>
<rect x="516.13" y="476.25" width="3.1" height="3.1" fill="#fff" stroke="#cf4242" stroke-width="1.15"/>
<rect x="525.53" y="476.25" width="3.1" height="3.1" fill="#fff" stroke="#cf4242" stroke-width="1.15"/>
<rect x="534.93" y="476.25" width="3.1" height="3.1" fill="#fff" stroke="#cf4242" stroke-width="1.15"/>
<path d="M489.5 478.0 L530.0 477.8 L540.0 474.6 L545.8 473.1 L554.6 475.3 L559.0 480.4 L561.9 485.5 L569.2 488.5 L573.6 484.8 L575.8 476.1 L577.7 484.8 L579.1 489.2 L581.6 473.9 L586.7 476.1 L589.6 473.9 L595.5 470.2 L602.5 469.8 L611.1 472.1 L618.1 475.0 L626.9 480.3 L635.6 483.2 L645.0 483.8 L654.3 482.0 L663.6 480.3 L673.0 479.1 L677.4 478.8" stroke="#f0a445" stroke-width="1.0" fill="none" stroke-linejoin="round"/>
<path d="M540.00 472.76L541.75 475.91H538.25Z" fill="#fff" stroke="#f0a445" stroke-width="0.95"/>
<path d="M545.80 471.26L547.55 474.41H544.05Z" fill="#fff" stroke="#f0a445" stroke-width="0.95"/>
<path d="M554.60 473.46L556.35 476.61H552.85Z" fill="#fff" stroke="#f0a445" stroke-width="0.95"/>
<path d="M559.00 478.56L560.75 481.71H557.25Z" fill="#fff" stroke="#f0a445" stroke-width="0.95"/>
<path d="M561.90 483.66L563.65 486.81H560.15Z" fill="#fff" stroke="#f0a445" stroke-width="0.95"/>
<path d="M569.20 486.66L570.95 489.81H567.45Z" fill="#fff" stroke="#f0a445" stroke-width="0.95"/>
<path d="M573.60 482.96L575.35 486.11H571.85Z" fill="#fff" stroke="#f0a445" stroke-width="0.95"/>
<path d="M575.80 474.26L577.55 477.41H574.05Z" fill="#fff" stroke="#f0a445" stroke-width="0.95"/>
<path d="M577.70 482.96L579.45 486.11H575.95Z" fill="#fff" stroke="#f0a445" stroke-width="0.95"/>
<path d="M579.10 487.36L580.85 490.51H577.35Z" fill="#fff" stroke="#f0a445" stroke-width="0.95"/>
<path d="M581.60 472.06L583.35 475.21H579.85Z" fill="#fff" stroke="#f0a445" stroke-width="0.95"/>
<path d="M586.70 474.26L588.45 477.41H584.95Z" fill="#fff" stroke="#f0a445" stroke-width="0.95"/>
<path d="M589.60 472.06L591.35 475.21H587.85Z" fill="#fff" stroke="#f0a445" stroke-width="0.95"/>
<path d="M595.50 468.36L597.25 471.51H593.75Z" fill="#fff" stroke="#f0a445" stroke-width="0.95"/>
<path d="M602.50 467.96L604.25 471.11H600.75Z" fill="#fff" stroke="#f0a445" stroke-width="0.95"/>
<path d="M611.10 470.26L612.85 473.41H609.35Z" fill="#fff" stroke="#f0a445" stroke-width="0.95"/>
<path d="M618.10 473.16L619.85 476.31H616.35Z" fill="#fff" stroke="#f0a445" stroke-width="0.95"/>
<path d="M626.90 478.46L628.65 481.61H625.15Z" fill="#fff" stroke="#f0a445" stroke-width="0.95"/>
<path d="M635.60 481.36L637.35 484.51H633.85Z" fill="#fff" stroke="#f0a445" stroke-width="0.95"/>
<path d="M645.00 481.96L646.75 485.11H643.25Z" fill="#fff" stroke="#f0a445" stroke-width="0.95"/>
<path d="M654.30 480.16L656.05 483.31H652.55Z" fill="#fff" stroke="#f0a445" stroke-width="0.95"/>
<path d="M663.60 478.46L665.35 481.61H661.85Z" fill="#fff" stroke="#f0a445" stroke-width="0.95"/>
<path d="M673.00 477.26L674.75 480.41H671.25Z" fill="#fff" stroke="#f0a445" stroke-width="0.95"/>
<path d="M498.89 476.12L500.64 479.27H497.14Z" fill="#fff" stroke="#f0a445" stroke-width="0.95"/>
<path d="M508.29 476.07L510.04 479.22H506.54Z" fill="#fff" stroke="#f0a445" stroke-width="0.95"/>
<path d="M517.68 476.02L519.43 479.17H515.93Z" fill="#fff" stroke="#f0a445" stroke-width="0.95"/>
<path d="M677.40 476.96L679.15 480.11H675.65Z" fill="#fff" stroke="#f0a445" stroke-width="0.95"/>
<path d="M489.5 477.5 L677.4 477.5" stroke="#9a4aa5" stroke-width="1.2" fill="none" stroke-linejoin="round"/>
<path d="M498.89 479.34L500.64 476.19H497.14Z" fill="#fff" stroke="#9a4aa5" stroke-width="0.95"/>
<path d="M508.29 479.34L510.04 476.19H506.54Z" fill="#fff" stroke="#9a4aa5" stroke-width="0.95"/>
<path d="M517.68 479.34L519.43 476.19H515.93Z" fill="#fff" stroke="#9a4aa5" stroke-width="0.95"/>
<path d="M527.08 479.34L528.83 476.19H525.33Z" fill="#fff" stroke="#9a4aa5" stroke-width="0.95"/>
<path d="M536.48 479.34L538.23 476.19H534.73Z" fill="#fff" stroke="#9a4aa5" stroke-width="0.95"/>
<path d="M545.87 479.34L547.62 476.19H544.12Z" fill="#fff" stroke="#9a4aa5" stroke-width="0.95"/>
<path d="M555.26 479.34L557.01 476.19H553.51Z" fill="#fff" stroke="#9a4aa5" stroke-width="0.95"/>
<path d="M564.66 479.34L566.41 476.19H562.91Z" fill="#fff" stroke="#9a4aa5" stroke-width="0.95"/>
<path d="M574.05 479.34L575.80 476.19H572.30Z" fill="#fff" stroke="#9a4aa5" stroke-width="0.95"/>
<path d="M583.45 479.34L585.20 476.19H581.70Z" fill="#fff" stroke="#9a4aa5" stroke-width="0.95"/>
<path d="M592.85 479.34L594.60 476.19H591.10Z" fill="#fff" stroke="#9a4aa5" stroke-width="0.95"/>
<path d="M602.24 479.34L603.99 476.19H600.49Z" fill="#fff" stroke="#9a4aa5" stroke-width="0.95"/>
<path d="M611.63 479.34L613.38 476.19H609.88Z" fill="#fff" stroke="#9a4aa5" stroke-width="0.95"/>
<path d="M621.03 479.34L622.78 476.19H619.28Z" fill="#fff" stroke="#9a4aa5" stroke-width="0.95"/>
<path d="M630.42 479.34L632.17 476.19H628.67Z" fill="#fff" stroke="#9a4aa5" stroke-width="0.95"/>
<path d="M639.82 479.34L641.57 476.19H638.07Z" fill="#fff" stroke="#9a4aa5" stroke-width="0.95"/>
<path d="M649.22 479.34L650.97 476.19H647.47Z" fill="#fff" stroke="#9a4aa5" stroke-width="0.95"/>
<path d="M658.61 479.34L660.36 476.19H656.86Z" fill="#fff" stroke="#9a4aa5" stroke-width="0.95"/>
<path d="M668.00 479.34L669.75 476.19H666.25Z" fill="#fff" stroke="#9a4aa5" stroke-width="0.95"/>
<path d="M677.40 479.34L679.15 476.19H675.65Z" fill="#fff" stroke="#9a4aa5" stroke-width="0.95"/>
<path d="M489.5 478.0 L535.0 478.0 L544.4 474.6 L551.0 467.2 L554.6 458.4 L559.0 448.9 L561.9 448.2 L565.5 454.0 L568.5 461.3 L570.7 465.8 L572.8 476.1 L576.5 488.5 L580.1 501.6 L583.8 508.2 L587.4 509.3 L591.1 507.4 L601.3 504.5 L605.3 496.1 L607.2 495.0 L611.1 487.6 L616.4 481.1 L624.5 476.2 L633.9 472.1 L642.6 468.6 L652.6 468.3 L661.9 470.4 L670.7 471.8 L677.4 473.9" stroke="#4848a2" stroke-width="1.0" fill="none" stroke-linejoin="round"/>
<path d="M546.15 474.60L543.00 472.94V476.26Z" fill="#fff" stroke="#4848a2" stroke-width="0.95"/>
<path d="M552.75 467.20L549.60 465.54V468.86Z" fill="#fff" stroke="#4848a2" stroke-width="0.95"/>
<path d="M556.35 458.40L553.20 456.74V460.06Z" fill="#fff" stroke="#4848a2" stroke-width="0.95"/>
<path d="M560.75 448.90L557.60 447.24V450.56Z" fill="#fff" stroke="#4848a2" stroke-width="0.95"/>
<path d="M563.65 448.20L560.50 446.54V449.86Z" fill="#fff" stroke="#4848a2" stroke-width="0.95"/>
<path d="M567.25 454.00L564.10 452.34V455.66Z" fill="#fff" stroke="#4848a2" stroke-width="0.95"/>
<path d="M570.25 461.30L567.10 459.64V462.96Z" fill="#fff" stroke="#4848a2" stroke-width="0.95"/>
<path d="M572.45 465.80L569.30 464.14V467.46Z" fill="#fff" stroke="#4848a2" stroke-width="0.95"/>
<path d="M574.55 476.10L571.40 474.44V477.76Z" fill="#fff" stroke="#4848a2" stroke-width="0.95"/>
<path d="M578.25 488.50L575.10 486.84V490.16Z" fill="#fff" stroke="#4848a2" stroke-width="0.95"/>
<path d="M581.85 501.60L578.70 499.94V503.26Z" fill="#fff" stroke="#4848a2" stroke-width="0.95"/>
<path d="M585.55 508.20L582.40 506.54V509.86Z" fill="#fff" stroke="#4848a2" stroke-width="0.95"/>
<path d="M589.15 509.30L586.00 507.64V510.96Z" fill="#fff" stroke="#4848a2" stroke-width="0.95"/>
<path d="M592.85 507.40L589.70 505.74V509.06Z" fill="#fff" stroke="#4848a2" stroke-width="0.95"/>
<path d="M603.05 504.50L599.90 502.84V506.16Z" fill="#fff" stroke="#4848a2" stroke-width="0.95"/>
<path d="M607.05 496.10L603.90 494.44V497.76Z" fill="#fff" stroke="#4848a2" stroke-width="0.95"/>
<path d="M612.85 487.60L609.70 485.94V489.26Z" fill="#fff" stroke="#4848a2" stroke-width="0.95"/>
<path d="M618.15 481.10L615.00 479.44V482.76Z" fill="#fff" stroke="#4848a2" stroke-width="0.95"/>
<path d="M626.25 476.20L623.10 474.54V477.86Z" fill="#fff" stroke="#4848a2" stroke-width="0.95"/>
<path d="M635.65 472.10L632.50 470.44V473.76Z" fill="#fff" stroke="#4848a2" stroke-width="0.95"/>
<path d="M644.35 468.60L641.20 466.94V470.26Z" fill="#fff" stroke="#4848a2" stroke-width="0.95"/>
<path d="M654.35 468.30L651.20 466.64V469.96Z" fill="#fff" stroke="#4848a2" stroke-width="0.95"/>
<path d="M663.65 470.40L660.50 468.74V472.06Z" fill="#fff" stroke="#4848a2" stroke-width="0.95"/>
<path d="M672.45 471.80L669.30 470.14V473.46Z" fill="#fff" stroke="#4848a2" stroke-width="0.95"/>
<path d="M500.64 478.00L497.50 476.34V479.66Z" fill="#fff" stroke="#4848a2" stroke-width="0.95"/>
<path d="M510.04 478.00L506.89 476.34V479.66Z" fill="#fff" stroke="#4848a2" stroke-width="0.95"/>
<path d="M519.43 478.00L516.28 476.34V479.66Z" fill="#fff" stroke="#4848a2" stroke-width="0.95"/>
<path d="M528.83 478.00L525.68 476.34V479.66Z" fill="#fff" stroke="#4848a2" stroke-width="0.95"/>
<path d="M679.15 473.90L676.00 472.24V475.56Z" fill="#fff" stroke="#4848a2" stroke-width="0.95"/>
<path d="M489.5 478.2 L677.4 478.3" stroke="#222" stroke-width="1.0" fill="none" stroke-linejoin="round"/>
<circle cx="498.89" cy="478.20" r="1.35" fill="#fff" stroke="#222" stroke-width="0.95"/>
<circle cx="508.29" cy="478.21" r="1.35" fill="#fff" stroke="#222" stroke-width="0.95"/>
<circle cx="517.68" cy="478.21" r="1.35" fill="#fff" stroke="#222" stroke-width="0.95"/>
<circle cx="527.08" cy="478.22" r="1.35" fill="#fff" stroke="#222" stroke-width="0.95"/>
<circle cx="536.48" cy="478.23" r="1.35" fill="#fff" stroke="#222" stroke-width="0.95"/>
<circle cx="545.87" cy="478.23" r="1.35" fill="#fff" stroke="#222" stroke-width="0.95"/>
<circle cx="555.26" cy="478.24" r="1.35" fill="#fff" stroke="#222" stroke-width="0.95"/>
<circle cx="564.66" cy="478.24" r="1.35" fill="#fff" stroke="#222" stroke-width="0.95"/>
<circle cx="574.05" cy="478.25" r="1.35" fill="#fff" stroke="#222" stroke-width="0.95"/>
<circle cx="583.45" cy="478.25" r="1.35" fill="#fff" stroke="#222" stroke-width="0.95"/>
<circle cx="592.85" cy="478.25" r="1.35" fill="#fff" stroke="#222" stroke-width="0.95"/>
<circle cx="602.24" cy="478.26" r="1.35" fill="#fff" stroke="#222" stroke-width="0.95"/>
<circle cx="611.63" cy="478.26" r="1.35" fill="#fff" stroke="#222" stroke-width="0.95"/>
<circle cx="621.03" cy="478.27" r="1.35" fill="#fff" stroke="#222" stroke-width="0.95"/>
<circle cx="630.42" cy="478.27" r="1.35" fill="#fff" stroke="#222" stroke-width="0.95"/>
<circle cx="639.82" cy="478.28" r="1.35" fill="#fff" stroke="#222" stroke-width="0.95"/>
<circle cx="649.22" cy="478.29" r="1.35" fill="#fff" stroke="#222" stroke-width="0.95"/>
<circle cx="658.61" cy="478.29" r="1.35" fill="#fff" stroke="#222" stroke-width="0.95"/>
<circle cx="668.00" cy="478.30" r="1.35" fill="#fff" stroke="#222" stroke-width="0.95"/>
<circle cx="677.40" cy="478.30" r="1.35" fill="#fff" stroke="#222" stroke-width="0.95"/>
<path d="M489.5 478.0 L535.0 477.8 L545.8 475.9 L553.9 468.6 L561.9 458.4 L569.2 443.8 L573.6 432.1 L577.2 421.9 L580.1 415.3 L582.3 419.0 L586.7 418.2 L591.1 421.9 L595.5 427.7 L599.9 438.0 L604.5 450.0 L610.5 459.9 L617.5 466.9 L625.7 471.5 L635.0 473.9 L644.4 475.6 L653.7 476.8 L663.1 477.4 L677.4 477.7" stroke="#8cc8cf" stroke-width="1.3" fill="none" stroke-linejoin="round" stroke-dasharray="6 2 1.2 2 1.2 2"/>
<path d="M489.50 506.50h3.6M489.50 478.00h3.6M489.50 449.50h3.6M489.50 421.00h3.6M527.08 535.00v-3.8M564.66 535.00v-3.8M602.24 535.00v-3.8M639.82 535.00v-3.8" stroke="#4a4a4a" stroke-width="1" fill="none"/>
<path d="M489.50 529.30h1.8M489.50 523.60h1.8M489.50 517.90h1.8M489.50 512.20h1.8M489.50 500.80h1.8M489.50 495.10h1.8M489.50 489.40h1.8M489.50 483.70h1.8M489.50 472.30h1.8M489.50 466.60h1.8M489.50 460.90h1.8M489.50 455.20h1.8M489.50 443.80h1.8M489.50 438.10h1.8M489.50 432.40h1.8M489.50 426.70h1.8M489.50 415.30h1.8M489.50 409.60h1.8M489.50 403.90h1.8M489.50 398.20h1.8M498.89 535.00v-2.0M508.29 535.00v-2.0M517.68 535.00v-2.0M536.48 535.00v-2.0M545.87 535.00v-2.0M555.26 535.00v-2.0M574.05 535.00v-2.0M583.45 535.00v-2.0M592.85 535.00v-2.0M611.63 535.00v-2.0M621.03 535.00v-2.0M630.42 535.00v-2.0M649.22 535.00v-2.0M658.61 535.00v-2.0M668.00 535.00v-2.0" stroke="#7a7a7a" stroke-width="0.8" fill="none"/>
<rect x="489.50" y="392.50" width="187.90" height="142.50" stroke="#4a4a4a" stroke-width="1.2" fill="none"/>
<text transform="translate(487.10 539.00) scale(1 1.08)" text-anchor="end" font-size="11.2">−0.04</text>
<text transform="translate(487.10 510.50) scale(1 1.08)" text-anchor="end" font-size="11.2">−0.02</text>
<text transform="translate(487.10 482.00) scale(1 1.08)" text-anchor="end" font-size="11.2">0</text>
<text transform="translate(487.10 453.50) scale(1 1.08)" text-anchor="end" font-size="11.2">0.02</text>
<text transform="translate(487.10 425.00) scale(1 1.08)" text-anchor="end" font-size="11.2">0.04</text>
<text transform="translate(487.10 396.50) scale(1 1.08)" text-anchor="end" font-size="11.2">0.06</text>
<text transform="translate(489.50 546.00) scale(1 1.08)" text-anchor="middle" font-size="11.2">0</text>
<text transform="translate(527.08 546.00) scale(1 1.08)" text-anchor="middle" font-size="11.2">0.2</text>
<text transform="translate(564.66 546.00) scale(1 1.08)" text-anchor="middle" font-size="11.2">0.4</text>
<text transform="translate(602.24 546.00) scale(1 1.08)" text-anchor="middle" font-size="11.2">0.6</text>
<text transform="translate(639.82 546.00) scale(1 1.08)" text-anchor="middle" font-size="11.2">0.8</text>
<text transform="translate(677.40 546.00) scale(1 1.08)" text-anchor="middle" font-size="11.2">1.0</text>
<text transform="translate(583.45 559.80) scale(1 1.08)" text-anchor="middle" font-size="11.8">Relative length</text>
<text transform="translate(494.50 405.90) scale(1 1.08)" font-size="11.4">(i) L9</text>
<path d="M43.0 666.2 L90.0 666.4 L100.2 669.3 L107.5 673.7 L114.1 667.2 L119.2 656.2 L122.8 642.3 L126.5 629.2 L130.6 618.7 L134.5 610.2 L141.8 605.8 L148.1 612.4 L151.3 619.7 L157.2 627.7 L161.1 636.2 L164.9 644.3 L168.6 652.4 L174.0 660.5 L180.5 666.4 L187.0 670.7 L196.7 674.0 L206.4 675.1 L216.1 674.0 L225.3 672.9 L230.5 671.6" stroke="#62bb55" stroke-width="1.0" fill="none" stroke-linejoin="round"/>
<circle cx="90.00" cy="666.40" r="1.35" fill="#fff" stroke="#62bb55" stroke-width="0.95"/>
<circle cx="100.20" cy="669.30" r="1.35" fill="#fff" stroke="#62bb55" stroke-width="0.95"/>
<circle cx="107.50" cy="673.70" r="1.35" fill="#fff" stroke="#62bb55" stroke-width="0.95"/>
<circle cx="114.10" cy="667.20" r="1.35" fill="#fff" stroke="#62bb55" stroke-width="0.95"/>
<circle cx="119.20" cy="656.20" r="1.35" fill="#fff" stroke="#62bb55" stroke-width="0.95"/>
<circle cx="122.80" cy="642.30" r="1.35" fill="#fff" stroke="#62bb55" stroke-width="0.95"/>
<circle cx="126.50" cy="629.20" r="1.35" fill="#fff" stroke="#62bb55" stroke-width="0.95"/>
<circle cx="130.60" cy="618.70" r="1.35" fill="#fff" stroke="#62bb55" stroke-width="0.95"/>
<circle cx="134.50" cy="610.20" r="1.35" fill="#fff" stroke="#62bb55" stroke-width="0.95"/>
<circle cx="141.80" cy="605.80" r="1.35" fill="#fff" stroke="#62bb55" stroke-width="0.95"/>
<circle cx="148.10" cy="612.40" r="1.35" fill="#fff" stroke="#62bb55" stroke-width="0.95"/>
<circle cx="151.30" cy="619.70" r="1.35" fill="#fff" stroke="#62bb55" stroke-width="0.95"/>
<circle cx="157.20" cy="627.70" r="1.35" fill="#fff" stroke="#62bb55" stroke-width="0.95"/>
<circle cx="161.10" cy="636.20" r="1.35" fill="#fff" stroke="#62bb55" stroke-width="0.95"/>
<circle cx="164.90" cy="644.30" r="1.35" fill="#fff" stroke="#62bb55" stroke-width="0.95"/>
<circle cx="168.60" cy="652.40" r="1.35" fill="#fff" stroke="#62bb55" stroke-width="0.95"/>
<circle cx="174.00" cy="660.50" r="1.35" fill="#fff" stroke="#62bb55" stroke-width="0.95"/>
<circle cx="180.50" cy="666.40" r="1.35" fill="#fff" stroke="#62bb55" stroke-width="0.95"/>
<circle cx="187.00" cy="670.70" r="1.35" fill="#fff" stroke="#62bb55" stroke-width="0.95"/>
<circle cx="196.70" cy="674.00" r="1.35" fill="#fff" stroke="#62bb55" stroke-width="0.95"/>
<circle cx="206.40" cy="675.10" r="1.35" fill="#fff" stroke="#62bb55" stroke-width="0.95"/>
<circle cx="216.10" cy="674.00" r="1.35" fill="#fff" stroke="#62bb55" stroke-width="0.95"/>
<circle cx="225.30" cy="672.90" r="1.35" fill="#fff" stroke="#62bb55" stroke-width="0.95"/>
<circle cx="52.38" cy="666.24" r="1.35" fill="#fff" stroke="#62bb55" stroke-width="0.95"/>
<circle cx="61.75" cy="666.28" r="1.35" fill="#fff" stroke="#62bb55" stroke-width="0.95"/>
<circle cx="71.12" cy="666.32" r="1.35" fill="#fff" stroke="#62bb55" stroke-width="0.95"/>
<circle cx="80.50" cy="666.36" r="1.35" fill="#fff" stroke="#62bb55" stroke-width="0.95"/>
<circle cx="230.50" cy="671.60" r="1.35" fill="#fff" stroke="#62bb55" stroke-width="0.95"/>
<path d="M43.0 665.8 L100.0 665.8 L109.7 664.2 L117.0 662.0 L126.8 660.6 L136.0 659.1 L145.5 656.6 L155.0 652.3 L164.5 648.9 L174.0 650.8 L183.2 654.5 L192.9 658.3 L202.1 660.5 L211.8 662.3 L221.0 663.4 L230.5 664.3" stroke="#cf4242" stroke-width="1.0" fill="none" stroke-linejoin="round" stroke-dasharray="3 2.5"/>
<rect x="108.15" y="662.65" width="3.1" height="3.1" fill="#fff" stroke="#cf4242" stroke-width="1.15"/>
<rect x="115.45" y="660.45" width="3.1" height="3.1" fill="#fff" stroke="#cf4242" stroke-width="1.15"/>
<rect x="125.25" y="659.05" width="3.1" height="3.1" fill="#fff" stroke="#cf4242" stroke-width="1.15"/>
<rect x="134.45" y="657.55" width="3.1" height="3.1" fill="#fff" stroke="#cf4242" stroke-width="1.15"/>
<rect x="143.95" y="655.05" width="3.1" height="3.1" fill="#fff" stroke="#cf4242" stroke-width="1.15"/>
<rect x="153.45" y="650.75" width="3.1" height="3.1" fill="#fff" stroke="#cf4242" stroke-width="1.15"/>
<rect x="162.95" y="647.35" width="3.1" height="3.1" fill="#fff" stroke="#cf4242" stroke-width="1.15"/>
<rect x="172.45" y="649.25" width="3.1" height="3.1" fill="#fff" stroke="#cf4242" stroke-width="1.15"/>
<rect x="181.65" y="652.95" width="3.1" height="3.1" fill="#fff" stroke="#cf4242" stroke-width="1.15"/>
<rect x="191.35" y="656.75" width="3.1" height="3.1" fill="#fff" stroke="#cf4242" stroke-width="1.15"/>
<rect x="200.55" y="658.95" width="3.1" height="3.1" fill="#fff" stroke="#cf4242" stroke-width="1.15"/>
<rect x="210.25" y="660.75" width="3.1" height="3.1" fill="#fff" stroke="#cf4242" stroke-width="1.15"/>
<rect x="219.45" y="661.85" width="3.1" height="3.1" fill="#fff" stroke="#cf4242" stroke-width="1.15"/>
<rect x="50.83" y="664.25" width="3.1" height="3.1" fill="#fff" stroke="#cf4242" stroke-width="1.15"/>
<rect x="60.20" y="664.25" width="3.1" height="3.1" fill="#fff" stroke="#cf4242" stroke-width="1.15"/>
<rect x="69.58" y="664.25" width="3.1" height="3.1" fill="#fff" stroke="#cf4242" stroke-width="1.15"/>
<rect x="78.95" y="664.25" width="3.1" height="3.1" fill="#fff" stroke="#cf4242" stroke-width="1.15"/>
<rect x="88.33" y="664.25" width="3.1" height="3.1" fill="#fff" stroke="#cf4242" stroke-width="1.15"/>
<rect x="228.95" y="662.75" width="3.1" height="3.1" fill="#fff" stroke="#cf4242" stroke-width="1.15"/>
<path d="M43.0 665.8 L90.0 665.0 L100.2 665.7 L109.0 668.6 L117.0 673.7 L125.0 671.5 L129.4 670.1 L133.8 664.2 L138.2 661.3 L141.8 659.1 L146.9 657.7 L149.9 655.5 L155.0 657.7 L160.1 659.2 L164.5 660.5 L172.4 662.1 L178.9 666.4 L188.6 670.7 L198.3 672.4 L208.0 671.3 L217.8 669.1 L226.9 667.5 L230.5 666.4" stroke="#f0a445" stroke-width="1.0" fill="none" stroke-linejoin="round"/>
<path d="M90.00 663.16L91.75 666.31H88.25Z" fill="#fff" stroke="#f0a445" stroke-width="0.95"/>
<path d="M100.20 663.86L101.95 667.01H98.45Z" fill="#fff" stroke="#f0a445" stroke-width="0.95"/>
<path d="M109.00 666.76L110.75 669.91H107.25Z" fill="#fff" stroke="#f0a445" stroke-width="0.95"/>
<path d="M117.00 671.86L118.75 675.01H115.25Z" fill="#fff" stroke="#f0a445" stroke-width="0.95"/>
<path d="M125.00 669.66L126.75 672.81H123.25Z" fill="#fff" stroke="#f0a445" stroke-width="0.95"/>
<path d="M129.40 668.26L131.15 671.41H127.65Z" fill="#fff" stroke="#f0a445" stroke-width="0.95"/>
<path d="M133.80 662.36L135.55 665.51H132.05Z" fill="#fff" stroke="#f0a445" stroke-width="0.95"/>
<path d="M138.20 659.46L139.95 662.61H136.45Z" fill="#fff" stroke="#f0a445" stroke-width="0.95"/>
<path d="M141.80 657.26L143.55 660.41H140.05Z" fill="#fff" stroke="#f0a445" stroke-width="0.95"/>
<path d="M146.90 655.86L148.65 659.01H145.15Z" fill="#fff" stroke="#f0a445" stroke-width="0.95"/>
<path d="M149.90 653.66L151.65 656.81H148.15Z" fill="#fff" stroke="#f0a445" stroke-width="0.95"/>
<path d="M155.00 655.86L156.75 659.01H153.25Z" fill="#fff" stroke="#f0a445" stroke-width="0.95"/>
<path d="M160.10 657.36L161.85 660.51H158.35Z" fill="#fff" stroke="#f0a445" stroke-width="0.95"/>
<path d="M164.50 658.66L166.25 661.81H162.75Z" fill="#fff" stroke="#f0a445" stroke-width="0.95"/>
<path d="M172.40 660.26L174.15 663.41H170.65Z" fill="#fff" stroke="#f0a445" stroke-width="0.95"/>
<path d="M178.90 664.56L180.65 667.71H177.15Z" fill="#fff" stroke="#f0a445" stroke-width="0.95"/>
<path d="M188.60 668.86L190.35 672.01H186.85Z" fill="#fff" stroke="#f0a445" stroke-width="0.95"/>
<path d="M198.30 670.56L200.05 673.71H196.55Z" fill="#fff" stroke="#f0a445" stroke-width="0.95"/>
<path d="M208.00 669.46L209.75 672.61H206.25Z" fill="#fff" stroke="#f0a445" stroke-width="0.95"/>
<path d="M217.80 667.26L219.55 670.41H216.05Z" fill="#fff" stroke="#f0a445" stroke-width="0.95"/>
<path d="M226.90 665.66L228.65 668.81H225.15Z" fill="#fff" stroke="#f0a445" stroke-width="0.95"/>
<path d="M52.38 663.80L54.12 666.95H50.62Z" fill="#fff" stroke="#f0a445" stroke-width="0.95"/>
<path d="M61.75 663.64L63.50 666.79H60.00Z" fill="#fff" stroke="#f0a445" stroke-width="0.95"/>
<path d="M71.12 663.48L72.88 666.63H69.38Z" fill="#fff" stroke="#f0a445" stroke-width="0.95"/>
<path d="M80.50 663.32L82.25 666.47H78.75Z" fill="#fff" stroke="#f0a445" stroke-width="0.95"/>
<path d="M43.0 665.7 L230.5 665.7" stroke="#9a4aa5" stroke-width="1.2" fill="none" stroke-linejoin="round"/>
<path d="M52.38 667.54L54.12 664.39H50.62Z" fill="#fff" stroke="#9a4aa5" stroke-width="0.95"/>
<path d="M61.75 667.54L63.50 664.39H60.00Z" fill="#fff" stroke="#9a4aa5" stroke-width="0.95"/>
<path d="M71.12 667.54L72.88 664.39H69.38Z" fill="#fff" stroke="#9a4aa5" stroke-width="0.95"/>
<path d="M80.50 667.54L82.25 664.39H78.75Z" fill="#fff" stroke="#9a4aa5" stroke-width="0.95"/>
<path d="M89.88 667.54L91.62 664.39H88.12Z" fill="#fff" stroke="#9a4aa5" stroke-width="0.95"/>
<path d="M99.25 667.54L101.00 664.39H97.50Z" fill="#fff" stroke="#9a4aa5" stroke-width="0.95"/>
<path d="M108.62 667.54L110.38 664.39H106.88Z" fill="#fff" stroke="#9a4aa5" stroke-width="0.95"/>
<path d="M118.00 667.54L119.75 664.39H116.25Z" fill="#fff" stroke="#9a4aa5" stroke-width="0.95"/>
<path d="M127.38 667.54L129.12 664.39H125.62Z" fill="#fff" stroke="#9a4aa5" stroke-width="0.95"/>
<path d="M136.75 667.54L138.50 664.39H135.00Z" fill="#fff" stroke="#9a4aa5" stroke-width="0.95"/>
<path d="M146.12 667.54L147.88 664.39H144.38Z" fill="#fff" stroke="#9a4aa5" stroke-width="0.95"/>
<path d="M155.50 667.54L157.25 664.39H153.75Z" fill="#fff" stroke="#9a4aa5" stroke-width="0.95"/>
<path d="M164.88 667.54L166.62 664.39H163.12Z" fill="#fff" stroke="#9a4aa5" stroke-width="0.95"/>
<path d="M174.25 667.54L176.00 664.39H172.50Z" fill="#fff" stroke="#9a4aa5" stroke-width="0.95"/>
<path d="M183.62 667.54L185.38 664.39H181.88Z" fill="#fff" stroke="#9a4aa5" stroke-width="0.95"/>
<path d="M193.00 667.54L194.75 664.39H191.25Z" fill="#fff" stroke="#9a4aa5" stroke-width="0.95"/>
<path d="M202.38 667.54L204.13 664.39H200.63Z" fill="#fff" stroke="#9a4aa5" stroke-width="0.95"/>
<path d="M211.75 667.54L213.50 664.39H210.00Z" fill="#fff" stroke="#9a4aa5" stroke-width="0.95"/>
<path d="M221.12 667.54L222.88 664.39H219.38Z" fill="#fff" stroke="#9a4aa5" stroke-width="0.95"/>
<path d="M230.50 667.54L232.25 664.39H228.75Z" fill="#fff" stroke="#9a4aa5" stroke-width="0.95"/>
<path d="M43.0 666.2 L90.0 666.4 L99.5 662.8 L105.3 655.5 L111.2 647.0 L114.5 646.4 L119.2 651.1 L123.6 658.4 L128.7 665.7 L130.9 671.5 L134.5 679.6 L139.6 686.9 L147.7 690.5 L156.4 692.7 L164.4 687.5 L170.3 680.4 L176.2 673.4 L181.6 667.5 L187.5 660.2 L194.0 654.5 L203.7 652.4 L213.4 654.0 L222.6 656.7 L230.5 659.4" stroke="#4848a2" stroke-width="1.0" fill="none" stroke-linejoin="round"/>
<path d="M91.75 666.40L88.60 664.74V668.06Z" fill="#fff" stroke="#4848a2" stroke-width="0.95"/>
<path d="M101.25 662.80L98.10 661.14V664.46Z" fill="#fff" stroke="#4848a2" stroke-width="0.95"/>
<path d="M107.05 655.50L103.90 653.84V657.16Z" fill="#fff" stroke="#4848a2" stroke-width="0.95"/>
<path d="M112.95 647.00L109.80 645.34V648.66Z" fill="#fff" stroke="#4848a2" stroke-width="0.95"/>
<path d="M116.25 646.40L113.10 644.74V648.06Z" fill="#fff" stroke="#4848a2" stroke-width="0.95"/>
<path d="M120.95 651.10L117.80 649.44V652.76Z" fill="#fff" stroke="#4848a2" stroke-width="0.95"/>
<path d="M125.35 658.40L122.20 656.74V660.06Z" fill="#fff" stroke="#4848a2" stroke-width="0.95"/>
<path d="M130.45 665.70L127.30 664.04V667.36Z" fill="#fff" stroke="#4848a2" stroke-width="0.95"/>
<path d="M132.65 671.50L129.50 669.84V673.16Z" fill="#fff" stroke="#4848a2" stroke-width="0.95"/>
<path d="M136.25 679.60L133.10 677.94V681.26Z" fill="#fff" stroke="#4848a2" stroke-width="0.95"/>
<path d="M141.35 686.90L138.20 685.24V688.56Z" fill="#fff" stroke="#4848a2" stroke-width="0.95"/>
<path d="M149.45 690.50L146.30 688.84V692.16Z" fill="#fff" stroke="#4848a2" stroke-width="0.95"/>
<path d="M158.15 692.70L155.00 691.04V694.36Z" fill="#fff" stroke="#4848a2" stroke-width="0.95"/>
<path d="M166.15 687.50L163.00 685.84V689.16Z" fill="#fff" stroke="#4848a2" stroke-width="0.95"/>
<path d="M172.05 680.40L168.90 678.74V682.06Z" fill="#fff" stroke="#4848a2" stroke-width="0.95"/>
<path d="M177.95 673.40L174.80 671.74V675.06Z" fill="#fff" stroke="#4848a2" stroke-width="0.95"/>
<path d="M183.35 667.50L180.20 665.84V669.16Z" fill="#fff" stroke="#4848a2" stroke-width="0.95"/>
<path d="M189.25 660.20L186.10 658.54V661.86Z" fill="#fff" stroke="#4848a2" stroke-width="0.95"/>
<path d="M195.75 654.50L192.60 652.84V656.16Z" fill="#fff" stroke="#4848a2" stroke-width="0.95"/>
<path d="M205.45 652.40L202.30 650.74V654.06Z" fill="#fff" stroke="#4848a2" stroke-width="0.95"/>
<path d="M215.15 654.00L212.00 652.34V655.66Z" fill="#fff" stroke="#4848a2" stroke-width="0.95"/>
<path d="M224.35 656.70L221.20 655.04V658.36Z" fill="#fff" stroke="#4848a2" stroke-width="0.95"/>
<path d="M54.12 666.24L50.98 664.58V667.90Z" fill="#fff" stroke="#4848a2" stroke-width="0.95"/>
<path d="M63.50 666.28L60.35 664.62V667.94Z" fill="#fff" stroke="#4848a2" stroke-width="0.95"/>
<path d="M72.88 666.32L69.72 664.66V667.98Z" fill="#fff" stroke="#4848a2" stroke-width="0.95"/>
<path d="M82.25 666.36L79.10 664.70V668.02Z" fill="#fff" stroke="#4848a2" stroke-width="0.95"/>
<path d="M232.25 659.40L229.10 657.74V661.06Z" fill="#fff" stroke="#4848a2" stroke-width="0.95"/>
<path d="M43.0 666.4 L230.5 666.4" stroke="#222" stroke-width="1.0" fill="none" stroke-linejoin="round"/>
<circle cx="52.38" cy="666.40" r="1.35" fill="#fff" stroke="#222" stroke-width="0.95"/>
<circle cx="61.75" cy="666.40" r="1.35" fill="#fff" stroke="#222" stroke-width="0.95"/>
<circle cx="71.12" cy="666.40" r="1.35" fill="#fff" stroke="#222" stroke-width="0.95"/>
<circle cx="80.50" cy="666.40" r="1.35" fill="#fff" stroke="#222" stroke-width="0.95"/>
<circle cx="89.88" cy="666.40" r="1.35" fill="#fff" stroke="#222" stroke-width="0.95"/>
<circle cx="99.25" cy="666.40" r="1.35" fill="#fff" stroke="#222" stroke-width="0.95"/>
<circle cx="108.62" cy="666.40" r="1.35" fill="#fff" stroke="#222" stroke-width="0.95"/>
<circle cx="118.00" cy="666.40" r="1.35" fill="#fff" stroke="#222" stroke-width="0.95"/>
<circle cx="127.38" cy="666.40" r="1.35" fill="#fff" stroke="#222" stroke-width="0.95"/>
<circle cx="136.75" cy="666.40" r="1.35" fill="#fff" stroke="#222" stroke-width="0.95"/>
<circle cx="146.12" cy="666.40" r="1.35" fill="#fff" stroke="#222" stroke-width="0.95"/>
<circle cx="155.50" cy="666.40" r="1.35" fill="#fff" stroke="#222" stroke-width="0.95"/>
<circle cx="164.88" cy="666.40" r="1.35" fill="#fff" stroke="#222" stroke-width="0.95"/>
<circle cx="174.25" cy="666.40" r="1.35" fill="#fff" stroke="#222" stroke-width="0.95"/>
<circle cx="183.62" cy="666.40" r="1.35" fill="#fff" stroke="#222" stroke-width="0.95"/>
<circle cx="193.00" cy="666.40" r="1.35" fill="#fff" stroke="#222" stroke-width="0.95"/>
<circle cx="202.38" cy="666.40" r="1.35" fill="#fff" stroke="#222" stroke-width="0.95"/>
<circle cx="211.75" cy="666.40" r="1.35" fill="#fff" stroke="#222" stroke-width="0.95"/>
<circle cx="221.12" cy="666.40" r="1.35" fill="#fff" stroke="#222" stroke-width="0.95"/>
<circle cx="230.50" cy="666.40" r="1.35" fill="#fff" stroke="#222" stroke-width="0.95"/>
<path d="M43.0 666.2 L90.0 666.4 L100.2 664.2 L109.0 656.9 L116.3 648.2 L122.1 639.4 L128.0 627.7 L132.3 619.0 L138.2 613.9 L144.0 616.1 L148.4 621.9 L154.2 630.7 L159.3 636.5 L165.4 647.0 L171.9 652.9 L178.4 657.2 L185.9 660.5 L194.5 662.6 L203.2 663.7 L211.8 664.3 L230.5 664.8" stroke="#8cc8cf" stroke-width="1.3" fill="none" stroke-linejoin="round" stroke-dasharray="6 2 1.2 2 1.2 2"/>
<path d="M43.00 666.20h3.6M43.00 618.40h3.6M80.50 714.00v-3.8M118.00 714.00v-3.8M155.50 714.00v-3.8M193.00 714.00v-3.8" stroke="#4a4a4a" stroke-width="1" fill="none"/>
<path d="M43.00 704.44h1.8M43.00 694.88h1.8M43.00 685.32h1.8M43.00 675.76h1.8M43.00 656.64h1.8M43.00 647.08h1.8M43.00 637.52h1.8M43.00 627.96h1.8M43.00 608.84h1.8M43.00 599.28h1.8M43.00 589.72h1.8M43.00 580.16h1.8M52.38 714.00v-2.0M61.75 714.00v-2.0M71.12 714.00v-2.0M89.88 714.00v-2.0M99.25 714.00v-2.0M108.62 714.00v-2.0M127.38 714.00v-2.0M136.75 714.00v-2.0M146.12 714.00v-2.0M164.88 714.00v-2.0M174.25 714.00v-2.0M183.62 714.00v-2.0M202.38 714.00v-2.0M211.75 714.00v-2.0M221.12 714.00v-2.0" stroke="#7a7a7a" stroke-width="0.8" fill="none"/>
<rect x="43.00" y="570.60" width="187.50" height="143.40" stroke="#4a4a4a" stroke-width="1.2" fill="none"/>
<text transform="translate(40.60 718.00) scale(1 1.08)" text-anchor="end" font-size="11.2">−0.02</text>
<text transform="translate(40.60 670.20) scale(1 1.08)" text-anchor="end" font-size="11.2">0</text>
<text transform="translate(40.60 622.40) scale(1 1.08)" text-anchor="end" font-size="11.2">0.02</text>
<text transform="translate(40.60 574.60) scale(1 1.08)" text-anchor="end" font-size="11.2">0.04</text>
<text transform="translate(43.00 725.00) scale(1 1.08)" text-anchor="middle" font-size="11.2">0</text>
<text transform="translate(80.50 725.00) scale(1 1.08)" text-anchor="middle" font-size="11.2">0.2</text>
<text transform="translate(118.00 725.00) scale(1 1.08)" text-anchor="middle" font-size="11.2">0.4</text>
<text transform="translate(155.50 725.00) scale(1 1.08)" text-anchor="middle" font-size="11.2">0.6</text>
<text transform="translate(193.00 725.00) scale(1 1.08)" text-anchor="middle" font-size="11.2">0.8</text>
<text transform="translate(230.50 725.00) scale(1 1.08)" text-anchor="middle" font-size="11.2">1.0</text>
<text transform="translate(136.75 738.00) scale(1 1.08)" text-anchor="middle" font-size="11.8">Relative length</text>
<text transform="translate(8.5 642.30) rotate(-90) scale(1.08 1)" text-anchor="middle" font-size="11.2">Value of TKE budgets</text>
<text transform="translate(48.00 584.00) scale(1 1.08)" font-size="11.4">(j) L10</text>
<path d="M265.7 673.0 L271.6 674.5 L281.1 676.2 L289.8 678.1 L299.3 679.1 L308.8 675.2 L315.4 669.3 L322.7 663.5 L327.8 655.5 L333.6 646.7 L339.2 638.0 L344.6 629.2 L350.4 621.2 L356.2 613.4 L360.8 609.5 L366.0 610.5 L371.1 616.8 L375.4 623.4 L379.1 632.1 L382.7 641.6 L386.8 650.4 L390.0 658.4 L393.2 665.0 L397.3 666.4 L453.1 666.3" stroke="#62bb55" stroke-width="1.0" fill="none" stroke-linejoin="round"/>
<circle cx="271.60" cy="674.50" r="1.35" fill="#fff" stroke="#62bb55" stroke-width="0.95"/>
<circle cx="281.10" cy="676.20" r="1.35" fill="#fff" stroke="#62bb55" stroke-width="0.95"/>
<circle cx="289.80" cy="678.10" r="1.35" fill="#fff" stroke="#62bb55" stroke-width="0.95"/>
<circle cx="299.30" cy="679.10" r="1.35" fill="#fff" stroke="#62bb55" stroke-width="0.95"/>
<circle cx="308.80" cy="675.20" r="1.35" fill="#fff" stroke="#62bb55" stroke-width="0.95"/>
<circle cx="315.40" cy="669.30" r="1.35" fill="#fff" stroke="#62bb55" stroke-width="0.95"/>
<circle cx="322.70" cy="663.50" r="1.35" fill="#fff" stroke="#62bb55" stroke-width="0.95"/>
<circle cx="327.80" cy="655.50" r="1.35" fill="#fff" stroke="#62bb55" stroke-width="0.95"/>
<circle cx="333.60" cy="646.70" r="1.35" fill="#fff" stroke="#62bb55" stroke-width="0.95"/>
<circle cx="339.20" cy="638.00" r="1.35" fill="#fff" stroke="#62bb55" stroke-width="0.95"/>
<circle cx="344.60" cy="629.20" r="1.35" fill="#fff" stroke="#62bb55" stroke-width="0.95"/>
<circle cx="350.40" cy="621.20" r="1.35" fill="#fff" stroke="#62bb55" stroke-width="0.95"/>
<circle cx="356.20" cy="613.40" r="1.35" fill="#fff" stroke="#62bb55" stroke-width="0.95"/>
<circle cx="360.80" cy="609.50" r="1.35" fill="#fff" stroke="#62bb55" stroke-width="0.95"/>
<circle cx="366.00" cy="610.50" r="1.35" fill="#fff" stroke="#62bb55" stroke-width="0.95"/>
<circle cx="371.10" cy="616.80" r="1.35" fill="#fff" stroke="#62bb55" stroke-width="0.95"/>
<circle cx="375.40" cy="623.40" r="1.35" fill="#fff" stroke="#62bb55" stroke-width="0.95"/>
<circle cx="379.10" cy="632.10" r="1.35" fill="#fff" stroke="#62bb55" stroke-width="0.95"/>
<circle cx="382.70" cy="641.60" r="1.35" fill="#fff" stroke="#62bb55" stroke-width="0.95"/>
<circle cx="386.80" cy="650.40" r="1.35" fill="#fff" stroke="#62bb55" stroke-width="0.95"/>
<circle cx="390.00" cy="658.40" r="1.35" fill="#fff" stroke="#62bb55" stroke-width="0.95"/>
<circle cx="393.20" cy="665.00" r="1.35" fill="#fff" stroke="#62bb55" stroke-width="0.95"/>
<circle cx="265.70" cy="673.00" r="1.35" fill="#fff" stroke="#62bb55" stroke-width="0.95"/>
<circle cx="406.25" cy="666.38" r="1.35" fill="#fff" stroke="#62bb55" stroke-width="0.95"/>
<circle cx="415.62" cy="666.37" r="1.35" fill="#fff" stroke="#62bb55" stroke-width="0.95"/>
<circle cx="424.99" cy="666.35" r="1.35" fill="#fff" stroke="#62bb55" stroke-width="0.95"/>
<circle cx="434.36" cy="666.33" r="1.35" fill="#fff" stroke="#62bb55" stroke-width="0.95"/>
<circle cx="443.73" cy="666.32" r="1.35" fill="#fff" stroke="#62bb55" stroke-width="0.95"/>
<circle cx="453.10" cy="666.30" r="1.35" fill="#fff" stroke="#62bb55" stroke-width="0.95"/>
<path d="M265.7 663.9 L276.7 663.5 L286.6 662.5 L295.9 660.1 L305.6 657.7 L314.6 653.3 L324.1 649.3 L333.6 647.4 L343.5 649.6 L350.4 654.3 L358.4 659.5 L367.4 663.5 L376.9 664.2 L386.4 663.9 L395.9 665.7 L405.0 666.2 L453.1 666.2" stroke="#cf4242" stroke-width="1.0" fill="none" stroke-linejoin="round" stroke-dasharray="3 2.5"/>
<rect x="275.15" y="661.95" width="3.1" height="3.1" fill="#fff" stroke="#cf4242" stroke-width="1.15"/>
<rect x="285.05" y="660.95" width="3.1" height="3.1" fill="#fff" stroke="#cf4242" stroke-width="1.15"/>
<rect x="294.35" y="658.55" width="3.1" height="3.1" fill="#fff" stroke="#cf4242" stroke-width="1.15"/>
<rect x="304.05" y="656.15" width="3.1" height="3.1" fill="#fff" stroke="#cf4242" stroke-width="1.15"/>
<rect x="313.05" y="651.75" width="3.1" height="3.1" fill="#fff" stroke="#cf4242" stroke-width="1.15"/>
<rect x="322.55" y="647.75" width="3.1" height="3.1" fill="#fff" stroke="#cf4242" stroke-width="1.15"/>
<rect x="332.05" y="645.85" width="3.1" height="3.1" fill="#fff" stroke="#cf4242" stroke-width="1.15"/>
<rect x="341.95" y="648.05" width="3.1" height="3.1" fill="#fff" stroke="#cf4242" stroke-width="1.15"/>
<rect x="348.85" y="652.75" width="3.1" height="3.1" fill="#fff" stroke="#cf4242" stroke-width="1.15"/>
<rect x="356.85" y="657.95" width="3.1" height="3.1" fill="#fff" stroke="#cf4242" stroke-width="1.15"/>
<rect x="365.85" y="661.95" width="3.1" height="3.1" fill="#fff" stroke="#cf4242" stroke-width="1.15"/>
<rect x="375.35" y="662.65" width="3.1" height="3.1" fill="#fff" stroke="#cf4242" stroke-width="1.15"/>
<rect x="384.85" y="662.35" width="3.1" height="3.1" fill="#fff" stroke="#cf4242" stroke-width="1.15"/>
<rect x="394.35" y="664.15" width="3.1" height="3.1" fill="#fff" stroke="#cf4242" stroke-width="1.15"/>
<rect x="264.15" y="662.35" width="3.1" height="3.1" fill="#fff" stroke="#cf4242" stroke-width="1.15"/>
<rect x="414.07" y="664.65" width="3.1" height="3.1" fill="#fff" stroke="#cf4242" stroke-width="1.15"/>
<rect x="423.44" y="664.65" width="3.1" height="3.1" fill="#fff" stroke="#cf4242" stroke-width="1.15"/>
<rect x="432.81" y="664.65" width="3.1" height="3.1" fill="#fff" stroke="#cf4242" stroke-width="1.15"/>
<rect x="442.18" y="664.65" width="3.1" height="3.1" fill="#fff" stroke="#cf4242" stroke-width="1.15"/>
<rect x="451.55" y="664.65" width="3.1" height="3.1" fill="#fff" stroke="#cf4242" stroke-width="1.15"/>
<path d="M265.7 667.4 L277.4 670.1 L286.6 671.5 L295.7 673.7 L305.1 674.5 L314.6 671.5 L320.5 667.9 L324.9 663.5 L330.0 660.6 L339.5 656.2 L346.8 659.1 L354.1 656.9 L360.1 654.7 L365.2 655.5 L371.1 659.9 L376.9 664.2 L385.7 670.1 L395.9 668.6 L401.7 666.4 L453.1 666.3" stroke="#f0a445" stroke-width="1.0" fill="none" stroke-linejoin="round"/>
<path d="M277.40 668.26L279.15 671.41H275.65Z" fill="#fff" stroke="#f0a445" stroke-width="0.95"/>
<path d="M286.60 669.66L288.35 672.81H284.85Z" fill="#fff" stroke="#f0a445" stroke-width="0.95"/>
<path d="M295.70 671.86L297.45 675.01H293.95Z" fill="#fff" stroke="#f0a445" stroke-width="0.95"/>
<path d="M305.10 672.66L306.85 675.81H303.35Z" fill="#fff" stroke="#f0a445" stroke-width="0.95"/>
<path d="M314.60 669.66L316.35 672.81H312.85Z" fill="#fff" stroke="#f0a445" stroke-width="0.95"/>
<path d="M320.50 666.06L322.25 669.21H318.75Z" fill="#fff" stroke="#f0a445" stroke-width="0.95"/>
<path d="M324.90 661.66L326.65 664.81H323.15Z" fill="#fff" stroke="#f0a445" stroke-width="0.95"/>
<path d="M330.00 658.76L331.75 661.91H328.25Z" fill="#fff" stroke="#f0a445" stroke-width="0.95"/>
<path d="M339.50 654.36L341.25 657.51H337.75Z" fill="#fff" stroke="#f0a445" stroke-width="0.95"/>
<path d="M346.80 657.26L348.55 660.41H345.05Z" fill="#fff" stroke="#f0a445" stroke-width="0.95"/>
<path d="M354.10 655.06L355.85 658.21H352.35Z" fill="#fff" stroke="#f0a445" stroke-width="0.95"/>
<path d="M360.10 652.86L361.85 656.01H358.35Z" fill="#fff" stroke="#f0a445" stroke-width="0.95"/>
<path d="M365.20 653.66L366.95 656.81H363.45Z" fill="#fff" stroke="#f0a445" stroke-width="0.95"/>
<path d="M371.10 658.06L372.85 661.21H369.35Z" fill="#fff" stroke="#f0a445" stroke-width="0.95"/>
<path d="M376.90 662.36L378.65 665.51H375.15Z" fill="#fff" stroke="#f0a445" stroke-width="0.95"/>
<path d="M385.70 668.26L387.45 671.41H383.95Z" fill="#fff" stroke="#f0a445" stroke-width="0.95"/>
<path d="M395.90 666.76L397.65 669.91H394.15Z" fill="#fff" stroke="#f0a445" stroke-width="0.95"/>
<path d="M265.70 665.56L267.45 668.71H263.95Z" fill="#fff" stroke="#f0a445" stroke-width="0.95"/>
<path d="M406.25 664.55L408.00 667.70H404.50Z" fill="#fff" stroke="#f0a445" stroke-width="0.95"/>
<path d="M415.62 664.54L417.37 667.69H413.87Z" fill="#fff" stroke="#f0a445" stroke-width="0.95"/>
<path d="M424.99 664.52L426.74 667.67H423.24Z" fill="#fff" stroke="#f0a445" stroke-width="0.95"/>
<path d="M434.36 664.50L436.11 667.65H432.61Z" fill="#fff" stroke="#f0a445" stroke-width="0.95"/>
<path d="M443.73 664.48L445.48 667.63H441.98Z" fill="#fff" stroke="#f0a445" stroke-width="0.95"/>
<path d="M453.10 664.46L454.85 667.61H451.35Z" fill="#fff" stroke="#f0a445" stroke-width="0.95"/>
<path d="M265.7 665.9 L453.1 665.9" stroke="#9a4aa5" stroke-width="1.2" fill="none" stroke-linejoin="round"/>
<path d="M265.70 667.74L267.45 664.59H263.95Z" fill="#fff" stroke="#9a4aa5" stroke-width="0.95"/>
<path d="M275.07 667.74L276.82 664.59H273.32Z" fill="#fff" stroke="#9a4aa5" stroke-width="0.95"/>
<path d="M284.44 667.74L286.19 664.59H282.69Z" fill="#fff" stroke="#9a4aa5" stroke-width="0.95"/>
<path d="M293.81 667.74L295.56 664.59H292.06Z" fill="#fff" stroke="#9a4aa5" stroke-width="0.95"/>
<path d="M303.18 667.74L304.93 664.59H301.43Z" fill="#fff" stroke="#9a4aa5" stroke-width="0.95"/>
<path d="M312.55 667.74L314.30 664.59H310.80Z" fill="#fff" stroke="#9a4aa5" stroke-width="0.95"/>
<path d="M321.92 667.74L323.67 664.59H320.17Z" fill="#fff" stroke="#9a4aa5" stroke-width="0.95"/>
<path d="M331.29 667.74L333.04 664.59H329.54Z" fill="#fff" stroke="#9a4aa5" stroke-width="0.95"/>
<path d="M340.66 667.74L342.41 664.59H338.91Z" fill="#fff" stroke="#9a4aa5" stroke-width="0.95"/>
<path d="M350.03 667.74L351.78 664.59H348.28Z" fill="#fff" stroke="#9a4aa5" stroke-width="0.95"/>
<path d="M359.40 667.74L361.15 664.59H357.65Z" fill="#fff" stroke="#9a4aa5" stroke-width="0.95"/>
<path d="M368.77 667.74L370.52 664.59H367.02Z" fill="#fff" stroke="#9a4aa5" stroke-width="0.95"/>
<path d="M378.14 667.74L379.89 664.59H376.39Z" fill="#fff" stroke="#9a4aa5" stroke-width="0.95"/>
<path d="M387.51 667.74L389.26 664.59H385.76Z" fill="#fff" stroke="#9a4aa5" stroke-width="0.95"/>
<path d="M396.88 667.74L398.63 664.59H395.13Z" fill="#fff" stroke="#9a4aa5" stroke-width="0.95"/>
<path d="M406.25 667.74L408.00 664.59H404.50Z" fill="#fff" stroke="#9a4aa5" stroke-width="0.95"/>
<path d="M415.62 667.74L417.37 664.59H413.87Z" fill="#fff" stroke="#9a4aa5" stroke-width="0.95"/>
<path d="M424.99 667.74L426.74 664.59H423.24Z" fill="#fff" stroke="#9a4aa5" stroke-width="0.95"/>
<path d="M434.36 667.74L436.11 664.59H432.61Z" fill="#fff" stroke="#9a4aa5" stroke-width="0.95"/>
<path d="M443.73 667.74L445.48 664.59H441.98Z" fill="#fff" stroke="#9a4aa5" stroke-width="0.95"/>
<path d="M453.10 667.74L454.85 664.59H451.35Z" fill="#fff" stroke="#9a4aa5" stroke-width="0.95"/>
<path d="M265.7 656.9 L270.8 655.2 L280.3 651.1 L289.1 647.9 L298.6 647.0 L307.3 650.8 L313.2 656.2 L319.0 663.5 L322.7 671.5 L326.3 679.6 L330.0 686.9 L335.8 694.9 L340.9 697.1 L344.6 695.6 L352.6 690.5 L361.6 686.1 L368.1 679.6 L373.2 673.0 L377.6 666.4 L384.9 659.1 L391.5 651.1 L400.3 656.2 L406.1 662.0 L413.4 665.4 L425.0 666.2 L453.1 666.3" stroke="#4848a2" stroke-width="1.0" fill="none" stroke-linejoin="round"/>
<path d="M272.55 655.20L269.40 653.54V656.86Z" fill="#fff" stroke="#4848a2" stroke-width="0.95"/>
<path d="M282.05 651.10L278.90 649.44V652.76Z" fill="#fff" stroke="#4848a2" stroke-width="0.95"/>
<path d="M290.85 647.90L287.70 646.24V649.56Z" fill="#fff" stroke="#4848a2" stroke-width="0.95"/>
<path d="M300.35 647.00L297.20 645.34V648.66Z" fill="#fff" stroke="#4848a2" stroke-width="0.95"/>
<path d="M309.05 650.80L305.90 649.14V652.46Z" fill="#fff" stroke="#4848a2" stroke-width="0.95"/>
<path d="M314.95 656.20L311.80 654.54V657.86Z" fill="#fff" stroke="#4848a2" stroke-width="0.95"/>
<path d="M320.75 663.50L317.60 661.84V665.16Z" fill="#fff" stroke="#4848a2" stroke-width="0.95"/>
<path d="M324.45 671.50L321.30 669.84V673.16Z" fill="#fff" stroke="#4848a2" stroke-width="0.95"/>
<path d="M328.05 679.60L324.90 677.94V681.26Z" fill="#fff" stroke="#4848a2" stroke-width="0.95"/>
<path d="M331.75 686.90L328.60 685.24V688.56Z" fill="#fff" stroke="#4848a2" stroke-width="0.95"/>
<path d="M337.55 694.90L334.40 693.24V696.56Z" fill="#fff" stroke="#4848a2" stroke-width="0.95"/>
<path d="M342.65 697.10L339.50 695.44V698.76Z" fill="#fff" stroke="#4848a2" stroke-width="0.95"/>
<path d="M346.35 695.60L343.20 693.94V697.26Z" fill="#fff" stroke="#4848a2" stroke-width="0.95"/>
<path d="M354.35 690.50L351.20 688.84V692.16Z" fill="#fff" stroke="#4848a2" stroke-width="0.95"/>
<path d="M363.35 686.10L360.20 684.44V687.76Z" fill="#fff" stroke="#4848a2" stroke-width="0.95"/>
<path d="M369.85 679.60L366.70 677.94V681.26Z" fill="#fff" stroke="#4848a2" stroke-width="0.95"/>
<path d="M374.95 673.00L371.80 671.34V674.66Z" fill="#fff" stroke="#4848a2" stroke-width="0.95"/>
<path d="M379.35 666.40L376.20 664.74V668.06Z" fill="#fff" stroke="#4848a2" stroke-width="0.95"/>
<path d="M386.65 659.10L383.50 657.44V660.76Z" fill="#fff" stroke="#4848a2" stroke-width="0.95"/>
<path d="M393.25 651.10L390.10 649.44V652.76Z" fill="#fff" stroke="#4848a2" stroke-width="0.95"/>
<path d="M402.05 656.20L398.90 654.54V657.86Z" fill="#fff" stroke="#4848a2" stroke-width="0.95"/>
<path d="M407.85 662.00L404.70 660.34V663.66Z" fill="#fff" stroke="#4848a2" stroke-width="0.95"/>
<path d="M415.15 665.40L412.00 663.74V667.06Z" fill="#fff" stroke="#4848a2" stroke-width="0.95"/>
<path d="M267.45 656.90L264.30 655.24V658.56Z" fill="#fff" stroke="#4848a2" stroke-width="0.95"/>
<path d="M436.11 666.23L432.96 664.57V667.90Z" fill="#fff" stroke="#4848a2" stroke-width="0.95"/>
<path d="M445.48 666.27L442.33 664.60V667.93Z" fill="#fff" stroke="#4848a2" stroke-width="0.95"/>
<path d="M454.85 666.30L451.70 664.64V667.96Z" fill="#fff" stroke="#4848a2" stroke-width="0.95"/>
<path d="M265.7 666.4 L453.1 666.4" stroke="#222" stroke-width="1.0" fill="none" stroke-linejoin="round"/>
<circle cx="265.70" cy="666.40" r="1.35" fill="#fff" stroke="#222" stroke-width="0.95"/>
<circle cx="275.07" cy="666.40" r="1.35" fill="#fff" stroke="#222" stroke-width="0.95"/>
<circle cx="284.44" cy="666.40" r="1.35" fill="#fff" stroke="#222" stroke-width="0.95"/>
<circle cx="293.81" cy="666.40" r="1.35" fill="#fff" stroke="#222" stroke-width="0.95"/>
<circle cx="303.18" cy="666.40" r="1.35" fill="#fff" stroke="#222" stroke-width="0.95"/>
<circle cx="312.55" cy="666.40" r="1.35" fill="#fff" stroke="#222" stroke-width="0.95"/>
<circle cx="321.92" cy="666.40" r="1.35" fill="#fff" stroke="#222" stroke-width="0.95"/>
<circle cx="331.29" cy="666.40" r="1.35" fill="#fff" stroke="#222" stroke-width="0.95"/>
<circle cx="340.66" cy="666.40" r="1.35" fill="#fff" stroke="#222" stroke-width="0.95"/>
<circle cx="350.03" cy="666.40" r="1.35" fill="#fff" stroke="#222" stroke-width="0.95"/>
<circle cx="359.40" cy="666.40" r="1.35" fill="#fff" stroke="#222" stroke-width="0.95"/>
<circle cx="368.77" cy="666.40" r="1.35" fill="#fff" stroke="#222" stroke-width="0.95"/>
<circle cx="378.14" cy="666.40" r="1.35" fill="#fff" stroke="#222" stroke-width="0.95"/>
<circle cx="387.51" cy="666.40" r="1.35" fill="#fff" stroke="#222" stroke-width="0.95"/>
<circle cx="396.88" cy="666.40" r="1.35" fill="#fff" stroke="#222" stroke-width="0.95"/>
<circle cx="406.25" cy="666.40" r="1.35" fill="#fff" stroke="#222" stroke-width="0.95"/>
<circle cx="415.62" cy="666.40" r="1.35" fill="#fff" stroke="#222" stroke-width="0.95"/>
<circle cx="424.99" cy="666.40" r="1.35" fill="#fff" stroke="#222" stroke-width="0.95"/>
<circle cx="434.36" cy="666.40" r="1.35" fill="#fff" stroke="#222" stroke-width="0.95"/>
<circle cx="443.73" cy="666.40" r="1.35" fill="#fff" stroke="#222" stroke-width="0.95"/>
<circle cx="453.10" cy="666.40" r="1.35" fill="#fff" stroke="#222" stroke-width="0.95"/>
<path d="M265.7 664.2 L276.7 665.0 L286.9 663.5 L295.7 661.3 L304.4 659.1 L313.2 658.4 L320.5 656.2 L327.8 651.8 L335.1 646.7 L340.9 640.1 L346.8 632.8 L354.1 624.8 L360.8 616.8 L365.2 613.9 L369.6 618.2 L375.4 626.3 L381.3 635.8 L387.1 643.8 L393.0 651.1 L400.3 658.4 L407.6 662.8 L414.9 665.7 L453.1 666.2" stroke="#8cc8cf" stroke-width="1.3" fill="none" stroke-linejoin="round" stroke-dasharray="6 2 1.2 2 1.2 2"/>
<path d="M265.70 666.20h3.6M265.70 618.40h3.6M303.18 714.00v-3.8M340.66 714.00v-3.8M378.14 714.00v-3.8M415.62 714.00v-3.8" stroke="#4a4a4a" stroke-width="1" fill="none"/>
<path d="M265.70 704.44h1.8M265.70 694.88h1.8M265.70 685.32h1.8M265.70 675.76h1.8M265.70 656.64h1.8M265.70 647.08h1.8M265.70 637.52h1.8M265.70 627.96h1.8M265.70 608.84h1.8M265.70 599.28h1.8M265.70 589.72h1.8M265.70 580.16h1.8M275.07 714.00v-2.0M284.44 714.00v-2.0M293.81 714.00v-2.0M312.55 714.00v-2.0M321.92 714.00v-2.0M331.29 714.00v-2.0M350.03 714.00v-2.0M359.40 714.00v-2.0M368.77 714.00v-2.0M387.51 714.00v-2.0M396.88 714.00v-2.0M406.25 714.00v-2.0M424.99 714.00v-2.0M434.36 714.00v-2.0M443.73 714.00v-2.0" stroke="#7a7a7a" stroke-width="0.8" fill="none"/>
<rect x="265.70" y="570.60" width="187.40" height="143.40" stroke="#4a4a4a" stroke-width="1.2" fill="none"/>
<text transform="translate(263.30 718.00) scale(1 1.08)" text-anchor="end" font-size="11.2">−0.01</text>
<text transform="translate(263.30 670.20) scale(1 1.08)" text-anchor="end" font-size="11.2">0</text>
<text transform="translate(263.30 622.40) scale(1 1.08)" text-anchor="end" font-size="11.2">0.01</text>
<text transform="translate(263.30 574.60) scale(1 1.08)" text-anchor="end" font-size="11.2">0.02</text>
<text transform="translate(265.70 725.00) scale(1 1.08)" text-anchor="middle" font-size="11.2">0</text>
<text transform="translate(303.18 725.00) scale(1 1.08)" text-anchor="middle" font-size="11.2">0.2</text>
<text transform="translate(340.66 725.00) scale(1 1.08)" text-anchor="middle" font-size="11.2">0.4</text>
<text transform="translate(378.14 725.00) scale(1 1.08)" text-anchor="middle" font-size="11.2">0.6</text>
<text transform="translate(415.62 725.00) scale(1 1.08)" text-anchor="middle" font-size="11.2">0.8</text>
<text transform="translate(453.10 725.00) scale(1 1.08)" text-anchor="middle" font-size="11.2">1.0</text>
<text transform="translate(359.40 738.00) scale(1 1.08)" text-anchor="middle" font-size="11.8">Relative length</text>
<text transform="translate(270.70 584.00) scale(1 1.08)" font-size="11.4">(k) L11</text>
<path d="M489.5 670.4 L499.2 672.3 L508.7 673.7 L518.2 674.3 L527.0 673.3 L535.7 671.1 L544.5 667.4 L551.8 662.3 L559.1 655.8 L567.1 650.4 L574.4 646.0 L583.8 642.6 L593.3 641.2 L603.5 645.1 L610.8 651.4 L616.7 658.2 L622.5 663.1 L629.8 667.0 L639.3 666.7 L650.0 666.3 L677.4 666.2" stroke="#62bb55" stroke-width="1.0" fill="none" stroke-linejoin="round"/>
<circle cx="499.20" cy="672.30" r="1.35" fill="#fff" stroke="#62bb55" stroke-width="0.95"/>
<circle cx="508.70" cy="673.70" r="1.35" fill="#fff" stroke="#62bb55" stroke-width="0.95"/>
<circle cx="518.20" cy="674.30" r="1.35" fill="#fff" stroke="#62bb55" stroke-width="0.95"/>
<circle cx="527.00" cy="673.30" r="1.35" fill="#fff" stroke="#62bb55" stroke-width="0.95"/>
<circle cx="535.70" cy="671.10" r="1.35" fill="#fff" stroke="#62bb55" stroke-width="0.95"/>
<circle cx="544.50" cy="667.40" r="1.35" fill="#fff" stroke="#62bb55" stroke-width="0.95"/>
<circle cx="551.80" cy="662.30" r="1.35" fill="#fff" stroke="#62bb55" stroke-width="0.95"/>
<circle cx="559.10" cy="655.80" r="1.35" fill="#fff" stroke="#62bb55" stroke-width="0.95"/>
<circle cx="567.10" cy="650.40" r="1.35" fill="#fff" stroke="#62bb55" stroke-width="0.95"/>
<circle cx="574.40" cy="646.00" r="1.35" fill="#fff" stroke="#62bb55" stroke-width="0.95"/>
<circle cx="583.80" cy="642.60" r="1.35" fill="#fff" stroke="#62bb55" stroke-width="0.95"/>
<circle cx="593.30" cy="641.20" r="1.35" fill="#fff" stroke="#62bb55" stroke-width="0.95"/>
<circle cx="603.50" cy="645.10" r="1.35" fill="#fff" stroke="#62bb55" stroke-width="0.95"/>
<circle cx="610.80" cy="651.40" r="1.35" fill="#fff" stroke="#62bb55" stroke-width="0.95"/>
<circle cx="616.70" cy="658.20" r="1.35" fill="#fff" stroke="#62bb55" stroke-width="0.95"/>
<circle cx="622.50" cy="663.10" r="1.35" fill="#fff" stroke="#62bb55" stroke-width="0.95"/>
<circle cx="629.80" cy="667.00" r="1.35" fill="#fff" stroke="#62bb55" stroke-width="0.95"/>
<circle cx="639.30" cy="666.70" r="1.35" fill="#fff" stroke="#62bb55" stroke-width="0.95"/>
<circle cx="658.61" cy="666.27" r="1.35" fill="#fff" stroke="#62bb55" stroke-width="0.95"/>
<circle cx="668.00" cy="666.23" r="1.35" fill="#fff" stroke="#62bb55" stroke-width="0.95"/>
<circle cx="677.40" cy="666.20" r="1.35" fill="#fff" stroke="#62bb55" stroke-width="0.95"/>
<path d="M489.5 664.0 L497.0 663.8 L506.5 663.5 L516.0 662.6 L525.5 662.0 L535.0 660.1 L544.5 658.2 L554.0 655.8 L563.5 655.8 L572.2 656.8 L582.4 659.4 L591.9 662.3 L601.4 664.1 L610.8 665.3 L620.3 666.0 L677.4 666.2" stroke="#cf4242" stroke-width="1.0" fill="none" stroke-linejoin="round" stroke-dasharray="3 2.5"/>
<rect x="495.45" y="662.25" width="3.1" height="3.1" fill="#fff" stroke="#cf4242" stroke-width="1.15"/>
<rect x="504.95" y="661.95" width="3.1" height="3.1" fill="#fff" stroke="#cf4242" stroke-width="1.15"/>
<rect x="514.45" y="661.05" width="3.1" height="3.1" fill="#fff" stroke="#cf4242" stroke-width="1.15"/>
<rect x="523.95" y="660.45" width="3.1" height="3.1" fill="#fff" stroke="#cf4242" stroke-width="1.15"/>
<rect x="533.45" y="658.55" width="3.1" height="3.1" fill="#fff" stroke="#cf4242" stroke-width="1.15"/>
<rect x="542.95" y="656.65" width="3.1" height="3.1" fill="#fff" stroke="#cf4242" stroke-width="1.15"/>
<rect x="552.45" y="654.25" width="3.1" height="3.1" fill="#fff" stroke="#cf4242" stroke-width="1.15"/>
<rect x="561.95" y="654.25" width="3.1" height="3.1" fill="#fff" stroke="#cf4242" stroke-width="1.15"/>
<rect x="570.65" y="655.25" width="3.1" height="3.1" fill="#fff" stroke="#cf4242" stroke-width="1.15"/>
<rect x="580.85" y="657.85" width="3.1" height="3.1" fill="#fff" stroke="#cf4242" stroke-width="1.15"/>
<rect x="590.35" y="660.75" width="3.1" height="3.1" fill="#fff" stroke="#cf4242" stroke-width="1.15"/>
<rect x="599.85" y="662.55" width="3.1" height="3.1" fill="#fff" stroke="#cf4242" stroke-width="1.15"/>
<rect x="609.25" y="663.75" width="3.1" height="3.1" fill="#fff" stroke="#cf4242" stroke-width="1.15"/>
<rect x="618.75" y="664.45" width="3.1" height="3.1" fill="#fff" stroke="#cf4242" stroke-width="1.15"/>
<rect x="628.88" y="664.49" width="3.1" height="3.1" fill="#fff" stroke="#cf4242" stroke-width="1.15"/>
<rect x="638.27" y="664.52" width="3.1" height="3.1" fill="#fff" stroke="#cf4242" stroke-width="1.15"/>
<rect x="647.67" y="664.55" width="3.1" height="3.1" fill="#fff" stroke="#cf4242" stroke-width="1.15"/>
<rect x="657.06" y="664.58" width="3.1" height="3.1" fill="#fff" stroke="#cf4242" stroke-width="1.15"/>
<rect x="666.46" y="664.62" width="3.1" height="3.1" fill="#fff" stroke="#cf4242" stroke-width="1.15"/>
<rect x="675.85" y="664.65" width="3.1" height="3.1" fill="#fff" stroke="#cf4242" stroke-width="1.15"/>
<path d="M489.5 666.7 L496.3 668.2 L506.5 669.6 L516.0 670.8 L525.5 671.4 L535.0 670.4 L544.5 668.9 L553.2 663.8 L563.5 660.1 L572.2 659.1 L582.4 661.6 L591.9 661.6 L601.4 662.6 L610.8 665.0 L620.3 668.2 L629.8 667.4 L640.0 666.4 L677.4 666.3" stroke="#f0a445" stroke-width="1.0" fill="none" stroke-linejoin="round"/>
<path d="M496.30 666.36L498.05 669.51H494.55Z" fill="#fff" stroke="#f0a445" stroke-width="0.95"/>
<path d="M506.50 667.76L508.25 670.91H504.75Z" fill="#fff" stroke="#f0a445" stroke-width="0.95"/>
<path d="M516.00 668.96L517.75 672.11H514.25Z" fill="#fff" stroke="#f0a445" stroke-width="0.95"/>
<path d="M525.50 669.56L527.25 672.71H523.75Z" fill="#fff" stroke="#f0a445" stroke-width="0.95"/>
<path d="M535.00 668.56L536.75 671.71H533.25Z" fill="#fff" stroke="#f0a445" stroke-width="0.95"/>
<path d="M544.50 667.06L546.25 670.21H542.75Z" fill="#fff" stroke="#f0a445" stroke-width="0.95"/>
<path d="M553.20 661.96L554.95 665.11H551.45Z" fill="#fff" stroke="#f0a445" stroke-width="0.95"/>
<path d="M563.50 658.26L565.25 661.41H561.75Z" fill="#fff" stroke="#f0a445" stroke-width="0.95"/>
<path d="M572.20 657.26L573.95 660.41H570.45Z" fill="#fff" stroke="#f0a445" stroke-width="0.95"/>
<path d="M582.40 659.76L584.15 662.91H580.65Z" fill="#fff" stroke="#f0a445" stroke-width="0.95"/>
<path d="M591.90 659.76L593.65 662.91H590.15Z" fill="#fff" stroke="#f0a445" stroke-width="0.95"/>
<path d="M601.40 660.76L603.15 663.91H599.65Z" fill="#fff" stroke="#f0a445" stroke-width="0.95"/>
<path d="M610.80 663.16L612.55 666.31H609.05Z" fill="#fff" stroke="#f0a445" stroke-width="0.95"/>
<path d="M620.30 666.36L622.05 669.51H618.55Z" fill="#fff" stroke="#f0a445" stroke-width="0.95"/>
<path d="M629.80 665.56L631.55 668.71H628.05Z" fill="#fff" stroke="#f0a445" stroke-width="0.95"/>
<path d="M649.22 664.54L650.97 667.69H647.47Z" fill="#fff" stroke="#f0a445" stroke-width="0.95"/>
<path d="M658.61 664.51L660.36 667.66H656.86Z" fill="#fff" stroke="#f0a445" stroke-width="0.95"/>
<path d="M668.00 664.49L669.75 667.64H666.25Z" fill="#fff" stroke="#f0a445" stroke-width="0.95"/>
<path d="M677.40 664.46L679.15 667.61H675.65Z" fill="#fff" stroke="#f0a445" stroke-width="0.95"/>
<path d="M489.5 665.9 L677.4 665.9" stroke="#9a4aa5" stroke-width="1.2" fill="none" stroke-linejoin="round"/>
<path d="M498.89 667.74L500.64 664.59H497.14Z" fill="#fff" stroke="#9a4aa5" stroke-width="0.95"/>
<path d="M508.29 667.74L510.04 664.59H506.54Z" fill="#fff" stroke="#9a4aa5" stroke-width="0.95"/>
<path d="M517.68 667.74L519.43 664.59H515.93Z" fill="#fff" stroke="#9a4aa5" stroke-width="0.95"/>
<path d="M527.08 667.74L528.83 664.59H525.33Z" fill="#fff" stroke="#9a4aa5" stroke-width="0.95"/>
<path d="M536.48 667.74L538.23 664.59H534.73Z" fill="#fff" stroke="#9a4aa5" stroke-width="0.95"/>
<path d="M545.87 667.74L547.62 664.59H544.12Z" fill="#fff" stroke="#9a4aa5" stroke-width="0.95"/>
<path d="M555.26 667.74L557.01 664.59H553.51Z" fill="#fff" stroke="#9a4aa5" stroke-width="0.95"/>
<path d="M564.66 667.74L566.41 664.59H562.91Z" fill="#fff" stroke="#9a4aa5" stroke-width="0.95"/>
<path d="M574.05 667.74L575.80 664.59H572.30Z" fill="#fff" stroke="#9a4aa5" stroke-width="0.95"/>
<path d="M583.45 667.74L585.20 664.59H581.70Z" fill="#fff" stroke="#9a4aa5" stroke-width="0.95"/>
<path d="M592.85 667.74L594.60 664.59H591.10Z" fill="#fff" stroke="#9a4aa5" stroke-width="0.95"/>
<path d="M602.24 667.74L603.99 664.59H600.49Z" fill="#fff" stroke="#9a4aa5" stroke-width="0.95"/>
<path d="M611.63 667.74L613.38 664.59H609.88Z" fill="#fff" stroke="#9a4aa5" stroke-width="0.95"/>
<path d="M621.03 667.74L622.78 664.59H619.28Z" fill="#fff" stroke="#9a4aa5" stroke-width="0.95"/>
<path d="M630.42 667.74L632.17 664.59H628.67Z" fill="#fff" stroke="#9a4aa5" stroke-width="0.95"/>
<path d="M639.82 667.74L641.57 664.59H638.07Z" fill="#fff" stroke="#9a4aa5" stroke-width="0.95"/>
<path d="M649.22 667.74L650.97 664.59H647.47Z" fill="#fff" stroke="#9a4aa5" stroke-width="0.95"/>
<path d="M658.61 667.74L660.36 664.59H656.86Z" fill="#fff" stroke="#9a4aa5" stroke-width="0.95"/>
<path d="M668.00 667.74L669.75 664.59H666.25Z" fill="#fff" stroke="#9a4aa5" stroke-width="0.95"/>
<path d="M677.40 667.74L679.15 664.59H675.65Z" fill="#fff" stroke="#9a4aa5" stroke-width="0.95"/>
<path d="M489.5 659.4 L496.3 657.7 L505.8 655.0 L515.3 653.6 L524.8 653.3 L534.3 656.5 L543.0 662.3 L548.1 668.9 L553.2 675.5 L559.8 682.8 L566.4 687.2 L576.6 684.2 L583.8 678.1 L591.9 674.0 L601.4 669.6 L610.8 666.0 L620.3 663.1 L629.1 660.6 L638.6 664.1 L646.6 665.5 L677.4 666.2" stroke="#4848a2" stroke-width="1.0" fill="none" stroke-linejoin="round"/>
<path d="M498.05 657.70L494.90 656.04V659.36Z" fill="#fff" stroke="#4848a2" stroke-width="0.95"/>
<path d="M507.55 655.00L504.40 653.34V656.66Z" fill="#fff" stroke="#4848a2" stroke-width="0.95"/>
<path d="M517.05 653.60L513.90 651.94V655.26Z" fill="#fff" stroke="#4848a2" stroke-width="0.95"/>
<path d="M526.55 653.30L523.40 651.64V654.96Z" fill="#fff" stroke="#4848a2" stroke-width="0.95"/>
<path d="M536.05 656.50L532.90 654.84V658.16Z" fill="#fff" stroke="#4848a2" stroke-width="0.95"/>
<path d="M544.75 662.30L541.60 660.64V663.96Z" fill="#fff" stroke="#4848a2" stroke-width="0.95"/>
<path d="M549.85 668.90L546.70 667.24V670.56Z" fill="#fff" stroke="#4848a2" stroke-width="0.95"/>
<path d="M554.95 675.50L551.80 673.84V677.16Z" fill="#fff" stroke="#4848a2" stroke-width="0.95"/>
<path d="M561.55 682.80L558.40 681.14V684.46Z" fill="#fff" stroke="#4848a2" stroke-width="0.95"/>
<path d="M568.15 687.20L565.00 685.54V688.86Z" fill="#fff" stroke="#4848a2" stroke-width="0.95"/>
<path d="M578.35 684.20L575.20 682.54V685.86Z" fill="#fff" stroke="#4848a2" stroke-width="0.95"/>
<path d="M585.55 678.10L582.40 676.44V679.76Z" fill="#fff" stroke="#4848a2" stroke-width="0.95"/>
<path d="M593.65 674.00L590.50 672.34V675.66Z" fill="#fff" stroke="#4848a2" stroke-width="0.95"/>
<path d="M603.15 669.60L600.00 667.94V671.26Z" fill="#fff" stroke="#4848a2" stroke-width="0.95"/>
<path d="M612.55 666.00L609.40 664.34V667.66Z" fill="#fff" stroke="#4848a2" stroke-width="0.95"/>
<path d="M622.05 663.10L618.90 661.44V664.76Z" fill="#fff" stroke="#4848a2" stroke-width="0.95"/>
<path d="M630.85 660.60L627.70 658.94V662.26Z" fill="#fff" stroke="#4848a2" stroke-width="0.95"/>
<path d="M640.35 664.10L637.20 662.44V665.76Z" fill="#fff" stroke="#4848a2" stroke-width="0.95"/>
<path d="M648.35 665.50L645.20 663.84V667.16Z" fill="#fff" stroke="#4848a2" stroke-width="0.95"/>
<path d="M660.36 665.77L657.21 664.11V667.44Z" fill="#fff" stroke="#4848a2" stroke-width="0.95"/>
<path d="M669.75 665.99L666.61 664.32V667.65Z" fill="#fff" stroke="#4848a2" stroke-width="0.95"/>
<path d="M679.15 666.20L676.00 664.54V667.86Z" fill="#fff" stroke="#4848a2" stroke-width="0.95"/>
<path d="M489.5 666.4 L677.4 666.4" stroke="#222" stroke-width="1.0" fill="none" stroke-linejoin="round"/>
<circle cx="498.89" cy="666.40" r="1.35" fill="#fff" stroke="#222" stroke-width="0.95"/>
<circle cx="508.29" cy="666.40" r="1.35" fill="#fff" stroke="#222" stroke-width="0.95"/>
<circle cx="517.68" cy="666.40" r="1.35" fill="#fff" stroke="#222" stroke-width="0.95"/>
<circle cx="527.08" cy="666.40" r="1.35" fill="#fff" stroke="#222" stroke-width="0.95"/>
<circle cx="536.48" cy="666.40" r="1.35" fill="#fff" stroke="#222" stroke-width="0.95"/>
<circle cx="545.87" cy="666.40" r="1.35" fill="#fff" stroke="#222" stroke-width="0.95"/>
<circle cx="555.26" cy="666.40" r="1.35" fill="#fff" stroke="#222" stroke-width="0.95"/>
<circle cx="564.66" cy="666.40" r="1.35" fill="#fff" stroke="#222" stroke-width="0.95"/>
<circle cx="574.05" cy="666.40" r="1.35" fill="#fff" stroke="#222" stroke-width="0.95"/>
<circle cx="583.45" cy="666.40" r="1.35" fill="#fff" stroke="#222" stroke-width="0.95"/>
<circle cx="592.85" cy="666.40" r="1.35" fill="#fff" stroke="#222" stroke-width="0.95"/>
<circle cx="602.24" cy="666.40" r="1.35" fill="#fff" stroke="#222" stroke-width="0.95"/>
<circle cx="611.63" cy="666.40" r="1.35" fill="#fff" stroke="#222" stroke-width="0.95"/>
<circle cx="621.03" cy="666.40" r="1.35" fill="#fff" stroke="#222" stroke-width="0.95"/>
<circle cx="630.42" cy="666.40" r="1.35" fill="#fff" stroke="#222" stroke-width="0.95"/>
<circle cx="639.82" cy="666.40" r="1.35" fill="#fff" stroke="#222" stroke-width="0.95"/>
<circle cx="649.22" cy="666.40" r="1.35" fill="#fff" stroke="#222" stroke-width="0.95"/>
<circle cx="658.61" cy="666.40" r="1.35" fill="#fff" stroke="#222" stroke-width="0.95"/>
<circle cx="668.00" cy="666.40" r="1.35" fill="#fff" stroke="#222" stroke-width="0.95"/>
<circle cx="677.40" cy="666.40" r="1.35" fill="#fff" stroke="#222" stroke-width="0.95"/>
<path d="M489.5 665.3 L506.5 664.5 L525.5 662.3 L544.5 659.1 L554.7 657.2 L564.9 655.0 L573.7 651.4 L582.4 648.5 L588.0 646.2 L594.1 644.1 L601.4 646.3 L610.1 652.8 L617.4 658.7 L626.2 663.1 L636.4 665.3 L645.2 666.0 L677.4 666.2" stroke="#8cc8cf" stroke-width="1.3" fill="none" stroke-linejoin="round" stroke-dasharray="6 2 1.2 2 1.2 2"/>
<path d="M489.50 690.10h3.6M489.50 666.20h3.6M489.50 642.30h3.6M489.50 618.40h3.6M489.50 594.50h3.6M527.08 714.00v-3.8M564.66 714.00v-3.8M602.24 714.00v-3.8M639.82 714.00v-3.8" stroke="#4a4a4a" stroke-width="1" fill="none"/>
<path d="M489.50 709.22h1.8M489.50 704.44h1.8M489.50 699.66h1.8M489.50 694.88h1.8M489.50 685.32h1.8M489.50 680.54h1.8M489.50 675.76h1.8M489.50 670.98h1.8M489.50 661.42h1.8M489.50 656.64h1.8M489.50 651.86h1.8M489.50 647.08h1.8M489.50 637.52h1.8M489.50 632.74h1.8M489.50 627.96h1.8M489.50 623.18h1.8M489.50 613.62h1.8M489.50 608.84h1.8M489.50 604.06h1.8M489.50 599.28h1.8M489.50 589.72h1.8M489.50 584.94h1.8M489.50 580.16h1.8M489.50 575.38h1.8M498.89 714.00v-2.0M508.29 714.00v-2.0M517.68 714.00v-2.0M536.48 714.00v-2.0M545.87 714.00v-2.0M555.26 714.00v-2.0M574.05 714.00v-2.0M583.45 714.00v-2.0M592.85 714.00v-2.0M611.63 714.00v-2.0M621.03 714.00v-2.0M630.42 714.00v-2.0M649.22 714.00v-2.0M658.61 714.00v-2.0M668.00 714.00v-2.0" stroke="#7a7a7a" stroke-width="0.8" fill="none"/>
<rect x="489.50" y="570.60" width="187.90" height="143.40" stroke="#4a4a4a" stroke-width="1.2" fill="none"/>
<text transform="translate(487.10 718.00) scale(1 1.08)" text-anchor="end" font-size="11.2">−0.010</text>
<text transform="translate(487.10 694.10) scale(1 1.08)" text-anchor="end" font-size="11.2">−0.005</text>
<text transform="translate(487.10 670.20) scale(1 1.08)" text-anchor="end" font-size="11.2">0</text>
<text transform="translate(487.10 646.30) scale(1 1.08)" text-anchor="end" font-size="11.2">0.005</text>
<text transform="translate(487.10 622.40) scale(1 1.08)" text-anchor="end" font-size="11.2">0.010</text>
<text transform="translate(487.10 598.50) scale(1 1.08)" text-anchor="end" font-size="11.2">0.015</text>
<text transform="translate(487.10 574.60) scale(1 1.08)" text-anchor="end" font-size="11.2">0.020</text>
<text transform="translate(489.50 725.00) scale(1 1.08)" text-anchor="middle" font-size="11.2">0</text>
<text transform="translate(527.08 725.00) scale(1 1.08)" text-anchor="middle" font-size="11.2">0.2</text>
<text transform="translate(564.66 725.00) scale(1 1.08)" text-anchor="middle" font-size="11.2">0.4</text>
<text transform="translate(602.24 725.00) scale(1 1.08)" text-anchor="middle" font-size="11.2">0.6</text>
<text transform="translate(639.82 725.00) scale(1 1.08)" text-anchor="middle" font-size="11.2">0.8</text>
<text transform="translate(677.40 725.00) scale(1 1.08)" text-anchor="middle" font-size="11.2">1.0</text>
<text transform="translate(583.45 738.00) scale(1 1.08)" text-anchor="middle" font-size="11.8">Relative length</text>
<text transform="translate(494.50 584.00) scale(1 1.08)" font-size="11.4">(l) L12</text>
</svg></body></html>
